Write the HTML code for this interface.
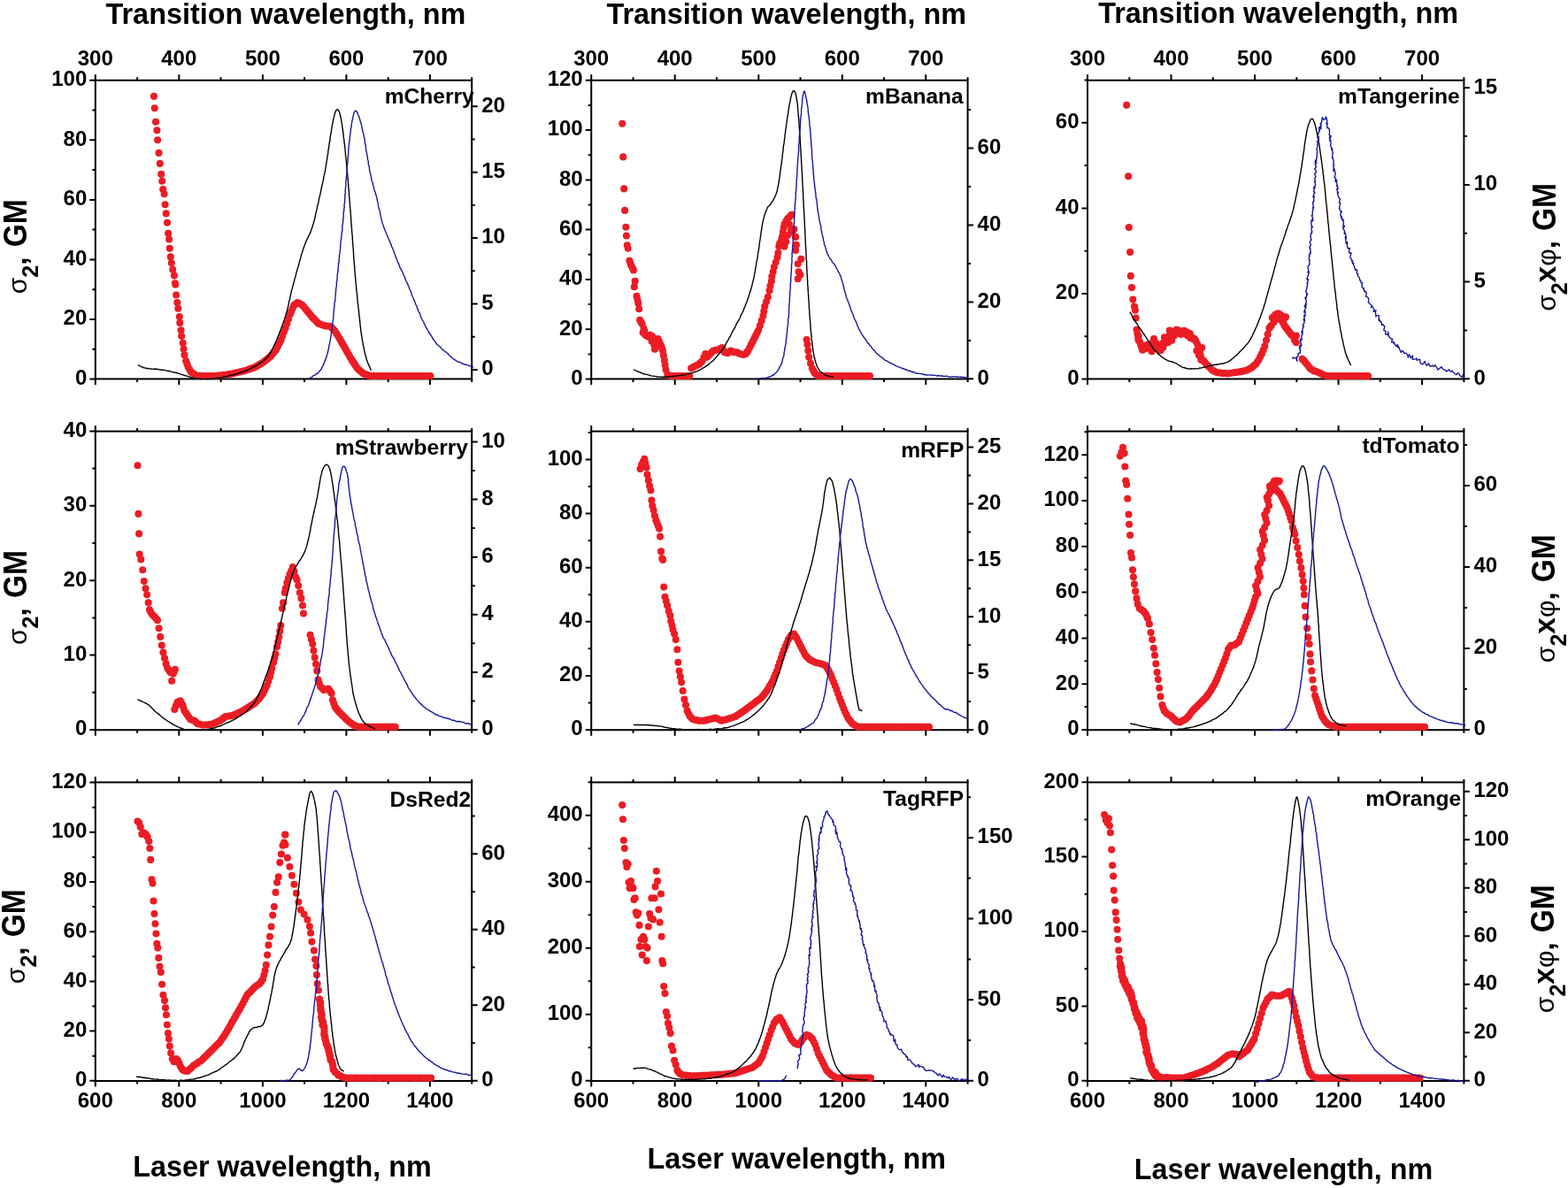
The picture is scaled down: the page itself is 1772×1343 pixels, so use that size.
<!DOCTYPE html><html><head><meta charset="utf-8"><style>html,body{margin:0;padding:0;background:#fff}svg{display:block}</style></head><body>
<svg width="1772" height="1343" viewBox="0 0 1772 1343">
<rect width="1772" height="1343" fill="#fff"/>
<g><rect x="107.8" y="90.8" width="425.4" height="337.6" fill="none" stroke="#000" stroke-width="2"/><path d="M107.8 428.4v6.5M107.8 90.8v-6.5M155.1 428.4v3.5M155.1 90.8v-3.5M202.3 428.4v6.5M202.3 90.8v-6.5M249.6 428.4v3.5M249.6 90.8v-3.5M296.9 428.4v6.5M296.9 90.8v-6.5M344.1 428.4v3.5M344.1 90.8v-3.5M391.4 428.4v6.5M391.4 90.8v-6.5M438.7 428.4v3.5M438.7 90.8v-3.5M485.9 428.4v6.5M485.9 90.8v-6.5M533.2 428.4v3.5M533.2 90.8v-3.5M107.8 428.5h-6.5M107.8 361h-6.5M107.8 293.4h-6.5M107.8 225.9h-6.5M107.8 158.3h-6.5M107.8 90.8h-6.5M107.8 394.7h-3.5M107.8 327.2h-3.5M107.8 259.6h-3.5M107.8 192.1h-3.5M107.8 124.6h-3.5M533.2 418h6.5M533.2 343.6h6.5M533.2 269.1h6.5M533.2 194.7h6.5M533.2 120.2h6.5M533.2 380.8h3.5M533.2 306.3h3.5M533.2 231.9h3.5M533.2 157.4h3.5" stroke="#000" stroke-width="2" fill="none"/><g font-family="'Liberation Sans', Arial, sans-serif" font-weight="bold" font-size="24" fill="#000"><text x="98.3" y="434.8" text-anchor="end">0</text><text x="98.3" y="367.3" text-anchor="end">20</text><text x="98.3" y="299.7" text-anchor="end">40</text><text x="98.3" y="232.2" text-anchor="end">60</text><text x="98.3" y="164.6" text-anchor="end">80</text><text x="98.3" y="97.1" text-anchor="end">100</text><text x="544.2" y="424.3">0</text><text x="544.2" y="349.9">5</text><text x="544.2" y="275.4">10</text><text x="544.2" y="201">15</text><text x="544.2" y="126.5">20</text><text x="107.8" y="74" text-anchor="middle">300</text><text x="202.3" y="74" text-anchor="middle">400</text><text x="296.9" y="74" text-anchor="middle">500</text><text x="391.4" y="74" text-anchor="middle">600</text><text x="485.9" y="74" text-anchor="middle">700</text></g><path d="M174 108.9h0M174.7 122.3h0M176 137.7h0M177.4 147.3h0M178.1 158.2h0M179.5 172.9h0M180.8 184.9h0M182.2 196.9h0M183.2 204.8h0M184.2 214h0M185.6 219.2h0M186.6 231.2h0M187.7 241.4h0M189 251.7h0M190.1 263.7h0M191.1 270.5h0M191.8 280.8h0M192.8 290.4h0M193.8 297.3h0M195.2 304.8h0M196.9 311.6h0M197.9 320.2h0M198.3 321.7h0M199.1 333.5h0M200.3 342h0M201.3 348.8h0M202.8 358.1h0M203.3 364.9h0M204.5 373.3h0M205.2 380.1h0M206.7 387.7h0M207.6 394.5h0M208.4 401.3h0M210.1 408h0M211.4 411.4h0M212.6 414.8h0M214.3 417.8h0M216 420.7h0M217.7 421.9h0M219.4 423h0M221.1 424.1h0M222.5 424.3h0M223.9 424.5h0M225.3 424.7h0M226.7 424.9h0M228.2 425h0M229.6 425h0M231.1 425h0M232.6 425h0M234.1 425h0M235.6 425h0M237.1 425h0M238.6 425h0M240.1 425h0M241.6 425h0M243.1 425h0M244.7 424.8h0M246.2 424.6h0M247.7 424.4h0M249.3 424.2h0M250.8 424h0M252.3 423.9h0M253.9 423.7h0M255.4 423.5h0M257 423.3h0M258.5 423.1h0M260 422.9h0M261.6 422.6h0M263.1 422.2h0M264.7 421.9h0M266.2 421.5h0M267.7 421.2h0M269.3 420.8h0M270.8 420.5h0M272.4 420.1h0M273.9 419.7h0M275.4 419.4h0M277 419h0M278.5 418.5h0M279.9 418h0M281.4 417.5h0M282.9 416.9h0M284.4 416.4h0M285.9 415.9h0M287.3 415.3h0M288.8 414.8h0M290.2 414h0M291.6 413.1h0M293.1 412.3h0M294.5 411.4h0M295.9 410.6h0M297.3 409.7h0M298.7 408.6h0M300.1 407.5h0M301.5 406.3h0M302.9 405.2h0M304.3 404.1h0M305.8 403h0M307.1 401.3h0M308.5 399.6h0M309.8 397.9h0M311.2 396.2h0M312.5 394.5h0M314.2 391.1h0M315.9 387.7h0M317.6 384.3h0M319.3 379.8h0M321 375.3h0M322.7 370.8h0M324.4 365.7h0M326.1 360.6h0M327.8 355.6h0M329.2 352.2h0M330.6 348.8h0M332 345.4h0M333.4 344.3h0M334.8 343.1h0M336.2 342h0M337.9 342.9h0M339.6 343.7h0M341.3 344.5h0M343 346.5h0M344.7 348.5h0M346.4 350.5h0M347.7 352.2h0M349.1 353.9h0M350.5 355.6h0M351.8 357.2h0M353.2 358.9h0M354.5 360.3h0M355.9 361.6h0M357.2 363h0M358.6 364.4h0M359.9 365.7h0M361.3 366.2h0M362.6 366.7h0M364 367.2h0M365.3 367.7h0M366.7 368.3h0M368.1 368.4h0M369.4 368.6h0M370.8 368.8h0M372.1 368.9h0M373.5 369.1h0M375.2 370.8h0M376.9 372.5h0M378.6 374.2h0M380.2 377h0M381.9 379.8h0M383.6 382.6h0M385 385h0M386.3 387.4h0M387.7 389.8h0M389.1 392.1h0M390.4 394.5h0M391.8 396.9h0M393.1 399.2h0M394.5 401.6h0M395.8 404h0M397.2 406.3h0M398.5 408.4h0M399.9 410.4h0M401.2 412.4h0M402.6 414.5h0M404 416.5h0M405.3 417.7h0M406.7 418.9h0M408 420.1h0M409.4 421.2h0M410.7 422.4h0M412.2 422.9h0M413.6 423.4h0M415.1 423.9h0M416.5 424.4h0M418 424.8h0M419.4 425h0M420.9 425h0M422.4 425h0M424 425h0M425.5 425h0M427 425h0M428.6 425h0M430.1 425h0M431.7 425h0M433.2 425h0M434.7 425h0M436.3 425h0M437.8 425h0M439.3 425h0M440.9 425h0M442.4 425h0M443.9 425h0M445.4 425h0M447 425h0M448.5 425h0M450 425h0M451.4 425h0M452.7 425h0M454.1 425h0M455.5 425h0M456.9 425h0M458.4 425h0M459.9 425h0M461.4 425h0M462.8 425h0M464.3 425h0M465.8 425h0M467.2 425h0M468.7 425h0M470.2 425h0M471.6 425h0M473.1 425h0M474.6 425h0M476 425h0M477.5 425h0M479 425h0M480.4 425h0M481.9 425h0M483.4 425h0M484.8 425h0M486.3 425h0" stroke="#eb1c24" stroke-width="8.1" stroke-linecap="round" fill="none"/><path d="M155.9 412.8L156.8 413 158.2 413.8 160 414.6 162 415.5 164.5 416.1 165.7 416.5 167.3 416.4 169 416.9 170.7 417 172.4 417.1 174.3 417.2 176.1 417 177.9 417.4 179.8 417.8 181.5 418 183.1 418.2 184.9 418.1 186.6 418.6 188.3 419 189.7 419.2 191.6 419.5 193.2 420.1 194.9 420.4 196.7 421 198.7 421.2 200 421.5 201.6 422.3 203.1 422.6 204.7 423.1 206.4 423.7 208 424.3 209.5 424.7 211.1 425.2 212.8 425.7 214.3 426.1 216 426.8 217.6 426.9 219.2 427.6 221 427.8 222.7 428.1 224.3 428 226.1 428.1 227.8 428.5 229.5 428.4 231.3 428.4 232.9 428.4 234.7 428.5 236.4 428.1 238 428.2 239.8 428.3 241.2 428.1 242.8 427.7 244.5 427.6 246.1 427.2 247.5 427.3 249.1 427 250.9 426.7 252.4 426.2 254 426.2 255.5 425.7 257.1 425.7 258.6 424.8 260.4 424.5 261.8 424.1 263.5 424 265 423.3 266.6 422.8 268.3 422.5 269.9 421.8 271.6 421.2 273.1 421.1 274.7 420.2 276.4 419.9 277.9 418.9 279.4 418.7 280.7 417.9 282.5 417 283.9 416.4 285.5 415.4 287 414.7 288.6 413.9 290 413 291.5 412.1 292.9 411.1 294.3 410.3 295.4 409.4 296.7 408.7 297.9 407.4 299.2 406.6 300.4 405.4 301.5 404.3 302.4 403.4 303.2 402 304.2 400.8 305.1 399.5 306.1 398 307.1 396 308.3 393.8 308.8 392.5 309.3 391.5 309.8 390.4 310.5 389.1 311.1 387.9 311.7 386.2 312.3 385 313 383.5 313.5 382.1 314.3 380.1 314.9 378.9 315.5 377.2 316.1 375.3 316.9 373.6 317.5 372.2 318 370.4 318.7 369.1 319.2 367.5 319.7 365.9 320.4 363.9 320.9 362.6 321.5 361.2 321.8 359.6 322.5 357.9 323 356.3 323.3 354.6 323.9 353.2 324.4 351.8 324.8 349.7 325.1 348.4 325.5 346.8 325.9 345.2 326.2 343.6 326.5 342 326.8 340.2 327.2 339 327.6 337.2 327.9 335.5 328.2 334.5 328.6 332.7 329 331.1 329.3 329.6 329.5 328.2 330 326.7 330.5 325 330.9 323.1 331.5 321.5 331.9 320.1 332.3 318.2 332.8 316.5 333.1 315 333.7 313.5 334.1 311.6 334.6 310.1 334.8 308.3 335.4 306.7 335.7 305.3 336.3 303.8 336.7 302.3 337.2 300.7 337.6 299.3 338 297.5 338.5 295.6 338.9 294.2 339.5 292.6 339.9 290.8 340.3 289.1 340.8 287.3 341.5 285.8 341.8 284.2 342.3 282.8 342.7 281.5 343.4 279.6 343.8 278.4 344.4 276.9 345 275.2 345.5 273.7 346.2 272.1 346.9 270.7 347.5 269.6 348.3 268.2 348.8 266.5 349.5 265.4 350.3 263.9 350.9 262.6 351.4 260.7 352.2 259.2 352.6 257.6 353 256.5 353.5 254.7 353.9 253.4 354.5 251.7 354.9 250.1 355.3 248.6 355.7 247 356.2 245.3 356.5 243.4 356.8 241.9 357.2 240.3 357.6 238.6 357.9 237.2 358.3 235.6 358.5 233.8 359 232.1 359.3 230.7 359.9 228.8 360.1 227.4 360.4 225.7 360.8 223.9 361.3 222.2 361.5 220.8 361.9 219.4 362.3 217.6 362.6 216.1 363 214.3 363.3 212.3 363.7 210.8 363.9 209.6 364.4 207.8 364.7 206.4 364.9 205.1 365.3 203.7 365.6 201.9 365.9 200.3 366.1 198.9 366.6 197.4 366.8 195.8 367.3 194.1 367.6 192.3 367.9 190.5 368.2 188.5 368.5 187.2 368.7 185.6 369 183.9 369.1 182.7 369.4 181 369.8 179.2 370 177.2 370.1 175.8 370.6 174 370.8 172.1 370.9 170.2 371.2 168.7 371.6 167.2 371.7 165.1 372 163.8 372.1 162.1 372.5 160.3 372.8 159.3 373 157.5 373.1 155.6 373.4 153.7 373.7 152.1 374.2 149.8 374.5 148.1 374.6 146.7 375 144.7 375 143.3 375.3 141.9 375.8 140.2 375.9 138.8 376.3 137.3 376.6 136.2 377 133.8 377.6 131.9 378 129.5 378.6 127.7 379.1 126.2 379.6 125.4 380.1 124.2 381.8 123.7 383.6 126.6 383.8 127.5 384.1 128.5 384.4 130 384.8 131.5 385 132.8 385.5 134.2 385.7 136.1 386.1 137.7 386.3 139.7 386.7 141.6 386.8 143.6 387.2 146 387.5 147 387.6 148.6 387.8 149.9 387.9 151.5 388.1 152.7 388.3 154.6 388.4 155.9 388.7 157.5 388.8 158.8 389.1 160.8 389.2 162.3 389.5 164.2 389.7 165.7 389.9 167.6 390.1 169.5 390.2 171.3 390.4 173.3 390.5 175.1 390.7 176.6 390.9 178.2 391 179.4 391.2 181 391.4 182.8 391.5 183.9 391.7 185.6 391.7 187.2 391.9 189 392 190.3 392.2 191.9 392.4 193.6 392.5 195.1 392.7 196.7 392.8 198.6 392.9 200 393.1 201.6 393.3 203.4 393.4 204.9 393.5 206.8 393.6 208.5 393.8 210.4 393.9 212.1 394 213.7 394.3 215.3 394.4 217 394.5 219 394.5 220.4 394.6 222.1 394.9 223.6 395 224.8 395 226.7 395.3 228.5 395.4 230 395.4 231.7 395.5 233 395.7 234.7 395.8 236.4 396.1 238.1 396.1 239.9 396.2 241.3 396.4 243.1 396.5 244.8 396.6 246.5 396.6 248.1 396.9 249.9 396.8 251.5 397 253.1 397.1 254.7 397.3 256.5 397.5 258.4 397.6 260 397.6 261.8 397.8 263.3 398 264.9 398.2 266.8 398.3 268.5 398.3 269.9 398.5 271.5 398.5 273.1 398.6 274.8 398.8 276.5 399 278.5 399.1 280.1 399.3 281.8 399.3 283.4 399.5 285.4 399.5 286.9 399.6 288.4 399.7 290.3 399.8 292.1 400 293.6 400.2 295.5 400.2 297.2 400.3 298.6 400.6 300.1 400.7 301.7 400.8 303.6 400.8 305.2 401.1 306.6 401.1 308 401.2 309.8 401.4 311.4 401.5 312.4 401.7 314.6 401.9 316.1 401.9 318.1 402.1 320.1 402.4 321.6 402.5 323.4 402.6 325.1 402.7 326.6 403 328.4 403.1 329.8 403.2 331.3 403.5 332.9 403.7 334.5 403.7 336.3 404 337.9 404.1 339.5 404.2 340.9 404.3 342.4 404.6 343.9 404.8 345.4 404.9 347 405 348.4 405.3 350 405.5 351.8 405.6 353.8 405.8 355.2 406 356.8 406.1 358.7 406.5 360.4 406.4 362.2 406.8 363.9 406.9 365.5 407 367.2 407.3 368.8 407.4 370.3 407.7 372 407.7 373.5 408 374.8 408.2 376.2 408.4 378 408.7 379.4 409 381.2 409.2 383.1 409.5 384.8 409.9 386.6 410.2 388.1 410.3 389.6 410.8 391.7 411 393 411.4 394.7 411.7 396.2 412 397.5 412.4 399.2 412.6 400.2 413.1 401.6 413.3 403.1 414 404.9 414.5 407.3 415.3 409.1 415.9 410.7 416.7 412.3 417.3 414.2 418.1 415.4 418.5 416.6 419 417.9 419.4 418.7" stroke="#000" stroke-width="1.4" fill="none" stroke-linejoin="round"/><path d="M348.9 428.6L350 427.4 351 427 352.4 426.6 353.6 424.9 355.5 424.4 357 422.9 358.4 422.5 359.7 421.6 361.2 419.4 361.8 418.7 363.1 417.2 363.6 415.9 364.3 414.3 365.3 413.1 365.9 411.2 366.6 409.6 367.3 407.2 368.3 405.6 368.6 404 369.2 403.3 369.2 401.5 369.8 400.5 370.3 398.7 370.7 397.5 370.8 395.9 371.4 394.6 371.6 392.7 371.8 390.7 372.5 389.1 372.6 387.4 373.2 385.6 373.4 383.4 373.8 381.8 374.1 379.2 374.3 377.5 374.3 376.8 374.9 375.3 374.8 373.4 375.1 372.7 375.4 370.7 375.6 368.9 375.7 368 375.9 365.9 375.9 364.3 376.4 362.1 376.5 361.3 376.7 359.5 376.9 357.5 376.9 355.7 376.9 354.4 377.3 352 377.4 350.5 377.5 348.6 377.8 347.1 378 345.2 377.9 343.2 378.2 341.8 378.7 340.2 378.8 338.5 378.8 336.8 379.1 334.5 379 332.8 379.5 331.5 379.3 330.2 379.6 328.1 379.7 326.9 379.9 325 380.3 323.6 380.3 322 380.3 320.2 380.6 318.4 380.7 317.5 381 315.1 381.2 314.1 381.1 311.6 381.3 310.6 381.5 308.9 381.9 307.1 381.9 305.9 382.3 303.7 382.2 302.2 382.4 300.5 382.6 298.8 382.6 296.9 383.2 295.8 383.1 294.1 383.2 292.5 383.6 290.3 383.5 288.3 384 286.7 384.1 285.9 384.2 283.5 384.5 282.7 384.6 280.6 384.6 278.8 384.7 277.4 385 275.3 385 274.1 385.2 272.3 385.4 271.1 385.8 268.6 385.7 267.2 386.2 266 386.1 263.8 386.4 262.8 386.7 260.7 386.9 259.4 386.8 258 386.9 256.1 387 253.9 387.5 252.3 387.6 251.1 387.8 249.2 387.7 247.5 388.1 246.1 388.3 244.8 388.1 242.8 388.2 240.6 388.3 239.8 388.8 238.1 388.7 236.3 389.1 234.3 389.1 232.5 389 230.9 389.5 229.5 389.7 227.7 389.5 226.4 389.9 223.9 389.9 222.3 389.8 221.4 389.9 219.1 390.4 217.6 390.1 215.6 390.3 214.6 390.4 213.1 390.6 211.5 391 209.1 390.8 207.7 390.8 206.2 390.9 203.9 391.5 202.6 391.4 201.2 391.4 199.2 391.8 198.5 391.9 196.1 391.7 195.1 392.2 193.5 392.2 191.8 392.2 189.9 392.3 187.9 392.4 186.1 392.9 184.5 392.9 182.9 393.2 180.9 393 179.1 393.2 177.9 393.6 175.6 393.5 174.1 393.7 172.5 393.7 170.2 393.9 168.6 394.1 167 394.1 165.9 394.3 164.5 394.5 163 394.5 161.2 395 159.3 395.2 157.9 395.2 157.3 395.4 155.3 395.2 154.2 395.7 152.7 396 150.2 396.3 147.9 396.3 146.7 396.8 144.8 397.1 142.8 397.3 140.5 397.5 138.9 397.9 137.9 397.9 135.9 398.5 135.3 398.6 133.8 399 132.5 399.1 131.3 399.8 128.1 400.7 126.5 401.4 125.2 402.2 125.1 402.8 125.8 403.9 127.2 404.5 129.2 405.3 130.8 406.3 133.8 406.7 135 407.1 136.5 407.3 137.6 407.8 138.8 408.2 140.6 408.8 142.5 408.9 143.9 409.2 145 409.8 147.6 410.1 149.3 410.8 150.8 411.1 153.3 411.3 154.5 411.7 155.8 412 157.6 412.3 158.8 412.2 160 412.5 162 413 163.1 413.2 165.4 413.4 166.9 413.5 168.8 413.8 170.8 414.4 172.1 414.4 174.1 415 174.9 415.1 177.2 415.4 178.7 415.5 180.4 416 181.4 416.3 183.2 416.3 184.8 416.6 187.1 417.3 188 417.4 190 417.5 191.5 417.9 193.6 418.1 194.7 418.6 196.1 419 198.2 419.5 199.3 419.5 201.2 419.8 202.6 420.1 204.2 420.7 205.7 421.3 207.3 421.5 209.3 422.1 210.5 422.3 211.6 422.6 213.5 423.1 214.9 423.8 216.7 424.4 218.4 424.6 219.8 425.4 221.8 425.7 223.2 426 224.2 426.3 226.1 426.6 227.6 427.1 229.5 427.3 231.2 427.6 232.4 427.8 234.2 428.5 236.6 429 238 429.4 239.7 429.7 241.4 430.1 243.8 430.3 244.7 430.8 246.7 431.1 247.9 431.6 249.9 432 251.9 432.5 253.3 433.2 255 433.6 256.6 434.2 258.1 434.8 259.4 435.4 261.1 436.1 262.8 436.7 264.2 437.3 265.5 437.7 266.6 438.4 268.6 439 269.3 439.7 271 440.2 272 440.8 274.2 441.4 275.2 442.1 276.4 442.6 278.8 443.3 279.8 443.9 281.5 444.3 282.6 445.2 284.2 445.4 286.2 446.2 287.3 446.8 289.2 447.2 290.6 448.1 292.2 448.5 293.5 449.1 295 449.6 296.7 450.5 297.7 450.8 299.7 451.7 301 452 302.7 453 303.7 453.6 305.7 454.4 306.6 455 308.1 455.9 309.9 456.5 311.6 457.1 312.7 457.7 314 458.2 316.1 459 317.7 459.6 319.2 460.5 320.4 460.9 322 461.7 323.2 462.2 324.6 462.9 326.9 463.4 327.5 464.2 329.8 464.9 331.1 465.2 332.9 465.7 334.3 466.3 335.5 467.1 337 467.5 338.4 468.4 340.1 468.9 341.3 469.5 342.9 470.1 345 470.9 345.5 471.4 348 471.9 349.1 472.7 351.2 473.2 352.7 474.1 353.6 474.8 355 475.1 357.2 475.7 358.4 476.4 360 477.4 362 477.8 362.6 478.8 364.1 479.3 365.6 480 367 481 369.1 481.8 370.7 482.6 371.7 483.5 373.7 484.3 374.5 484.9 376.6 486 377.4 486.9 379 487.7 379.9 488.5 381.6 489.4 383.3 490.3 384.3 491.3 385.6 492.2 386.8 493.2 388.5 494.3 389.8 495.8 391 496.7 391.5 498.2 393 499.2 394.7 500.2 395.3 501.6 395.9 502.8 397.6 504.2 397.9 505.3 399.2 506.8 400.4 507.8 401.8 509.4 402.9 510.5 404.5 512.1 405.6 513.2 406.1 514.5 407.2 515.8 407.8 517.6 409.3 519.1 409.1 520.7 410.1 522.4 411 523.9 411.5 525.2 412.2 526.7 412.1 527.7 412.6 530.1 413.1 532.1 414.3 533.6 415.1 535.1 414.9" stroke="#16189c" stroke-width="1.4" fill="none" stroke-linejoin="round"/><text x="535.8" y="116.6" text-anchor="end" font-family="'Liberation Sans', Arial, sans-serif" font-weight="bold" font-size="24.6">mCherry</text></g>
<g><rect x="668.2" y="90.8" width="425.4" height="337.6" fill="none" stroke="#000" stroke-width="2"/><path d="M668.2 428.4v6.5M668.2 90.8v-6.5M715.5 428.4v3.5M715.5 90.8v-3.5M762.7 428.4v6.5M762.7 90.8v-6.5M810 428.4v3.5M810 90.8v-3.5M857.3 428.4v6.5M857.3 90.8v-6.5M904.5 428.4v3.5M904.5 90.8v-3.5M951.8 428.4v6.5M951.8 90.8v-6.5M999.1 428.4v3.5M999.1 90.8v-3.5M1046.3 428.4v6.5M1046.3 90.8v-6.5M1093.6 428.4v3.5M1093.6 90.8v-3.5M668.2 428.5h-6.5M668.2 372.2h-6.5M668.2 315.9h-6.5M668.2 259.6h-6.5M668.2 203.4h-6.5M668.2 147.1h-6.5M668.2 90.8h-6.5M668.2 400.4h-3.5M668.2 344.1h-3.5M668.2 287.8h-3.5M668.2 231.5h-3.5M668.2 175.2h-3.5M668.2 118.9h-3.5M1093.6 428.3h6.5M1093.6 341.4h6.5M1093.6 254.5h6.5M1093.6 167.6h6.5M1093.6 384.9h3.5M1093.6 297.9h3.5M1093.6 211h3.5M1093.6 124.1h3.5" stroke="#000" stroke-width="2" fill="none"/><g font-family="'Liberation Sans', Arial, sans-serif" font-weight="bold" font-size="24" fill="#000"><text x="658.7" y="434.8" text-anchor="end">0</text><text x="658.7" y="378.5" text-anchor="end">20</text><text x="658.7" y="322.2" text-anchor="end">40</text><text x="658.7" y="265.9" text-anchor="end">60</text><text x="658.7" y="209.7" text-anchor="end">80</text><text x="658.7" y="153.4" text-anchor="end">100</text><text x="658.7" y="97.1" text-anchor="end">120</text><text x="1104.6" y="434.6">0</text><text x="1104.6" y="347.7">20</text><text x="1104.6" y="260.8">40</text><text x="1104.6" y="173.9">60</text><text x="668.2" y="74" text-anchor="middle">300</text><text x="762.7" y="74" text-anchor="middle">400</text><text x="857.3" y="74" text-anchor="middle">500</text><text x="951.8" y="74" text-anchor="middle">600</text><text x="1046.3" y="74" text-anchor="middle">700</text></g><path d="M749 396.5h0M749.9 401.9h0M750.8 407.3h0M751.6 412.6h0M752.5 418h0M754.3 423.3h0M756.1 424.4h0M757.9 425h0M759.3 425h0M760.8 425h0M762.2 425h0M763.6 425h0M765 425h0M766.5 425h0M768 425h0M769.5 425h0M771 425h0M772.5 425h0M774 425h0M775.3 425h0M776.7 425h0M778 425h0M779.3 425h0M781.1 416.2h0M782.9 415.3h0M784.7 414.4h0M786 413.7h0M787.4 413.1h0M788.7 412.4h0M790.1 411.7h0M791.8 409.9h0M793.6 408.2h0M795.4 404.1h0M797.2 400.1h0M799 403.7h0M800.8 401.9h0M802.6 400.1h0M804.4 398.3h0M806.1 396.5h0M807.9 396.1h0M809.7 395.7h0M811.5 395.2h0M813.3 394.8h0M814.6 393.9h0M816 393h0M817.3 395.7h0M818.6 398.3h0M820.4 398.8h0M822.2 399.2h0M824 397.9h0M825.8 396.5h0M827.6 397.4h0M829.4 398.3h0M831.2 398.3h0M832.9 398.3h0M834.7 399.2h0M836.5 400.1h0M838.3 400.6h0M840.1 401h0M841.4 400.6h0M842.8 400.1h0M844.1 398.3h0M845.4 396.5h0M847.2 393h0M849 389.4h0M850.4 386.7h0M851.7 384h0M853 381.4h0M854.4 378.7h0M855.7 376h0M857.1 373.3h0M858.9 368h0M860.6 362.6h0M862.4 357.2h0M863.3 351.9h0M864.2 346.5h0M866 341.2h0M867.8 335.8h0M869.6 328.6h0M870.5 323.3h0M871.9 317.9h0M872.3 312.6h0M873.7 307.2h0M874.9 301.8h0M876.7 296.5h0M878.5 291.1h0M879.4 285.8h0M880.3 278.6h0M881.2 275h0M883 271.5h0M883.9 267.9h0M884.8 262.5h0M885.7 257.2h0M886.5 253.6h0M888.3 250h0M890.1 247.3h0M891.9 245.6h0M893.2 244.2h0M894.6 242.9h0M911.6 384h0M912.5 389.4h0M913.3 396.5h0M914.2 403.7h0M916 410.8h0M917.8 416.2h0M919.2 418.9h0M920.5 421.6h0M922.3 423.3h0M924.1 425h0M925.5 425h0M926.9 425h0M928.4 425h0M929.8 425h0M931.2 425h0M932.7 425h0M934.2 425h0M935.7 425h0M937.2 425h0M938.7 425h0M940.1 425h0M941.6 425h0M943.1 425h0M944.6 425h0M946.1 425h0M947.5 425h0M949 425h0M950.5 425h0M952 425h0M953.5 425h0M954.9 425h0M956.4 425h0M957.9 425h0M959.4 425h0M960.9 425h0M962.3 425h0M963.8 425h0M965.3 425h0M966.8 425h0M968.2 425h0M969.7 425h0M971.2 425h0M972.7 425h0M974.2 425h0M975.6 425h0M977.1 425h0M978.6 425h0M980.1 425h0M981.6 425h0M983 425h0M886.5 278.6h0M888.3 273.3h0M890.1 266.1h0M893.7 260.8h0M897.3 259h0M899.1 267.9h0M899.9 276.8h0M899.1 283.1h0M901.7 298.3h0M905.3 292.9h0M902.6 307.2h0M904.4 310.8h0M901.7 315.2h0M884.8 275h0M891.9 253.6h0M895.5 262.5h0M703.2 139.7h0M704.2 177.4h0M705.2 213.4h0M706.1 237.9h0M707.3 256.8h0M707.9 266.5h0M708.8 277.2h0M709.7 280.8h0M711.4 294.7h0M712.3 297.4h0M713.2 300.1h0M714.7 302.7h0M715.9 305.4h0M717.7 317.9h0M716.8 324.2h0M719.5 334.9h0M720.4 339h0M721.3 342.9h0M722.2 349.2h0M723.1 361.7h0M724.3 364h0M725.7 366.2h0M727.5 371.5h0M726.6 376h0M729.3 378.7h0M732 380.5h0M734.7 378.7h0M737.3 380.5h0M736.5 385.8h0M739.1 389.4h0M740 394.8h0M741.8 384h0M743.6 383.1h0M745.4 387.6h0M747.2 391.2h0M728.4 374.2h0M730.7 379.6h0M733.4 379.6h0M736.1 379.6h0M738.2 384.9h0M740.4 386.7h0M742.7 383.7h0M744.5 385.5h0M746.3 389.4h0M748.1 393.9h0" stroke="#eb1c24" stroke-width="8.1" stroke-linecap="round" fill="none"/><path d="M716.1 417.8L717 418.1 718.2 418.8 719.5 419.5 721.1 420.1 722.8 420.7 724.7 421.7 726.4 422.1 728.3 423 729.8 423.1 731.3 423.4 732.8 423.9 734.2 424.2 735.9 424.9 737.5 425.1 739.2 425.3 740.9 425.4 742.5 425.7 744.4 426 745.9 426.1 747.4 426 749.1 426.2 750.5 426.1 752.2 426.2 753.9 425.9 755.6 425.7 757.1 425.9 758.7 425.6 760.3 425.5 762.1 425.3 763.8 424.9 765.4 424.9 767 424.6 768.7 424.6 770.2 424.2 771.8 423.9 773.6 423.8 775.3 423.1 776.8 423 778.3 422.5 779.9 421.9 781.4 421.8 782.9 421.1 784.6 420.8 786 420.1 787.6 419.7 789.2 419.1 790.5 418.2 791.9 417.8 793.5 416.7 794.7 415.9 796.1 415.1 797.7 414.1 799 413.1 800.2 412.3 801.5 411.4 802.6 410.4 803.8 409.1 805.1 408.4 806.2 407.3 807.3 406 808.4 404.9 809.6 403.4 810.7 402.2 811.9 400.8 812.9 399.6 814 398.4 815.1 397.2 816.1 395.7 816.9 394.5 817.8 393.1 818.7 392.2 819.4 390.6 820.1 389 821 387.7 821.9 386.2 822.5 385.2 823.4 383.3 824.1 381.8 824.9 380.8 825.8 379.1 826.4 377.5 827.2 376.2 828 374.7 828.8 373 829.6 371.9 830.4 370.4 831.2 368.9 831.9 367.3 832.7 365.6 833.4 364.2 834.2 362.9 835.2 361.3 835.9 360 836.7 358.2 837.3 356.6 838 355 838.9 353.8 839.6 352 840.3 350.6 840.8 348.9 841.6 347.5 842.1 345.9 842.6 344.6 843.2 343.2 843.9 341.5 844.3 340.3 844.9 338.5 845.3 337 846 335.8 846.3 334.3 847 332.7 847.3 331.2 847.8 329.3 848.4 328.1 848.8 326.6 849.2 325 849.8 323 850.1 321.4 850.5 319.9 850.9 318.3 851.2 317.1 851.6 315.3 852 314 852.2 312.4 852.6 310.6 852.9 308.7 853.2 307.2 853.4 305.8 853.7 304 854.1 302.4 854.3 300.7 854.6 299.2 854.8 297.4 855.1 295.6 855.5 294.1 855.7 292.6 856.1 290.8 856.2 289.2 856.5 287.7 856.7 286 857 284.7 857.3 283 857.6 280.9 857.8 279.5 858.1 277.4 858.2 275.8 858.5 273.9 858.7 272.4 859.1 270.8 859.2 269 859.5 267 859.8 265.7 859.9 264.1 860.2 262.2 860.5 260.8 860.6 259.1 860.9 257.6 861 256.1 861.4 254.6 861.6 253.5 861.7 252.2 862.3 250 862.7 248.1 863.3 246.2 863.7 244.1 864.1 242.8 864.7 241 865.2 240 865.7 238.4 866.1 237.6 866.7 236.3 867.5 234.2 868.5 233.2 869.3 232.6 870.4 231.5 871.4 230 872.1 228.8 873 227.3 873.8 226.4 874.6 224.6 875.5 223.1 876.3 221.2 877.1 219.2 877.9 216.8 878.3 215.6 878.5 214.3 878.8 212.9 879 211.5 879.4 210.3 879.6 208.8 880 207.1 880.2 205.7 880.4 204.2 880.6 202.4 881 200.9 881.1 199.1 881.5 197.2 881.7 195.3 881.8 193.4 882.1 191.8 882.4 189.7 882.6 188.1 883 186.6 883.1 184.9 883.3 183.5 883.4 182 883.7 180.7 884 178.9 884.1 177.5 884.3 175.5 884.4 173.9 884.7 172.2 884.9 170.6 885 168.8 885.2 167.1 885.4 165.2 885.7 163.7 886 162.1 886.2 160.5 886.4 159 886.5 157.1 886.9 155.4 887 154 887 152.6 887.4 150.9 887.6 149.5 887.7 147.6 888 146 888.3 144.2 888.5 142.4 888.8 140.5 889 138.4 889.2 136.8 889.4 135.3 889.8 133.5 890 131.8 890.3 129.8 890.6 128.6 890.8 126.9 891 125.1 891.3 123.7 891.4 122.3 891.8 120.8 892 119.9 892.1 118.3 892.4 117.3 892.9 114.8 893.3 112.3 893.7 110.3 894.2 108.6 894.6 106.8 894.9 105.6 895.5 104.7 895.9 103.6 896.2 103 897.4 102.4 898.5 104.1 899.6 107.8 899.6 108.5 900 109.8 900.1 110.5 900.3 112 900.5 113.1 900.7 114.5 901 115.8 901.2 117.7 901.4 119.7 901.5 122 901.8 123.9 901.9 126.8 902.1 127.9 902.1 129.1 902.3 130.6 902.3 131.8 902.6 132.7 902.7 134.3 902.8 135.5 902.8 136.9 903 138.4 903 139.8 903.1 141.1 903.1 143 903.3 144.6 903.4 145.8 903.6 147.4 903.6 149.4 903.9 151 903.9 152.8 904.1 154.3 904.1 155.8 904.3 157.8 904.4 159.7 904.4 161.2 904.6 163.2 904.6 165.2 904.7 167.3 905 169 905 171 905.1 173 905.2 174.9 905.2 176.6 905.4 177.7 905.6 179.4 905.5 180.4 905.6 181.8 905.7 183.2 905.7 184.8 905.9 186.6 906 187.8 906 189.4 906.1 190.8 906.1 192.3 906.4 193.8 906.4 195.6 906.5 196.9 906.5 198.6 906.6 200.2 906.8 202.1 906.9 203.3 906.7 205.2 907 206.8 907 208.2 907.1 210.3 907.3 211.9 907.4 213.3 907.3 214.9 907.5 216.9 907.6 218.6 907.7 220.3 907.7 221.9 907.7 223.7 907.8 225.5 908 226.9 908 228.6 908.2 230.5 908.1 231.9 908.3 233.8 908.4 235.4 908.5 237 908.5 238.9 908.8 240.7 908.8 242.3 908.8 243.9 909 245.8 909 247.2 909.1 249.2 909.2 250.5 909.3 252.4 909.3 253.5 909.4 255.3 909.5 256.8 909.6 258.7 909.7 260 909.8 261.7 909.9 263.3 909.8 265.2 909.9 266.9 910.1 268.2 910.1 270 910.3 271.9 910.2 273.3 910.3 275.3 910.4 276.5 910.5 278.3 910.7 280.2 910.8 282 910.9 283.3 910.8 285.3 911 286.5 911.1 288.4 911.1 290 911.1 291.5 911.2 293.4 911.5 294.9 911.6 296.6 911.5 298.6 911.7 300 911.6 301.7 911.8 303.6 911.8 304.9 912.1 306.4 912 308.4 912.2 309.6 912.1 311.2 912.4 312.9 912.5 314.8 912.4 316 912.7 317.7 912.6 319.3 912.7 320.6 912.7 322.3 913 323.8 913.1 324.9 913 326.6 913.3 328.3 913.3 329.4 913.4 331.4 913.6 333.1 913.7 335.2 913.8 337.1 913.9 338.7 913.9 340.5 914.2 342.2 914.2 344.4 914.3 345.8 914.4 347.9 914.5 349.9 914.8 351.7 914.8 353 914.8 355 915.1 356.7 915.1 358.4 915.3 360.2 915.5 362 915.6 363.3 915.8 365 915.8 366.7 916 368.2 916 369.8 916.1 371.7 916.3 373 916.4 374.8 916.6 376 916.8 377.6 916.9 378.8 917 380.6 917.2 382 917.1 383.1 917.3 384.3 917.6 385.8 917.8 387 917.9 388.2 917.9 389.6 918.2 390.4 918.5 393.3 918.7 395.6 919.1 397.7 919.5 400 919.9 401.7 920.1 403.6 920.7 405.1 921 406.7 921.5 408.2 921.7 409.4 922.2 410.8 922.7 411.8 923 413.2 923.5 414.1 924 415.5 924.5 416.4 925.7 418.4 927.2 420.4 928.5 421.2 930 422.2 931.3 423.3 932.8 423.9 934.2 424.6 936 425 937.8 425.6 939.7 426 941.1 425.9 942.2 426" stroke="#000" stroke-width="1.4" fill="none" stroke-linejoin="round"/><path d="M856.9 428.7L857.8 428.3 859.2 427.7 861.2 427.5 862.9 427.6 864.7 427.4 866.4 427.4 868.1 426.3 869.6 425.8 871.4 425.6 872.9 424 874.3 424 875.6 422.5 877 421.3 878.2 419.9 879.5 418.1 880.4 416.9 880.7 415.2 881.7 414.4 882 413.6 882.8 412 883.5 410.1 883.8 409 884.2 407.1 884.7 405.1 885.5 403.2 886.1 400.3 886 398.7 886.4 397.9 886.4 397.1 886.8 395.7 886.9 394.1 887 392.9 887.4 391.7 887.6 390.8 888 388.8 888 387.5 888.3 386.8 888.3 385.2 888.6 382.9 889 381.6 888.9 380.1 889.1 378.3 889.4 376.5 889.6 374.5 889.6 372.4 889.8 370.8 890.1 368.9 890.4 366.6 890.8 363.7 890.5 361.3 890.8 360.5 891.1 359.1 891.3 357.5 891.3 356.4 891.4 354.9 891.6 354.2 891.7 352.7 891.4 351.6 891.6 349.3 891.8 348.3 891.8 346.4 891.7 345.3 892 343.4 892.1 342.4 892.3 340.6 892.3 338.9 892.3 337.1 892.5 335.4 892.7 334.4 892.7 332 892.7 330.8 892.7 329.6 893.1 327.5 893.2 325.5 893.1 324.1 893.4 322.5 893.1 320.7 893.6 319.1 893.8 317.6 893.5 315.2 893.8 314.2 893.8 312.4 894.1 310.2 894.1 308.9 894.3 306.5 894.4 304.6 894.3 303.7 894.6 301.3 894.4 299.8 894.8 298.2 894.9 296.5 895 294.7 894.8 292.8 895 291.2 895.3 289.3 895 288 895.2 286.1 895.2 284.8 895.4 282.7 895.7 281.3 895.6 280 895.7 277.9 896.1 276.7 896.1 274.5 896.2 273.3 896.3 271.4 896.4 270.2 896.3 268.4 896.6 267.1 896.7 265.3 896.5 263.5 896.8 261.3 896.8 260.5 897.1 258.9 896.9 256.9 897.3 255.3 897.1 253.1 897.5 252.3 897.5 250.1 897.7 248.9 897.7 247.1 897.6 245.1 897.7 243.5 897.9 241.7 898.1 240.3 897.9 238.6 898.1 237.1 898.4 235.2 898.3 233.7 898.3 232.6 898.4 230.2 898.7 229.3 898.9 227.5 898.8 226.2 899.1 224.2 899.1 223.1 899.4 221.5 899.1 219.3 899.3 217.6 899.6 215.9 899.7 214.8 899.7 213.1 899.9 211.7 900 210.5 900 209 900 206.8 900.3 205.4 900.1 204.1 900.3 202 900.6 200.8 900.7 199.1 900.8 197.2 900.6 195.7 901 194.2 901 191.7 901 189.9 901.1 189 901.2 187 901.5 184.6 901.6 182.8 901.5 181.5 901.6 180.1 901.9 178 902.2 175.7 902.3 173.8 902.3 172.7 902.6 170.6 902.7 169.2 902.6 166.9 902.6 165.4 902.7 163.7 903.1 161.9 903.1 159.9 903 158.9 903.4 156.8 903.2 155.1 903.4 153.6 903.6 151.9 903.8 150.8 903.9 149.2 904 147.2 904.2 145.7 904.3 144.4 904.3 142.9 904.4 141.4 904.5 140.3 904.5 138.8 904.6 137.4 904.7 136.1 905 134.5 904.8 133.9 904.9 132.6 905.3 130.9 905.3 129.8 905.7 126.8 905.5 123.9 906 121.6 906.1 120 906.5 117.6 906.6 115.5 906.5 113.8 906.9 112.2 907.1 110.7 907.1 109.4 907.3 107.7 907.7 107.2 908 106.2 908.2 104.9 908.1 103.9 908.5 104.1 909.1 102.9 909.5 103.8 909.9 105.4 910.4 107.1 910.9 110.6 911.8 113.7 911.8 115.3 911.9 116.2 912.3 117.3 912.3 118.9 912.7 119.6 912.9 121.5 913.1 123 913.2 124.4 913.3 125.9 913.4 127.1 913.7 129.3 914 131 914.3 132.8 914.4 134.3 914.5 135.7 914.9 138 914.8 139.6 915 142.1 915.4 143.7 915.6 146.2 915.5 147.4 916 148.4 915.8 150.3 916.1 152 916.1 153.3 916 154.4 916.5 156.2 916.4 157.7 916.6 159.2 916.8 161.3 916.6 162.7 917.1 164.2 917 165.6 917.1 167.5 917.3 168.7 917.6 170.6 917.5 172.2 917.6 173.8 917.6 175.8 917.7 177.6 917.8 179.4 918.2 181.2 918.4 183.3 918.3 184.5 918.6 186.6 918.6 188.1 918.8 189.6 918.8 191.2 919 192.9 919.3 194.2 919.1 196.6 919.4 197.9 919.7 199.5 919.7 201.3 919.9 202.5 919.9 203.9 920.4 206.4 920.4 207.7 920.7 209.5 920.7 211.5 921 213 921.3 214.4 921.5 215.9 921.7 218 921.9 219.3 921.9 220.8 922.1 222.6 922.5 224.6 922.8 226.1 923 227.3 923.1 229 923.4 231.1 923.6 232.6 923.7 234 923.8 235.5 924.2 237.4 924.3 239.2 924.5 240 924.9 241.7 925.2 243.5 925.5 245.1 925.7 246.4 925.9 247.3 926 248.8 926.5 250.8 926.8 253 927.3 254.4 927.7 256.1 928 258.9 928.1 260.5 928.5 262 929 264.2 929.2 265.2 929.8 267.2 930.1 268.5 930.5 270.1 930.5 271.8 931.3 273.5 931.4 274.9 931.6 276.5 932.2 277.8 932.7 279.2 933.2 281.1 933.4 281.6 933.8 283.4 934.3 284.4 935.1 287.2 936 288.2 936.8 290.5 937.7 292.3 938.4 292.8 939.7 294.1 940.3 296.1 941.3 297.3 942.4 298.2 943 298.9 944.1 300.9 945 302.3 945.6 303.9 946.4 304.9 947.1 306.5 947.8 307.8 949 310 949.7 311.4 950.4 313.1 950.8 315.2 951.3 316.6 951.6 317.4 951.8 318.8 952.6 320.6 952.9 322.5 953.2 323.5 953.9 325.7 954 327.5 954.7 329.2 954.9 330.5 955.7 332.6 956.1 334.7 956.6 336.3 957 337.3 957.9 339.1 958.3 340.8 958.8 342 959.5 343.5 960.1 345.3 960.2 346.4 961.2 347.8 961.4 349.9 962.3 351.9 963 353.1 963.5 354.5 964.2 356.2 964.4 357.6 965 358.8 965.7 360.7 966.2 361.5 967.1 363.1 967.8 364.8 968.5 366.9 969.1 368.5 969.8 369.8 970.3 370.9 971 372.8 971.8 373.7 972.6 375.7 973.5 377 974.2 378.4 975.1 379.4 975.9 380.7 976.8 382.3 978 383.3 978.8 384.7 979.8 385.9 980.9 388.1 982.2 388.9 982.9 390.7 984.3 391.5 985.1 393.3 986.4 394.5 987.7 396.1 988.6 396.7 989.7 398.3 990.8 399.6 992.1 400.3 993.3 401.9 994.6 402.7 996.3 403.9 997.2 404.4 998.7 406 1000 407.2 1001.6 407.7 1003 408.6 1004 409.1 1005.3 410 1007.1 410.7 1008.2 411.4 1009.9 412.2 1011.6 413.1 1012.9 413.8 1014.4 414.4 1016.3 415.1 1017.8 415.5 1019.6 416.7 1021 416.4 1022.6 417.8 1024.3 417.7 1025.7 418.9 1027.2 419.2 1028.9 419.3 1030.4 420.5 1032.1 420.2 1033.2 420.9 1034.8 422 1036.5 421.9 1038.6 422.4 1040.2 422.4 1041.6 422.8 1043.3 423.2 1044.6 423.2 1046 424.1 1047.4 424 1049 423.9 1050.8 423.9 1052.3 424.2 1053.9 423.9 1055.6 424.4 1057.3 424.4 1059.1 425 1060.8 424.5 1062.9 425.1 1064.4 424.7 1065.7 425.4 1067.4 425.4 1069.2 425.1 1071.1 425.4 1072.9 426.1 1074.8 426.2 1076.6 425.7 1078.6 425.9 1080.6 425.8 1082.4 426 1084 426.1 1085.6 426.2 1087.6 426.2 1089 426.7 1090.4 426.5 1091.5 427 1092.4 427 1093.6 426.9" stroke="#16189c" stroke-width="1.4" fill="none" stroke-linejoin="round"/><text x="1088.8" y="116.8" text-anchor="end" font-family="'Liberation Sans', Arial, sans-serif" font-weight="bold" font-size="24.6">mBanana</text></g>
<g><rect x="1229" y="90.8" width="425.4" height="337.6" fill="none" stroke="#000" stroke-width="2"/><path d="M1229 428.4v6.5M1229 90.8v-6.5M1276.3 428.4v3.5M1276.3 90.8v-3.5M1323.5 428.4v6.5M1323.5 90.8v-6.5M1370.8 428.4v3.5M1370.8 90.8v-3.5M1418.1 428.4v6.5M1418.1 90.8v-6.5M1465.3 428.4v3.5M1465.3 90.8v-3.5M1512.6 428.4v6.5M1512.6 90.8v-6.5M1559.9 428.4v3.5M1559.9 90.8v-3.5M1607.1 428.4v6.5M1607.1 90.8v-6.5M1654.4 428.4v3.5M1654.4 90.8v-3.5M1229 428.6h-6.5M1229 332h-6.5M1229 235.4h-6.5M1229 138.8h-6.5M1229 380.3h-3.5M1229 283.7h-3.5M1229 187.1h-3.5M1229 90.5h-3.5M1654.4 428.3h6.5M1654.4 318.6h6.5M1654.4 208.9h6.5M1654.4 99.2h6.5M1654.4 373.4h3.5M1654.4 263.8h3.5M1654.4 154.1h3.5" stroke="#000" stroke-width="2" fill="none"/><g font-family="'Liberation Sans', Arial, sans-serif" font-weight="bold" font-size="24" fill="#000"><text x="1219.5" y="434.9" text-anchor="end">0</text><text x="1219.5" y="338.3" text-anchor="end">20</text><text x="1219.5" y="241.7" text-anchor="end">40</text><text x="1219.5" y="145.1" text-anchor="end">60</text><text x="1665.4" y="434.6">0</text><text x="1665.4" y="324.9">5</text><text x="1665.4" y="215.2">10</text><text x="1665.4" y="105.5">15</text><text x="1229" y="74" text-anchor="middle">300</text><text x="1323.5" y="74" text-anchor="middle">400</text><text x="1418.1" y="74" text-anchor="middle">500</text><text x="1512.6" y="74" text-anchor="middle">600</text><text x="1607.1" y="74" text-anchor="middle">700</text></g><path d="M1357.3 406.7h0M1359 407.5h0M1360.7 408.4h0M1362 410h0M1363.3 411.7h0M1365 413.4h0M1366.7 415.1h0M1368.4 416.8h0M1370 418.5h0M1371.7 419.4h0M1373.4 420.2h0M1375.1 421h0M1376.5 421.2h0M1377.8 421.4h0M1379.2 421.6h0M1380.5 421.7h0M1381.9 421.9h0M1383.3 422h0M1384.6 422h0M1386 422.1h0M1387.3 422.2h0M1388.7 422.2h0M1390 422h0M1391.4 421.8h0M1392.7 421.5h0M1394.1 421.3h0M1395.4 421h0M1396.8 420.9h0M1398.1 420.7h0M1399.5 420.5h0M1400.9 420.4h0M1402.2 420.2h0M1403.6 419.9h0M1404.9 419.5h0M1406.3 419.2h0M1407.6 418.8h0M1409 418.5h0M1410.7 417.7h0M1412.4 416.8h0M1414.1 416h0M1415.8 414.6h0M1417.4 413.1h0M1419.1 411.7h0M1420.8 409.2h0M1422.5 406.7h0M1424.2 403.3h0M1425.9 399.9h0M1427.6 395.7h0M1429.3 391.4h0M1431 384.7h0M1432.7 377.9h0M1434.4 371.1h0M1435.6 369.4h0M1436.9 367.7h0M1438.6 359.3h0M1439.9 357.6h0M1441.2 355.9h0M1442.8 355h0M1444.5 354.2h0M1445.8 355h0M1447.1 355.9h0M1448.3 357.1h0M1449.6 358.4h0M1451.3 358.4h0M1453 358.4h0M1471.6 405.8h0M1472.9 407.1h0M1474.2 408.4h0M1475.9 410.5h0M1477.6 412.6h0M1479.2 414.7h0M1480.9 416.8h0M1482.3 417.7h0M1483.8 418.5h0M1485.2 419.4h0M1486.9 419.9h0M1488.6 420.5h0M1490.2 421h0M1491.9 421.9h0M1493.6 422.7h0M1495.3 423.6h0M1497 424.2h0M1498.7 424.7h0M1500.4 425h0M1501.8 425h0M1503.1 425h0M1504.5 425h0M1505.8 425h0M1507.2 425h0M1508.5 425h0M1509.9 425h0M1511.2 425h0M1512.6 425h0M1514 425h0M1515.4 425h0M1516.8 425h0M1518.2 425h0M1519.6 425h0M1521 425h0M1522.4 425h0M1523.8 425h0M1525.2 425h0M1526.6 425h0M1528.1 425h0M1529.5 425h0M1530.9 425h0M1532.4 425h0M1533.9 425h0M1535.5 425h0M1537 425h0M1538.5 425h0M1540 425h0M1541.5 425h0M1543.1 425h0M1544.6 425h0M1546.1 425h0M1449.6 364.3h0M1451.3 367.7h0M1452.6 369.4h0M1453.8 371.1h0M1455.1 372.8h0M1456.4 374.5h0M1457.7 376.2h0M1458.9 377.9h0M1460.2 379.1h0M1461.5 380.4h0M1463.2 380h0M1464.9 379.6h0M1463.2 384.7h0M1464.9 387.2h0M1273.2 118.8h0M1275.1 199.2h0M1275.8 257.1h0M1277.1 285.1h0M1277.8 311.9h0M1279 325.1h0M1280.3 338.6h0M1282 346.6h0M1282.9 350.8h0M1283.7 359.6h0M1284.5 372.8h0M1285.4 377h0M1286.2 383h0M1287.9 386.3h0M1289.6 391.4h0M1291.3 395.7h0M1293.9 392.3h0M1296.4 389.7h0M1298.9 394h0M1301.5 397.3h0M1304 383h0M1306.6 388h0M1309.1 392.3h0M1311.6 395.7h0M1314.2 393.1h0M1315.9 381.3h0M1318.4 383h0M1320.1 387.2h0M1321.8 373.6h0M1324.3 384.7h0M1326.9 379.6h0M1329.4 372.8h0M1332 375.3h0M1334.5 377.9h0M1337 374.5h0M1339.6 376.2h0M1342.1 379.6h0M1344.7 377h0M1346.3 382.1h0M1348.9 383h0M1351.4 385.5h0M1352.3 396.5h0M1354.8 401.6h0M1358.2 393.1h0M1437.8 359.3h0M1439.5 364.3h0M1446.2 360.9h0M1450.5 362.6h0M1286 379.5h0M1286.6 379.9h0M1286.8 385.1h0M1288.9 388.8h0M1289.9 392.1h0M1290.9 395.5h0M1293 393.2h0M1293.9 394.3h0M1294.5 393.4h0M1297 391.7h0M1298.3 393.5h0M1299.6 391.4h0M1299.2 392.9h0M1301.7 390.3h0M1301.4 388.2h0M1303.5 387.8h0M1305.3 388.5h0M1305 390h0M1306.7 392.6h0M1309 391.7h0M1309.8 393.8h0M1311.4 396.3h0M1311 391.9h0M1313.3 390.2h0M1314.4 387.7h0M1316.1 388.4h0M1315.7 387.7h0M1317.2 384h0M1318.7 382.6h0M1319.2 385.1h0M1321.3 379.7h0M1322.6 378.6h0M1322.9 381.9h0M1324.6 377.8h0M1325.4 377.1h0M1326.1 379.1h0M1327.3 375.2h0M1329.9 374h0M1331.6 373.4h0M1332.9 376.9h0M1333.6 377.1h0M1334.4 377h0M1336.4 375.6h0M1337 376.8h0M1338.1 373.9h0M1340.1 375h0M1340.7 378.3h0M1341.2 375.2h0M1342.2 378.7h0M1343.8 377.8h0M1345.1 381.9h0M1345.9 380h0M1348.4 382.5h0M1348.4 383.3h0M1350.1 383.1h0M1351.2 385.4h0M1353.2 389.1h0M1354 396h0M1355.7 396.7h0M1356.1 398.8h0M1356.7 401.9h0M1358.6 406.5h0M1359 406.7h0" stroke="#eb1c24" stroke-width="8.1" stroke-linecap="round" fill="none"/><path d="M1276.8 352.6L1277.5 353.6 1278.1 354.5 1279 356.2 1279.8 357.9 1280.8 359.6 1281.8 361.1 1282.9 362.8 1283.6 364.5 1284.7 365.7 1285.6 367.4 1286.5 368.9 1287.5 370.1 1288.4 371.5 1289.6 373 1290.6 374.5 1291.5 376.1 1292.5 377.2 1293.4 378.9 1294.3 380.1 1295.4 381.8 1296.2 383.2 1297.2 384.8 1298.2 385.9 1299.3 387.4 1300.1 388.9 1301.2 390.5 1302.1 391.9 1303 393.6 1304 394.8 1305.3 396.4 1306.7 397.6 1308 399 1309.4 400.6 1310.7 401.4 1312.1 402.7 1313.4 403.8 1315 404.8 1316.3 405.8 1317.9 406.6 1319.2 407.3 1321 408.2 1322.7 408.6 1324.4 409 1326.2 409.5 1327.7 410.3 1329.5 410.9 1331.1 412 1332.8 413.2 1334.6 414.2 1336 415.1 1337.8 415.5 1339.4 416 1341.3 416.5 1342.9 416.8 1344.4 417 1346.1 416.8 1348 416.9 1349.8 416.8 1351.5 416.9 1353.1 416.9 1354.8 416.4 1356.4 416 1358.1 415.9 1359.8 415.4 1361.6 415.1 1363.2 414.9 1364.9 414.2 1366.6 413.7 1368.3 413.2 1370.1 412.8 1371.8 412.4 1373.5 412.3 1375.2 412.2 1377.1 411.8 1378.7 411.4 1380.3 411.2 1382 411.1 1383.7 410.5 1385.6 409.9 1387 409.4 1388.7 408.6 1390.1 407.7 1391.4 406.4 1392.7 405.6 1393.9 404.5 1395.5 403 1396.5 402.4 1397.7 401.2 1398.9 400.2 1400.1 398.8 1401.5 397.2 1402.8 396 1404 395 1405.1 393.8 1406 392.5 1407.1 391.6 1408.1 390 1409.3 389.1 1410.3 387.9 1411.3 386.4 1412.4 384.9 1413 383.4 1413.9 382.3 1414.6 380.9 1415.4 379.3 1415.9 377.7 1416.8 376.4 1417.4 374.9 1418.1 373.2 1418.8 371.6 1419.6 370 1420.2 368.7 1420.9 366.8 1421.5 365.7 1422.1 364.2 1422.7 362.3 1423.4 360.9 1424 359.1 1424.5 357.7 1425.1 356.1 1425.7 354.5 1426.2 352.8 1426.9 351.2 1427.3 349.8 1427.8 348.4 1428.3 346.7 1428.9 344.7 1429.4 343.4 1429.8 341.9 1430.2 340.5 1430.6 338.9 1431 337.2 1431.4 335.5 1432 334.2 1432.4 332.2 1432.9 330.6 1433.3 329 1433.8 327.5 1434.2 326.1 1434.7 324.3 1435 322.6 1435.6 320.9 1435.9 319.6 1436.4 317.9 1436.9 316 1437.4 314.2 1437.9 312.7 1438.4 311.2 1438.7 309.5 1439.3 307.6 1439.7 305.9 1440.1 304.6 1440.5 302.9 1440.9 301.4 1441.5 299.7 1441.8 298.1 1442.2 296.4 1442.7 294.9 1443.1 293.1 1443.7 291.4 1444 289.9 1444.7 288.1 1445.2 286.5 1445.5 284.9 1446.1 283.6 1446.5 281.7 1447 280.1 1447.4 278.8 1447.9 277.1 1448.5 276 1449.1 274.5 1449.5 272.6 1450.2 271.2 1450.6 269.9 1451.1 268.5 1451.7 266.9 1452.1 265.4 1452.7 263.8 1453.1 262 1453.6 260.5 1454.3 258.9 1454.7 257.7 1455.2 255.9 1455.7 254.4 1456.2 253.2 1456.9 251.4 1457.5 250 1457.8 248.7 1458.4 247.1 1459 245.2 1459.5 243.9 1459.9 242.6 1460.3 240.8 1460.7 239.6 1461.2 237.9 1461.6 236.4 1462.1 234.8 1462.4 233.2 1462.7 231.2 1463.1 229.6 1463.6 228.2 1463.8 226.6 1464.1 225.1 1464.5 223.2 1464.7 221.7 1465.2 220.1 1465.5 218.6 1465.8 216.5 1466.1 215 1466.5 213.5 1466.7 212.1 1467.1 210.7 1467.3 209.2 1467.7 207.7 1468 205.8 1468.2 204.4 1468.5 202.8 1468.8 200.9 1469 199.4 1469.3 197.6 1469.7 196.1 1470.1 194.2 1470.2 192.6 1470.5 190.5 1471 188.9 1471.1 187.4 1471.3 185.5 1471.5 184.3 1471.7 182.4 1472.1 180.6 1472.4 178.8 1472.5 177.5 1472.7 175.3 1473 173.8 1473.3 171.9 1473.6 170.1 1473.9 168 1474 166.3 1474.3 164.6 1474.4 163.1 1474.7 161.3 1475 159.8 1475.1 158.2 1475.4 157.2 1475.6 155.6 1475.7 154.7 1476 153.5 1476.4 150.8 1476.9 148.5 1477.2 146.7 1477.6 145 1477.9 143.7 1478.3 142.7 1478.5 141.9 1479 140.5 1479.9 138.5 1480.6 136.3 1481.3 134.8 1482.4 134.3 1483.3 134.3 1484 135.3 1484.9 137.5 1486.2 140.8 1486.4 141.6 1486.6 142.6 1486.9 143.8 1487.3 145.3 1487.5 146.9 1487.8 148.4 1488.3 149.8 1488.5 151.4 1488.9 153.2 1489.2 154.9 1489.5 156.7 1489.9 158.4 1490.1 160.3 1490.5 162 1490.9 163.8 1491.2 165.8 1491.4 167.2 1491.5 168.7 1491.8 170.3 1492 171.5 1492.2 173.2 1492.4 174.7 1492.8 176.3 1492.8 177.7 1493 179.3 1493.4 180.7 1493.6 182.7 1493.7 184.1 1494 185.7 1494.2 187.6 1494.4 189.1 1494.6 191 1495 192.6 1495.1 194.6 1495.3 196.4 1495.6 198.1 1495.8 200.1 1495.9 202 1496.1 203.9 1496.3 205.4 1496.6 207 1496.8 208.2 1496.9 209.8 1497.1 211.4 1497.2 212.9 1497.4 214.5 1497.6 215.9 1497.7 217.6 1497.8 219.3 1498 221 1498.1 222.8 1498.2 224.3 1498.4 225.7 1498.6 227.8 1498.7 229.4 1499 231.2 1499.2 232.5 1499.4 234.2 1499.4 235.9 1499.7 237.8 1499.8 239.3 1500 241.1 1500.2 242.9 1500.3 244.5 1500.4 246.1 1500.6 248.1 1500.7 249.6 1500.9 251.1 1501.1 252.9 1501.4 254.7 1501.4 256.1 1501.5 257.8 1501.8 259.7 1501.8 261 1502.1 262.8 1502.1 264.2 1502.4 265.8 1502.6 267.8 1502.7 269.7 1502.9 271.3 1503 272.5 1503.2 274.4 1503.4 275.9 1503.6 277.6 1503.8 279.5 1503.9 280.8 1503.9 282.4 1504.2 284.1 1504.3 285.7 1504.6 287.6 1504.6 289.1 1504.8 290.7 1505.1 292.7 1505.3 293.9 1505.4 295.9 1505.5 297.5 1505.6 298.9 1505.9 300.5 1505.9 302.3 1506.2 303.5 1506.4 305 1506.5 307 1506.7 308.6 1506.9 310.3 1507 311.9 1507.2 314 1507.3 315.8 1507.6 317.1 1507.9 319.3 1507.9 320.8 1508.1 322.3 1508.2 324.4 1508.4 325.7 1508.6 327.5 1509 329.1 1509 330.7 1509.3 332.4 1509.5 334.4 1509.5 335.8 1509.8 337.4 1509.9 339.2 1510.2 340.4 1510.4 341.9 1510.6 343.5 1510.8 344.9 1510.8 346.5 1511 348.1 1511.1 349.2 1511.3 350.6 1511.8 352.7 1511.9 354.6 1512.1 356.5 1512.4 358.4 1512.7 360.2 1513.1 361.9 1513.2 363.5 1513.6 364.9 1513.9 366.5 1514 368.1 1514.4 369.6 1514.6 371.4 1514.9 373.1 1515.1 374 1515.4 375.5 1515.7 376.9 1516 378.4 1516.2 379.8 1516.4 381.2 1516.9 383.2 1517.3 384.7 1517.7 386.6 1518.1 388.4 1518.3 390.1 1518.8 391.7 1519.2 393.3 1519.6 394.9 1519.9 396.1 1520.2 397.7 1520.6 399.1 1521.1 400.2 1521.5 401.4 1522.2 403.4 1523.1 405.5 1524 407.5 1524.9 409.2 1525.4 410.7 1526.1 411.7 1526.6 413" stroke="#000" stroke-width="1.4" fill="none" stroke-linejoin="round"/><path d="M1460.5 403.5L1461.8 405.2 1464.8 404.2 1465.3 407.1 1466 408.3 1465.3 404.1 1467.2 402.4 1467 399.6 1469.3 399 1469.3 394.6 1469.8 395.1 1468.4 393.7 1469 390.6 1469.6 390.9 1469.8 392.6 1470.2 388.6 1470.9 390.3 1470.2 388.6 1469.4 383 1469.9 385.7 1471.4 383.1 1470.6 380.3 1472.3 376.7 1470.7 374.8 1471.7 377.3 1472.1 373.3 1472.2 370.4 1473.5 369.5 1472.1 367.5 1473.7 365.7 1474.1 363.9 1473.2 360.6 1474.5 362.5 1473.7 357 1474 356.3 1475 357.2 1475 351.8 1473.6 352.9 1475.9 347 1475 347.4 1476.3 343.8 1474.3 346.6 1475.6 343.2 1476.2 342.6 1476.1 339.4 1474.9 336.7 1475.6 338.6 1475.8 335.6 1476.5 336 1476.6 332.5 1477.2 333.6 1477.6 332.5 1475.6 329.9 1476.5 326.9 1477.1 324.1 1476.6 326.9 1476.9 325 1477.9 320.3 1477.1 320.2 1478.2 317.2 1476.8 314.8 1478.8 316 1477.2 315 1478.4 310.7 1479.3 308 1477.6 307.5 1479.2 306.9 1478.7 307 1478.7 304.7 1477.9 303 1478.4 300.6 1480.1 298.9 1479.6 296.7 1480.2 294 1479.1 293.2 1479.9 289.2 1480.1 289.3 1479.3 288.8 1480.9 285.1 1481.2 286.7 1480.9 281.9 1480.1 278.7 1480.3 281.4 1479.9 279.2 1481.5 276.7 1480.2 274.2 1480.6 272.5 1482.1 271.3 1481.6 270.7 1481 265.4 1482.6 263.3 1481.7 263.6 1482.9 261.8 1482.2 260.9 1482.1 259.1 1482.2 258.1 1482.3 255.5 1483.5 256.7 1482 254.9 1481.6 250 1483.8 247.4 1483.4 250 1483.3 245.4 1482.1 243.7 1483.2 243.6 1483.2 242 1483.3 239.3 1484.2 235.1 1484.8 234.8 1483.8 235.7 1484.1 231.6 1483.4 228.2 1484.8 227.9 1484.7 227.1 1484.8 223.4 1485.4 222.3 1483.9 222.6 1485.7 217 1485.8 218.2 1484.4 215.8 1486.1 211.9 1485.6 210.6 1484.5 212.6 1486.6 209.3 1486.2 206.3 1485.5 205.7 1486.5 204.5 1485.8 202.5 1485.7 201.8 1486.9 200 1485.7 196.3 1487.4 194.7 1486.7 191.7 1485.6 190.9 1487 189.4 1487 187.1 1487.2 188.9 1486.3 185.1 1486.4 185 1486.3 182.3 1487.9 184.6 1486.5 181.2 1487.7 182.1 1487.6 178.7 1488.2 178.9 1488.2 176.9 1488.5 172.7 1488.6 170.8 1487.9 168.9 1488.5 167.4 1488.9 163.6 1488.6 163.1 1490.2 159.6 1488.3 160.2 1490.5 158.3 1490.2 154.4 1489 155.4 1490.1 149.8 1490.8 148 1490.4 149.6 1491.6 147.1 1490.4 145.9 1492.1 143.5 1490.7 143.8 1492.8 145.6 1493 140.2 1492.1 139.8 1492.6 142.2 1492.5 140.7 1494 136.3 1494.3 132.6 1496 135.4 1497.5 134.9 1498.2 134.1 1497.9 131.9 1499.1 133.1 1499.9 137.7 1498.8 139.3 1500.4 140.3 1499.4 139.3 1500 144.7 1500.7 144.3 1502.3 146.3 1502.5 150 1502.2 152.8 1503.1 153.1 1503.4 153.8 1502.3 156.7 1504.3 153.9 1503.2 155.8 1502.8 159.4 1503.8 158.6 1504.1 163.2 1503.5 164.5 1504.9 167.2 1505.9 169.1 1504.7 166.7 1504.8 168.9 1506.2 171.7 1505.8 175.3 1505.8 178.5 1506.5 178.2 1505.5 178.1 1507 180.9 1507 185 1507.5 186.5 1507 184 1507 189.9 1507.1 187.3 1506.9 193.5 1507.5 190.2 1508.1 191.7 1509.2 196.6 1508.7 198.4 1508 200.4 1509.7 201.8 1508.8 204.5 1511.1 203.7 1509.7 205.5 1510.9 206.9 1510.8 211.1 1511.4 209.8 1512.2 213.6 1510.3 213.7 1511.2 214.4 1511.7 218.8 1512.5 217.3 1511.5 218.4 1512.4 222.1 1513 223.1 1513.3 224 1514.5 225.1 1513.4 229.1 1514.8 229.4 1514.6 230.3 1513.4 235.7 1513.8 236.3 1513.9 235.6 1515.3 240.3 1516.2 238.9 1514.6 242.9 1516.6 245.5 1515.4 245.7 1516.8 248.4 1517.6 249.5 1517.8 247.5 1518.4 251.8 1518.5 251.1 1517.8 256.5 1519.2 256.6 1519.3 255.1 1517.7 257.9 1519.8 261.8 1519.1 264.3 1519.6 261.8 1521 266.4 1521.5 268.4 1520.8 270.7 1520.3 267.8 1521.1 274.5 1521.1 275.2 1522.7 273.6 1522.4 278.3 1523.3 280.8 1523 280.8 1525.4 280.7 1524.5 284.1 1524.8 286 1527.1 285.9 1525.8 290.3 1526 291.7 1527.4 293 1527.8 295.3 1529 294.9 1528.1 296.3 1529 298.4 1529.7 297.6 1529.8 299.4 1530.4 301.1 1531.9 305.7 1533 304.7 1533.8 306.1 1533.2 308.6 1534.2 309.8 1534.8 309.8 1534.3 311.9 1535.4 313 1536.3 313.5 1536.6 316.9 1537.6 316.8 1538.3 319.9 1539.6 319.7 1539 324.5 1540.9 326.2 1541.5 325.8 1540.6 326.3 1542.3 329.9 1542.5 328.9 1544.3 331.1 1543.5 335.2 1545.5 335.9 1546.3 337.1 1546.7 337.4 1546.4 341.7 1547.1 342.4 1548.3 343.8 1550.5 345.5 1549.3 347.6 1550.6 346 1553.2 350.6 1552 352 1553 352.3 1555.1 350.8 1554.4 352.6 1555 358.1 1555.6 356.6 1558.3 356.6 1558.2 362.3 1560.1 363.8 1558.9 361.3 1561.3 365 1561.6 367.6 1563.1 367 1564.3 368.6 1564.9 368.9 1563.8 373.1 1566.3 374.6 1565.5 377.5 1568.4 378.6 1568.7 375.2 1569.1 377.7 1569.7 380.8 1572.2 383.1 1573.6 383.1 1572.6 386.8 1575.5 386.7 1575.1 388.7 1576.2 388.7 1578 391.7 1579.5 389.6 1579.7 392.9 1580.6 391.7 1581.6 394.7 1583.5 398.6 1583.6 397.4 1585 396.4 1586.7 399 1589.5 399.5 1591.2 402.9 1591.3 404.2 1592.5 400.6 1594.4 404.5 1596.4 402 1596.3 406.2 1599.9 405.9 1601 405 1601.1 407.3 1604.6 406.2 1605.2 409.9 1605.7 411.2 1607.7 411.9 1610.2 408.5 1610.9 411 1612.2 413.2 1614.6 410.7 1615.8 414.1 1617.8 413.8 1618.9 413 1620.5 414.4 1621.8 412.6 1625.2 418 1624.6 418 1626.8 416.6 1629 414.7 1630.3 417 1632.6 418.2 1633.7 418.5 1634.8 420 1637.6 417.8 1639.2 420.1 1641.1 419.2 1643 421.5 1646 423.7 1647.3 421.6 1648.4 421.9 1650.1 424.8 1652 426.1 1653.1 425.6 1653.3 423" stroke="#16189c" stroke-width="1.4" fill="none" stroke-linejoin="round"/><text x="1649.7" y="117.3" text-anchor="end" font-family="'Liberation Sans', Arial, sans-serif" font-weight="bold" font-size="24.6">mTangerine</text></g>
<g><rect x="107.8" y="487.6" width="425.4" height="337.6" fill="none" stroke="#000" stroke-width="2"/><path d="M107.8 825.2v6.5M107.8 487.6v-6.5M155.1 825.2v3.5M155.1 487.6v-3.5M202.3 825.2v6.5M202.3 487.6v-6.5M249.6 825.2v3.5M249.6 487.6v-3.5M296.9 825.2v6.5M296.9 487.6v-6.5M344.1 825.2v3.5M344.1 487.6v-3.5M391.4 825.2v6.5M391.4 487.6v-6.5M438.7 825.2v3.5M438.7 487.6v-3.5M485.9 825.2v6.5M485.9 487.6v-6.5M533.2 825.2v3.5M533.2 487.6v-3.5M107.8 825h-6.5M107.8 740.6h-6.5M107.8 656.2h-6.5M107.8 571.8h-6.5M107.8 487.4h-6.5M107.8 782.8h-3.5M107.8 698.4h-3.5M107.8 614h-3.5M107.8 529.6h-3.5M533.2 825h6.5M533.2 759.9h6.5M533.2 694.8h6.5M533.2 629.7h6.5M533.2 564.6h6.5M533.2 499.5h6.5M533.2 792.5h3.5M533.2 727.3h3.5M533.2 662.2h3.5M533.2 597.1h3.5M533.2 532h3.5" stroke="#000" stroke-width="2" fill="none"/><g font-family="'Liberation Sans', Arial, sans-serif" font-weight="bold" font-size="24" fill="#000"><text x="98.3" y="831.3" text-anchor="end">0</text><text x="98.3" y="746.9" text-anchor="end">10</text><text x="98.3" y="662.5" text-anchor="end">20</text><text x="98.3" y="578.1" text-anchor="end">30</text><text x="98.3" y="493.7" text-anchor="end">40</text><text x="544.2" y="831.3">0</text><text x="544.2" y="766.2">2</text><text x="544.2" y="701.1">4</text><text x="544.2" y="636">6</text><text x="544.2" y="570.9">8</text><text x="544.2" y="505.8">10</text></g><path d="M155.5 526.2h0M156.4 580.9h0M157.1 603.4h0M157.7 626.6h0M159.3 632.4h0M161.2 644.3h0M162.8 657.1h0M164.5 665.2h0M166.1 672.2h0M167.7 681.3h0M169 689.3h0M170.2 691.7h0M171.5 694.1h0M173.1 695.7h0M174.8 697.3h0M176.4 699.3h0M178 701.2h0M179.6 710.2h0M181.2 719.9h0M182.8 729.5h0M184.4 737.5h0M186 744h0M187.6 750.4h0M189.2 755.2h0M190.8 757.6h0M192.4 760.1h0M194.1 769.7h0M195.7 761.7h0M196.8 759.3h0M197.9 756.8h0M197.3 801.9h0M198.9 797.9h0M200.5 793.8h0M202.1 793h0M203.7 792.2h0M205 794.6h0M206.3 797.1h0M207.4 800.3h0M208.5 803.5h0M210.1 805.9h0M211.7 808.3h0M213.4 810.7h0M215 813.1h0M216.6 813.7h0M218.2 814.2h0M219.8 814.7h0M221.4 816.4h0M223 818h0M224.6 818.4h0M226.2 818.8h0M227.8 819.2h0M229.4 819.6h0M231 819.5h0M232.7 819.4h0M234.3 819.2h0M235.9 819.1h0M237.5 819h0M239.1 818.9h0M240.7 818.2h0M242.3 817.5h0M243.9 816.8h0M245.5 816.1h0M247.1 815.4h0M248.7 814.7h0M250.3 813.5h0M252 812.3h0M253.6 811.1h0M255.2 809.9h0M256.8 809.8h0M258.4 809.6h0M260 809.4h0M261.6 809.3h0M263.2 808.6h0M264.8 808h0M266.4 807.3h0M268 806.7h0M269.6 805.9h0M271.3 805.1h0M272.9 804.3h0M274.5 803.5h0M276.1 802.5h0M277.7 801.6h0M279.3 800.6h0M280.9 799.6h0M282.5 798.6h0M284.1 797.5h0M285.7 796.5h0M287.3 795.4h0M288.9 793.8h0M290.6 792.2h0M292.2 790.6h0M293.8 788.5h0M295.4 786.3h0M297 784.2h0M298.6 781h0M300.2 777.8h0M301.8 774.5h0M303.4 769.7h0M305 764.9h0M306.2 760.1h0M307.3 755.2h0M309.2 748.8h0M310.3 744h0M311.5 739.2h0M313.1 731.1h0M314.2 725.5h0M315.3 719.9h0M316.3 713.4h0M317.3 707h0M318.9 687.7h0M320.1 681.3h0M321.8 670h0M322.7 665.2h0M324.3 658.7h0M325.9 653.9h0M327.5 649.1h0M329.2 645.2h0M330.8 641h0M332.4 645.9h0M334 652.3h0M335.6 655.5h0M337.2 662h0M338.8 670h0M340.4 676.4h0M342 684.5h0M343 693.5h0M350.6 717.8h0M351.9 722.9h0M353.2 728h0M354.4 735.6h0M355.7 743.2h0M357 750.8h0M358.2 758.4h0M359.5 768.5h0M360.8 772.3h0M362 776.1h0M363.3 777.3h0M364.6 778.6h0M365.8 779.9h0M367.5 779.5h0M369.2 779h0M370.9 778.6h0M372.2 780.3h0M373.4 782h0M374.7 783.7h0M375.9 791.3h0M377.2 795.1h0M378.5 798.9h0M379.7 800.5h0M381 802.2h0M382.3 803.9h0M383.5 805.2h0M384.8 806.5h0M386.1 807.7h0M387.3 809h0M388.6 810.3h0M389.9 811.5h0M391.1 812.8h0M392.4 814.1h0M393.7 815.3h0M395.4 816.6h0M397 817.8h0M398.7 819.1h0M400.3 819.9h0M401.8 820.6h0M403.3 821.4h0M404.8 821.8h0M406.3 821.8h0M407.8 821.8h0M409.4 821.8h0M410.9 821.8h0M412.4 821.8h0M413.9 821.8h0M415.4 821.8h0M417 821.8h0M418.5 821.8h0M420 821.8h0M421.5 821.8h0M423 821.8h0M424.5 821.8h0M426 821.8h0M427.5 821.8h0M429 821.8h0M430.5 821.8h0M431.9 821.8h0M433.4 821.8h0M434.9 821.8h0M436.4 821.8h0M437.9 821.8h0M439.4 821.8h0M440.9 821.8h0M442.4 821.8h0M443.9 821.8h0M445.3 821.8h0M446.8 821.8h0" stroke="#eb1c24" stroke-width="8.1" stroke-linecap="round" fill="none"/><path d="M155.4 790.7L156.6 791.4 158.2 791.9 160 792.8 161.9 793.7 163.5 794.4 165.1 795.2 166.8 796.1 168.2 796.9 169.5 798.3 170.8 799.5 172 800.8 173.4 802.2 174.7 803.7 176 804.7 177.3 805.7 178.6 806.9 180.1 807.9 181.6 809.5 183.1 810.5 184.4 811.7 185.7 812.6 187.1 813.4 188.5 814.5 189.9 815.4 191.3 816.2 192.6 817.1 194 817.8 195.6 818.8 197.2 819.9 199 820.6 200.5 821.6 202 822 203.8 823 205.3 823.2 206.7 824 208.2 824.4 209.6 824.7 211.3 824.9 213.3 825.3 214.7 825.3 216.1 825.3 217.8 825.3 219.4 825.4 221.2 825.2 222.8 825.4 224.6 825.1 226.2 825.3 227.9 825.2 229.3 825 231.2 824.7 232.8 824.9 234.4 824.4 236 824.3 237.5 823.9 239.1 823.8 240.6 823.1 242.3 823 243.9 822.3 245.6 821.7 247 821.2 248.8 820.8 250.3 820.1 252 819.2 253.6 818.6 255.1 817.9 256.7 817.2 258.3 816.5 259.9 815.9 261.6 814.8 263.3 814.1 264.8 813.4 266.4 812.4 268 811.3 269.4 810.5 270.7 809.7 272 808.9 273.2 807.9 274.6 807.1 276.1 806.4 277.2 805.1 278.5 804.2 279.7 803.2 280.9 801.7 281.9 800.6 283.1 799.5 284 798.5 285 797.6 285.9 796.4 286.9 795.3 287.8 793.9 288.7 792.3 289.6 790.9 290.6 788.8 291.1 787.8 291.9 786.5 292.4 785.3 293.1 783.4 293.7 781.8 294.5 780.3 295.1 779.1 295.8 777.4 296.3 775.7 297.1 774.1 297.6 772.5 298.1 770.6 298.9 769.1 299.4 767.6 300 765.7 300.5 764.3 301.1 763.2 301.6 761.7 302.2 760 302.8 758.7 303.2 757.1 303.7 755.9 304.2 754.1 304.6 752.8 305.1 751.3 305.5 749.9 306 748 306.6 746.5 307.2 744.9 307.6 743.3 307.9 741.9 308.4 740.3 308.9 738.6 309.3 737.1 309.7 735.6 309.9 734.2 310.5 732.5 310.8 731.1 311.1 729.4 311.5 727.8 312.1 726.1 312.3 724.3 312.8 722.8 313.3 721.3 313.5 719.7 314.1 718 314.5 716.2 314.8 714.5 315.2 712.7 315.5 711.4 315.9 709.5 316.3 708.2 316.6 706.8 317.1 705 317.4 703.5 317.7 701.9 318.2 700.3 318.5 698.6 318.8 697.3 319.2 695.5 319.4 693.9 319.9 692.5 320.3 691 320.6 689.1 321 687.7 321.2 685.9 321.6 684.4 322 683.2 322.4 681.6 322.7 679.7 323.3 678 323.5 676.3 323.9 674.7 324.3 672.8 324.7 671.3 325.1 669.4 325.7 667.9 326.1 666.1 326.5 664.4 326.9 662.4 327.2 661 327.7 659.3 328.1 657.5 328.5 656.1 328.8 654.6 329.2 653.3 329.6 652.1 330 650.8 330.3 649.6 331.2 647.2 332.2 644.9 332.9 643.2 333.6 641.7 334.4 640.4 335.2 639.4 335.9 638.3 336.6 636.8 337.6 635.1 338.6 633.7 339.4 632.7 340.5 631.2 341.3 629.7 342.1 628.4 343 626.5 343.7 625.2 344.1 624.3 344.7 622.6 345.2 621.5 345.7 620.3 346.2 618.6 346.7 617 347.1 615.4 347.6 613.4 348 611.7 348.4 610.2 348.7 608.8 349 607.5 349.4 605.9 349.7 604.2 350 602.8 350.4 601.1 350.7 599.4 351 597.5 351.2 595.9 351.6 594.5 351.8 592.5 352.3 590.9 352.6 589.1 352.9 587.7 353.2 586 353.5 584.7 353.9 582.9 354.2 581 354.7 579.6 355 578.1 355.3 576.7 355.6 575.2 356 573.6 356.4 571.8 356.9 570.2 357.1 568.4 357.6 567 357.8 565 358.2 563.6 358.6 561.9 358.7 560.4 359.1 558.7 359.4 557.1 359.6 555.2 360.1 553 360.3 551.3 360.7 549.8 360.9 547.8 361.2 545.9 361.5 544.1 361.9 542.4 362.1 540.8 362.4 539.3 362.6 538.1 363 536.9 363.3 535.8 363.9 533.1 364.8 530.7 365.4 528.9 366.2 527.8 367 526.6 367.5 525.9 368.4 525.3 369.4 525.3 370.3 526 371.4 527.1 372.4 529.5 373.5 533.2 373.6 534.2 373.9 535.2 374.1 536.6 374.5 538.1 374.6 539.6 375 541 375.2 542.7 375.5 544.3 375.7 546.3 376 547.7 376.4 549.5 376.5 551.6 376.8 553.6 377 555.3 377.4 557.1 377.6 558.9 377.8 561 378 562.7 378.2 564.5 378.5 566.1 378.8 567.6 379 569 379.1 570.6 379.3 572.5 379.5 574.1 379.7 575.4 379.8 577.1 380.1 578.4 380.2 580.4 380.5 581.9 380.6 583.1 380.8 584.8 380.9 586.7 381.2 588 381.5 589.7 381.5 591.5 381.8 593.5 382 595.1 382.2 596.8 382.4 598.6 382.3 600.4 382.6 601.8 382.6 603.3 382.8 604.5 382.9 606.3 383 607.5 383.2 609.3 383.5 610.8 383.6 611.9 383.7 613.6 383.9 615.5 383.9 617 384 618.3 384.3 620 384.3 621.7 384.4 623.3 384.7 625.1 384.7 626.8 384.9 628.1 385.1 629.8 385.1 631.7 385.3 633.2 385.5 634.8 385.7 637 385.8 638.4 385.9 640.1 386.1 641.7 386.2 643.5 386.3 644.7 386.4 646.7 386.5 648.2 386.7 649.7 386.8 651.3 386.9 652.8 387.2 654.2 387.1 656.2 387.4 657.8 387.5 659.1 387.6 660.8 387.7 662.5 387.8 664.3 387.8 665.9 388.1 667.5 388.1 669.2 388.2 670.8 388.5 672.8 388.5 674.2 388.6 676.1 388.7 677.4 388.9 679.1 388.9 680.8 389.2 682.8 389.2 684.2 389.4 685.7 389.4 687.6 389.6 689.2 389.7 690.7 389.8 692.4 389.9 694 390.2 695.6 390.2 697.3 390.3 699.3 390.6 701.1 390.6 702.5 390.7 704 390.8 706 390.9 707.8 391 709.2 391.3 711 391.2 712.9 391.4 714.5 391.5 716.3 391.7 717.8 391.7 719.6 391.9 721.2 392.1 722.8 392.1 724.4 392.2 726 392.4 727.8 392.4 729.2 392.6 731.2 392.8 732.7 392.8 734.1 393.1 735.7 393.2 737 393.2 738.8 393.5 740.5 393.6 741.6 393.8 743.4 393.8 745 394.1 746.9 394.2 749 394.4 750.8 394.6 752.6 395 754.2 395 756.4 395.4 758 395.5 759.7 395.8 761.5 396 763.3 396.1 764.8 396.6 766.7 396.7 768.3 397 769.8 397.1 771.1 397.4 772.7 397.6 774.1 397.9 775.6 398.1 777.2 398.3 778.4 398.5 779.8 398.6 781 399 783.5 399.4 785.5 399.9 787.4 400.2 788.7 400.5 790.5 401 792.1 401.4 793.2 401.7 794.9 402.2 796 402.6 797.2 402.9 798.6 403.3 799.9 403.8 801.3 404.4 803.1 405 804.7 405.7 806.8 406.5 808 407.2 809.6 407.8 811.5 408.6 812.5 409.5 814.2 410.4 815.6 411.4 816.5 412.6 817.8 414.2 818.9 415.7 819.8 417.4 821.1 419 821.8 420.5 822.3 421.9 823.2 423.3 823.8 424.1 824.4" stroke="#000" stroke-width="1.4" fill="none" stroke-linejoin="round"/><path d="M336.5 819.3L337.3 818.7 337.8 817 338.8 816.2 339.5 814.9 340.5 813.5 341.3 811.4 342.7 809.7 343.5 808.3 344.7 805.7 345.6 804.1 346 802.8 346.5 801.3 347 799.8 348 798.6 348.6 797.2 349 796.1 349.6 793.9 350.2 792.8 350.6 790.7 351.5 789.5 351.7 787.8 352.3 786.5 353 784.1 353.7 782.4 354 780.7 354.8 779.1 355.2 777.4 355.7 776.3 356.1 774.6 356.5 773.1 357 771.4 357.3 770.1 357.9 769.4 357.9 767.2 358.6 766.2 358.6 764.9 359.4 763.2 359.5 761.9 360.1 760.1 360.2 758.5 360.7 757.2 360.8 755.5 361.1 753.8 361.8 752.4 361.9 751 362.2 748.6 362.4 746.7 362.8 744.8 363.5 742.9 363.4 741.9 363.9 740.2 364.1 738.8 364.2 737.6 364.6 736.3 364.6 734.8 364.8 732.8 365.3 731.4 365.4 729.6 365.7 728.3 365.6 726.9 365.9 724.7 366 722.8 366.2 721.7 366.3 719.6 366.7 718.1 366.9 716.7 367 714.5 367.3 712.6 367.4 710.9 367.8 709.1 368 707.5 368.2 706.2 368.2 704.7 368.6 702.7 368.5 700.8 368.8 699.2 369.3 697.9 369.1 696 369.6 694.2 369.4 692.9 369.8 691.4 370.2 689.6 370.4 687.2 370.5 685.8 370.4 684.2 370.7 682.2 370.9 681.4 371 679.5 371.1 678.3 371.3 676.4 371.6 674.1 372 672.7 372.1 671.7 372.2 670 372.2 668 372.3 666.8 372.3 664.4 372.9 663.4 373 662 373 660.2 373.2 658.6 373.2 656.5 373.5 655.3 373.6 653.5 374 651.6 373.8 649.6 374.3 648.4 374.2 646.8 374.2 644.9 374.4 643.3 374.8 641.6 374.6 640.6 375 638.1 375.2 637.1 375.3 635.5 375.3 633.3 375.6 632 375.7 629.9 375.7 628.7 375.8 626.9 376 625.4 376.1 623.4 376.4 621.5 376.2 620.2 376.3 618.7 376.5 617 376.7 614.6 376.8 613.5 376.9 611.7 377 610.4 377 608.6 377.1 606.7 377.2 604.7 377.6 603.8 377.6 601.7 377.8 600.4 377.8 598.6 378.2 597.2 378.1 596 378.5 594.1 378.1 592.5 378.7 590.9 378.5 589.6 378.6 587.8 378.8 585.5 379.2 583.4 379.4 581.9 379.6 580.4 379.4 578.7 379.9 576.4 379.9 574.6 380.1 573.5 380.2 571.6 380.2 570.2 380.6 568.6 380.5 566.9 380.7 565.1 380.9 563.9 381 562 381.4 560.4 381.3 559.2 381.9 557.4 382.1 555.9 382 554.6 382.5 553.6 382.6 550.8 382.8 548.8 383 547.2 383.3 544.9 383.8 543.6 384.3 541.8 384.4 539.2 384.9 537.7 385 536.4 385.4 535 385.8 533.5 385.9 532.1 386.4 530.7 386.6 529.2 386.9 528.3 387.5 527.6 388.3 527.2 389.3 527.3 390.4 529 391.3 532.3 392.5 535.4 392.8 536.7 392.7 538.2 392.9 539.2 393.3 539.6 393.5 541.3 393.5 543.2 393.6 544 393.6 546.1 393.9 547.5 394.1 549.4 394.4 551 394.4 552.7 394.5 553.7 394.8 555.5 395.2 557.7 395.2 559.6 395.5 561.8 396 563.4 396.1 565.7 396.6 567.2 396.6 569 396.9 569.8 397.1 571 397.5 572.5 397.7 574.3 398.1 575.9 398.3 577.6 398.8 579.2 399 580.2 399.2 582.2 399.5 583.7 399.8 584.9 400 586.9 400.4 588.3 401 590.3 401.4 591.8 401.4 593.8 401.7 594.9 402.4 597.1 402.6 598.8 402.8 599.6 403.2 602.2 403.4 603.3 404 604.8 404.5 606.4 404.5 609 404.8 609.8 405.3 612.1 405.6 613.5 406.1 615.1 406.5 616.1 406.7 617.7 407.1 619.3 407.1 621.3 407.6 622.5 407.9 624.2 408.1 625.7 408.6 628.1 408.9 629.2 409 631.5 409.6 633.1 409.7 634.7 410.1 636.2 410.3 637.8 410.6 638.9 410.9 640.3 411.3 642.2 411.4 644.3 411.9 645.4 412.4 647.6 412.4 648.8 412.6 650.2 413.3 652 413.6 653.1 413.5 654.7 413.9 656.9 414.6 658.5 414.8 659.6 415 660.9 415.4 662.4 415.9 664.3 416 666.1 416.4 667.6 417 669 417.3 670.7 417.9 672.7 418.2 674.4 418.4 676 419.2 677.4 419.3 679.3 419.8 680.3 420.5 681.7 420.9 683.5 421.4 685.1 421.5 687 422.1 688.8 422.5 690 423 691.8 423.4 693.3 424.2 695 424.4 696.3 424.8 697.8 425.5 698.8 426 701.2 426.3 702 426.9 703.2 427.2 705.1 427.8 706 428.1 707.7 428.8 708.7 429.2 710.3 429.7 712 430.6 713.4 431.1 715.5 431.6 717.1 432.3 718.6 432.9 720.3 433.9 722.1 434.6 722.9 435.2 724.4 435.9 725.9 436.6 727.2 437.3 728.6 437.9 729.7 438.5 731.1 439.1 732.5 439.8 734.1 440.3 735.8 440.9 736.7 441.6 737.7 442.4 740.1 443 741.4 444 743.1 444.9 743.9 445.7 745.5 446.1 747.1 447.1 748.9 447.8 750 448.5 751.6 449.4 753.4 450.1 754.7 450.5 755.8 451.3 757.9 452.1 759.1 452.9 760.2 453.6 762 454.6 763.7 455.2 764.7 455.9 766.3 456.8 768.4 457.3 769.2 458.3 771 458.9 772 459.9 773.5 460.7 775.6 461.4 777.4 462.1 778.8 462.8 779.3 463.7 781.1 464.6 782.1 465.5 783.5 466.4 785.3 467.2 785.7 468 787.2 469.2 788.5 470.2 789.9 471.6 791.6 472.4 792.5 473.5 793.6 474.9 795.6 476.1 795.8 477.2 797.7 478.3 798.7 479.4 799.4 481 800.3 482.1 801.9 483.7 802.1 484.9 802.8 486.2 804.2 487.4 804.7 488.9 805.4 489.9 805.9 491.3 807.2 492.7 808.1 494.4 807.9 496.1 809.4 497.3 809.7 498.9 809.9 500.6 811.3 502.4 811.2 503.8 811.8 505.7 812.2 506.9 812.5 508.9 813 510.7 814.3 512.3 814.3 514.4 814.8 516.1 815.7 518.3 815.5 520.1 815.7 521.9 816.4 523.7 816.5 525.1 817.3 526.8 818 528.2 817.6 529.6 818 531.1 818.7 531.9 818.7 532.8 819.1" stroke="#16189c" stroke-width="1.4" fill="none" stroke-linejoin="round"/><text x="529" y="514.3" text-anchor="end" font-family="'Liberation Sans', Arial, sans-serif" font-weight="bold" font-size="24.6">mStrawberry</text></g>
<g><rect x="668.2" y="487.6" width="425.4" height="337.6" fill="none" stroke="#000" stroke-width="2"/><path d="M668.2 825.2v6.5M668.2 487.6v-6.5M715.5 825.2v3.5M715.5 487.6v-3.5M762.7 825.2v6.5M762.7 487.6v-6.5M810 825.2v3.5M810 487.6v-3.5M857.3 825.2v6.5M857.3 487.6v-6.5M904.5 825.2v3.5M904.5 487.6v-3.5M951.8 825.2v6.5M951.8 487.6v-6.5M999.1 825.2v3.5M999.1 487.6v-3.5M1046.3 825.2v6.5M1046.3 487.6v-6.5M1093.6 825.2v3.5M1093.6 487.6v-3.5M668.2 825h-6.5M668.2 763.9h-6.5M668.2 702.8h-6.5M668.2 641.7h-6.5M668.2 580.6h-6.5M668.2 519.5h-6.5M668.2 794.5h-3.5M668.2 733.3h-3.5M668.2 672.2h-3.5M668.2 611.1h-3.5M668.2 550h-3.5M668.2 488.9h-3.5M1093.6 825h6.5M1093.6 761.1h6.5M1093.6 697.2h6.5M1093.6 633.3h6.5M1093.6 569.4h6.5M1093.6 505.5h6.5M1093.6 793h3.5M1093.6 729.2h3.5M1093.6 665.2h3.5M1093.6 601.4h3.5M1093.6 537.5h3.5" stroke="#000" stroke-width="2" fill="none"/><g font-family="'Liberation Sans', Arial, sans-serif" font-weight="bold" font-size="24" fill="#000"><text x="658.7" y="831.3" text-anchor="end">0</text><text x="658.7" y="770.2" text-anchor="end">20</text><text x="658.7" y="709.1" text-anchor="end">40</text><text x="658.7" y="648" text-anchor="end">60</text><text x="658.7" y="586.9" text-anchor="end">80</text><text x="658.7" y="525.8" text-anchor="end">100</text><text x="1104.6" y="831.3">0</text><text x="1104.6" y="767.4">5</text><text x="1104.6" y="703.5">10</text><text x="1104.6" y="639.6">15</text><text x="1104.6" y="575.7">20</text><text x="1104.6" y="511.8">25</text></g><path d="M723.5 530.1h0M725.1 525.2h0M726.7 522h0M728.3 518.8h0M729.3 523.6h0M730.6 528.5h0M731.5 536.5h0M732.8 542.9h0M734.1 549.4h0M735.4 554.2h0M736.4 565.5h0M737.3 571.9h0M738.6 576.7h0M739.9 583.1h0M741.2 588h0M742.5 591.2h0M743.8 594.4h0M745 597.6h0M746 606.6h0M747 623.4h0M748.3 631.4h0M749.2 633h0M750.2 663.6h0M751.5 674.8h0M752.8 679.6h0M754.1 684.5h0M755.7 690.9h0M757.3 695.7h0M758.2 702.2h0M759.5 707h0M760.5 711.8h0M762.1 716.6h0M763.7 723.1h0M765.3 734.3h0M766.3 748.8h0M767.6 758.5h0M768.8 764.9h0M770.1 771.3h0M771.7 781h0M773.4 790.6h0M775 797.1h0M776.6 803.5h0M778.2 806.7h0M779.8 809.9h0M781.4 811.5h0M783 813.1h0M784.6 813.5h0M786.2 813.9h0M787.8 814.3h0M789.4 814.7h0M791 814.7h0M792.7 814.7h0M794.3 814.7h0M795.9 814.7h0M797.5 814.3h0M799.1 813.9h0M800.7 813.5h0M802.3 813.1h0M803.9 812.7h0M805.5 812.3h0M807.1 811.9h0M808.7 811.5h0M810.3 812.3h0M812 813.1h0M813.6 813.9h0M815.2 814.7h0M816.8 814.3h0M818.4 813.9h0M820 813.5h0M821.6 813.1h0M823.2 812.6h0M824.8 812.1h0M826.4 811.5h0M828 811h0M829.6 810.5h0M831.3 809.9h0M832.9 808.8h0M834.5 807.8h0M836.1 806.7h0M837.7 805.6h0M839.3 804.6h0M840.9 803.5h0M842.5 802.3h0M844.1 801.1h0M845.7 799.9h0M847.3 798.7h0M848.9 797.5h0M850.6 796.2h0M852.2 795h0M853.8 793.8h0M855.4 792.6h0M857 791.4h0M858.6 790.2h0M860.2 789h0M861.8 787h0M863.4 785h0M865 783h0M866.6 781h0M868.2 778.2h0M869.9 775.3h0M871.5 772.5h0M873.1 769.7h0M874.7 766h0M876.3 762.2h0M877.9 758.5h0M879.5 753.6h0M881.1 748.8h0M882.7 744h0M884.3 739.2h0M885.9 735.1h0M887.5 731.1h0M889.2 727.1h0M890.8 723.1h0M892.4 720.7h0M894 718.2h0M895.6 717.4h0M897.2 716.6h0M898.8 719h0M900.4 721.5h0M902 724.7h0M903.6 727.9h0M905.2 731.1h0M906.8 734.3h0M908.5 737.5h0M910.1 740.8h0M911.7 742.4h0M913.3 744h0M914.9 745.6h0M916.5 746.4h0M918.1 747.2h0M919.7 748h0M921.3 748.8h0M922.9 749.2h0M924.5 749.6h0M926.1 750h0M927.8 750.4h0M929.4 750.9h0M931 751.5h0M932.6 752h0M934.2 754.4h0M935.8 756.8h0M937.4 760.1h0M939 763.3h0M940.6 767.3h0M942.2 771.3h0M943.8 775.3h0M945.4 779.4h0M947.1 784.2h0M948.7 789h0M950.3 793h0M951.9 797.1h0M953.5 801.1h0M955.1 805.1h0M956.7 808.3h0M958.3 811.5h0M959.9 813.7h0M961.5 815.8h0M963.1 818h0M964.7 819h0M966.4 820.1h0M968 821.1h0M969.6 821.8h0M971 821.8h0M972.4 821.8h0M973.9 821.8h0M975.3 821.8h0M976.7 821.8h0M978.1 821.8h0M979.6 821.8h0M981 821.8h0M982.4 821.8h0M983.9 821.8h0M985.4 821.8h0M986.9 821.8h0M988.4 821.8h0M989.9 821.8h0M991.4 821.8h0M992.9 821.8h0M994.4 821.8h0M995.9 821.8h0M997.4 821.8h0M999 821.8h0M1000.5 821.8h0M1002 821.8h0M1003.5 821.8h0M1005 821.8h0M1006.5 821.8h0M1008 821.8h0M1009.5 821.8h0M1011 821.8h0M1012.5 821.8h0M1014 821.8h0M1015.5 821.8h0M1017 821.8h0M1018.5 821.8h0M1020 821.8h0M1021.5 821.8h0M1023 821.8h0M1024.5 821.8h0M1026 821.8h0M1027.5 821.8h0M1029 821.8h0M1030.5 821.8h0M1032 821.8h0M1033.5 821.8h0M1035 821.8h0M1036.5 821.8h0M1038 821.8h0M1039.5 821.8h0M1041 821.8h0M1042.5 821.8h0M1044 821.8h0M1045.5 821.8h0M1047 821.8h0M1048.5 821.8h0M1050 821.8h0" stroke="#eb1c24" stroke-width="8.1" stroke-linecap="round" fill="none"/><path d="M715.9 819.3L716.8 819.5 717.9 819.4 719.4 819.5 720.8 819.2 722.4 819.7 724.1 819.4 726.1 819.5 727.9 819.5 730 819.5 731.9 819.8 733.9 819.8 735.7 820 737.6 819.9 739.4 820.3 741 820.5 742.6 820.4 744.1 820.9 745.9 821 747.4 821.1 749.1 821.5 750.6 822 752.4 822.2 753.9 822.6 755.6 822.8 757.2 823.3 758.9 823.5 760.6 823.7 762 823.6 763.7 824 765.2 824.4 767 824.1 768.8 824.2 770.5 824.5 772.3 824.9 774 824.8 775.6 824.8 777.3 824.7 779.1 824.6 780.8 824.6 782.4 824.6 784.1 824.7 785.6 824.6 787.3 824.8 788.8 824.5 790.7 824.8 792.4 824.7 794.2 824.6 796 824.6 797.6 824.6 799.3 824.7 801.1 824.7 802.6 824.3 804.1 824.5 805.7 824.6 807.3 824.2 808.6 824.1 810.7 823.8 812.5 824 814.3 823.9 816 823.6 817.7 823 819.3 822.7 821 822.7 822.5 822.4 824.3 822 826 821.1 827.6 820.9 829.2 820.4 830.9 819.7 832.7 818.9 834.3 818.3 835.8 817.5 837.2 817.1 838.8 816.3 840.3 815.6 841.7 815.1 843.3 813.9 844.8 813.2 846.2 812.2 847.6 811.3 848.8 810.2 850.1 809.2 851.6 808.1 852.8 807.1 854.1 806.2 855.4 805 856.7 803.5 858 802.5 859.2 801.2 860.4 800 861.6 798.6 862.8 797.4 863.8 796.1 864.9 794.6 866 793.1 867 792.1 867.9 790.5 868.9 789.4 869.7 787.8 870.4 786.4 871.1 785 871.8 783.6 872.5 782 873.1 780.3 873.8 778.7 874.4 777.2 875.1 775.7 875.7 774.5 876.3 773.1 876.7 771.2 877.5 769.8 877.9 768 878.5 766.3 879.1 764.5 879.6 762.9 880.3 761.5 880.8 760 881.1 758.4 881.7 756.7 882.3 755.1 882.7 753.6 883.2 751.6 883.6 750 884.1 748.3 884.6 746.8 885.2 745 885.6 743.1 886.2 741.9 886.6 740.4 886.9 738.5 887.3 737.1 887.8 735.4 888.3 733.8 888.6 732.5 889 730.7 889.4 729.1 890 727.8 890.2 725.8 890.8 724.5 891.1 723.2 891.7 721.5 892 719.6 892.7 718.1 893.1 716.6 893.5 714.8 894.1 713.2 894.5 711.5 895.1 709.8 895.5 708.3 896.1 706.3 896.5 704.9 897 703.2 897.5 701.8 898.1 700 898.6 698.3 899.2 697 899.6 695.2 900.2 693.8 900.8 692.4 901.1 690.8 901.7 689.1 902.4 687.2 902.8 685.5 903.4 684.1 903.8 682.6 904.3 681.2 904.8 679.4 905.3 678 905.8 676.3 906.3 674.7 906.7 672.7 907.2 671.3 907.7 669.3 908.2 668 908.6 666.3 909.1 665.1 909.7 663.6 910 661.9 910.5 660.1 911.2 658.5 911.5 657 912.2 655 912.5 653.8 913 652.5 913.4 651 913.9 649.1 914.5 647.7 915 645.7 915.4 644.3 915.7 643.1 916 641.2 916.5 639.9 917 638.7 917.3 637 917.6 635.4 918.1 633.5 918.5 631.9 918.9 630.1 919.2 628.2 919.6 626.8 920 625.1 920.4 623.5 920.7 622.4 920.9 620.7 921.1 619 921.4 617.5 921.9 616 922.1 614.3 922.4 612.2 922.7 610.6 923 609 923.2 607.2 923.5 605.8 924 604.1 924.3 602.3 924.4 600.7 924.7 599.2 925 597.3 925.5 595.8 925.7 594.3 926 592.4 926.5 591.2 926.8 589.4 927 587.6 927.4 586 927.7 584.7 928.1 582.8 928.2 581.1 928.7 580 928.9 578.3 929.2 576.8 929.4 575.1 929.8 573.4 929.9 571.5 930.1 570 930.5 568.2 930.7 566.5 930.9 564.4 931.2 562.8 931.2 561.1 931.5 559.7 931.6 557.9 931.9 556.6 932.1 555.4 932.4 553.7 932.7 552.7 933 550.2 933.5 548 934 546.1 934.3 544.8 934.8 543.3 935.2 542.2 935.9 541.5 937.7 540.1 939.9 543 940.4 544 940.7 545 941.1 546.3 941.6 548.2 941.8 549.7 942.4 551.2 942.6 553 943 555.2 943.5 557.4 943.8 559.2 944.2 561.6 944.4 563 944.5 564.1 944.8 565.5 945 566.7 945.1 568.2 945.3 569.5 945.7 571.2 945.7 572.7 945.9 574.3 946.1 575.6 946.2 577.1 946.5 579 946.8 580.3 946.9 582.4 947.1 584.1 947.3 585.5 947.5 587.4 947.6 589.4 948 591.2 948.1 593.3 948.4 595.2 948.4 596.7 948.7 598 948.8 599 948.9 600.9 948.9 602 949.2 603.9 949.2 605 949.3 606.7 949.5 608.5 949.6 609.7 949.8 611.5 949.9 613.4 949.9 614.9 950.2 616.5 950.3 618.3 950.4 619.8 950.6 621.5 950.7 623.2 950.8 624.9 951 626.8 951.1 628.3 951.3 630 951.4 631.7 951.5 633.2 951.7 634.9 951.7 637.1 951.9 638.3 952 640.2 952.2 641.8 952.4 643.7 952.5 645 952.5 647 952.7 648.6 952.9 650.3 953 651.8 953.1 653.3 953.3 655.2 953.5 656.9 953.7 658.4 953.7 659.8 953.8 661.8 954 663.2 954.1 665.1 954.2 666.6 954.4 668.2 954.4 670.2 954.6 672 954.7 673.4 954.9 675.2 955.1 676.9 955.2 678.3 955.3 680.3 955.3 681.8 955.6 683.5 955.6 685 955.8 686.5 956 688.4 956 689.5 956.2 691.3 956.3 692.7 956.5 694.5 956.6 696.1 956.6 697.4 956.8 699.3 957 701 957.2 702.5 957.3 704.4 957.6 706.3 957.7 708 957.9 709.5 958 711.1 958.1 713.1 958.3 714.4 958.4 716 958.6 717.7 958.8 719.3 959 721.1 959.2 722.5 959.3 724.4 959.5 725.7 959.6 727.3 959.7 729 959.9 730.3 960 731.9 960.3 733.5 960.4 734.5 960.5 735.9 960.8 737.5 960.8 739 961.1 741.1 961.2 742.9 961.6 744.8 961.7 746.4 961.9 748.1 962.1 749.5 962.4 751.6 962.6 753.2 962.8 754.7 963.1 756 963.2 757.6 963.3 759.6 963.5 761.2 963.8 762.5 964 764.1 964.3 765.4 964.4 767.3 964.7 768.8 965.1 770.1 965.2 771.9 965.6 773.6 965.8 775.7 966.2 777.3 966.6 779 966.8 781.1 967.2 783.3 967.5 785 967.8 786.5 968.2 788.2 968.4 790.4 968.8 791.9 969 793.2 969.2 794.6 969.4 796 969.8 797.5 970.1 798.7 970.2 799.3 971.1 802.9 971.5 802.3 973.2 803.2 974.5 803.5" stroke="#000" stroke-width="1.4" fill="none" stroke-linejoin="round"/><path d="M905.3 824.4L906.6 823.8 907.9 823.7 909.9 822.8 911.6 821.9 913.1 821.1 914.7 819.9 916.2 819.1 917.3 817.9 919 817.4 920.2 815.9 921 814.1 922.1 812.7 923.1 811.7 923.5 810.8 924.2 809.5 925.1 807.6 925.7 805.9 926.3 803.8 927.3 802.2 927.8 800.8 928.3 800.1 928.7 798.5 929.1 797 929.3 795.2 930.1 793.3 930.6 792.4 930.8 790.1 931.2 788.4 931.9 786.5 931.9 784.3 932.5 783.8 932.6 781.9 932.9 780.7 933 779 933.4 777.5 933.5 775.5 933.9 774.6 934.1 772.7 934.3 770.5 934.5 769.6 935 767.5 935.2 766.1 935.5 764.6 935.6 762.9 936 760.8 936.2 759 936.2 757.3 936.6 755.7 936.4 755 936.8 753.3 937 751.6 936.9 750.5 937.1 749 937.1 747.8 937.6 747 937.7 745.1 937.6 744 937.9 742.1 937.8 739.9 938.4 738.6 938.6 736.4 938.5 734.3 938.9 731.7 939 729.2 939.2 727.7 939.3 727.3 939.1 725.7 939.5 724.5 939.6 722.5 939.6 721.8 940 719.4 939.8 717.9 939.9 716.6 940 715.5 940.4 713.1 940.5 711.6 940.6 709.8 940.6 708.1 940.8 706.9 941 704.5 941.3 703.5 941.4 701.7 941.2 699.6 941.4 698.1 941.6 696.2 941.8 694.4 941.9 692 942.1 690.4 942.5 688.7 942.5 687.1 942.8 684.9 942.8 683.6 943 682.3 942.9 680.3 943.2 678.5 943.1 677.1 943.7 675 943.5 674 943.5 671.5 943.6 670.7 944.1 668.8 944.1 666.9 944.3 665.9 944.4 664 944.5 661.9 944.5 660.2 944.7 658.7 945.1 656.9 945.1 654.6 945.2 653.1 945.5 651.8 945.4 649.6 945.7 648.2 946.1 646.6 946.1 644.9 946.2 643.4 946.4 641.6 946.3 640.3 946.5 638.4 946.9 637.2 947.1 634.7 946.9 633.4 947.1 631.7 947.3 630.2 947.3 629.5 947.7 627.5 947.5 626.5 948 624.3 947.9 623.2 948.2 621.3 948.5 619.9 948.4 618.6 948.5 616.7 948.7 614.8 948.9 612.9 949.4 611.2 949.4 609.6 949.5 607.5 949.7 605.9 949.8 604.9 949.9 603.1 950.5 601.3 950.3 599.5 950.5 598 950.9 596 950.8 594.7 951 592.9 951.4 592 951.5 589.7 951.9 588.8 952 586.6 952 585.4 952.3 583.8 952.6 582.9 952.9 581.1 952.7 579 953 577.4 953.5 575.5 953.5 573 954 571.7 954.1 569.8 954.4 567.9 954.4 566.2 954.7 564.8 955.2 562.7 955 561.5 955.5 559.7 955.6 558.1 955.7 557.1 956.3 556 956.3 554.2 956.9 553.4 957.3 550.7 958.2 547.9 958.6 545.9 959.3 543.3 960.2 542.4 961.1 541.4 962 541.9 962.2 542.7 963.1 543.6 963.6 544 964.2 546.1 964.7 547.6 965.5 548.8 966.1 551.1 966.7 552.1 967 554.6 967.7 556.7 968.3 557.9 968.9 560.1 969.4 561.4 969.8 563.3 970.1 565 970.5 566.1 970.5 567.6 970.9 569.2 971.4 570.5 971.4 571.7 971.8 573.8 971.9 575.5 972.3 576.7 972.9 578.8 973.2 580.7 973.2 582.3 973.6 584.2 974 585.7 974.2 586.8 974.4 588.5 974.7 590.1 975 592 975 594.1 975.5 595.8 975.8 597.5 976.2 598.9 976.2 600.3 976.6 602.6 976.9 604.8 977 605.7 977.5 608 977.7 608.9 977.9 611.2 978.3 612.4 978.6 614 979.1 616 979.6 617.9 979.8 619.2 980.5 621.5 981 622.6 981.4 624.9 981.5 625.9 982.2 627.4 982.8 629 983.1 630.6 983.4 632 984 634 984.3 635.5 984.7 636.9 985.2 638.2 985.6 639.7 986.3 641.7 986.4 643.8 987.1 644.4 987.6 646.6 987.8 648 988.5 649.4 988.8 651.1 989.1 652.4 989.7 654.2 990.1 655.6 990.5 657.5 990.9 658.9 991.6 660.1 992.1 662 992.4 663.5 993 665.4 993.6 666.6 994.1 667.8 994.6 669.5 995.3 671.7 995.7 672.5 996.3 674 996.8 676.3 997.3 677.8 998 678.8 998.5 680.9 999 682 999.8 684.2 1000.3 685.5 1000.7 686.6 1001.4 688.7 1002 689.9 1002.4 691 1003.6 693 1004.2 694.1 1005.1 695.5 1005.9 697.7 1006.6 698.9 1007.1 700.2 1008.1 702.1 1008.8 703.9 1009.3 704.9 1010 706.5 1011 708.4 1011.4 709.5 1012.1 711.5 1012.9 712.7 1013.6 715 1014.3 716.6 1015.2 718.2 1015.7 719.5 1016.1 721.1 1016.8 722.5 1017.3 724.6 1018 725.5 1018.5 727.1 1019.5 728.9 1020 730.4 1020.6 732.2 1021.3 733.9 1021.7 735.2 1022.4 737.2 1023.1 738.5 1023.6 740.5 1024.5 741.3 1025.1 743.5 1025.7 745.2 1026.5 746 1027.2 747.6 1027.6 749.7 1028.2 750.6 1029.1 751.9 1029.6 753.9 1030.5 755.4 1031.4 757 1032.2 758.5 1033.1 759.6 1033.7 761 1034.7 762.6 1035.3 764.1 1036.1 764.9 1037 766.4 1037.8 767.8 1038.8 769.8 1039.5 771 1040.4 772.1 1041.3 773.4 1042.4 774.6 1043.1 776.3 1044 777.2 1045.2 779 1046.4 779.8 1047.4 781.2 1048.6 783.1 1049.4 783.8 1050.8 785 1051.9 786.8 1053 788.1 1054.2 789 1055.6 790.4 1056.9 791.4 1058.5 792.9 1059.7 794.5 1061.1 796 1062.2 796.5 1063.4 797.4 1064.5 798.5 1065.1 799.2 1067.6 801.5 1069.4 802 1070.8 801.7 1072.4 802.3 1073.9 803.5 1075.7 803.3 1077.3 804.8 1078.7 805.3 1080.6 805.5 1082.3 807.2 1083.8 807.9 1085 808.5 1086.8 809.6 1088.3 810.2 1089.8 811.4 1091.5 811.4 1092.4 812.2 1093.5 813.2" stroke="#16189c" stroke-width="1.4" fill="none" stroke-linejoin="round"/><text x="1089.3" y="517" text-anchor="end" font-family="'Liberation Sans', Arial, sans-serif" font-weight="bold" font-size="24.6">mRFP</text></g>
<g><rect x="1229" y="487.6" width="425.4" height="337.6" fill="none" stroke="#000" stroke-width="2"/><path d="M1229 825.2v6.5M1229 487.6v-6.5M1276.3 825.2v3.5M1276.3 487.6v-3.5M1323.5 825.2v6.5M1323.5 487.6v-6.5M1370.8 825.2v3.5M1370.8 487.6v-3.5M1418.1 825.2v6.5M1418.1 487.6v-6.5M1465.3 825.2v3.5M1465.3 487.6v-3.5M1512.6 825.2v6.5M1512.6 487.6v-6.5M1559.9 825.2v3.5M1559.9 487.6v-3.5M1607.1 825.2v6.5M1607.1 487.6v-6.5M1654.4 825.2v3.5M1654.4 487.6v-3.5M1229 825h-6.5M1229 773.2h-6.5M1229 721.4h-6.5M1229 669.6h-6.5M1229 617.8h-6.5M1229 566h-6.5M1229 514.2h-6.5M1229 799.1h-3.5M1229 747.3h-3.5M1229 695.5h-3.5M1229 643.7h-3.5M1229 591.9h-3.5M1229 540.1h-3.5M1229 488.3h-3.5M1654.4 825h6.5M1654.4 733h6.5M1654.4 641h6.5M1654.4 549h6.5M1654.4 779h3.5M1654.4 687h3.5M1654.4 595h3.5M1654.4 503h3.5" stroke="#000" stroke-width="2" fill="none"/><g font-family="'Liberation Sans', Arial, sans-serif" font-weight="bold" font-size="24" fill="#000"><text x="1219.5" y="831.3" text-anchor="end">0</text><text x="1219.5" y="779.5" text-anchor="end">20</text><text x="1219.5" y="727.7" text-anchor="end">40</text><text x="1219.5" y="675.9" text-anchor="end">60</text><text x="1219.5" y="624.1" text-anchor="end">80</text><text x="1219.5" y="572.3" text-anchor="end">100</text><text x="1219.5" y="520.5" text-anchor="end">120</text><text x="1665.4" y="831.3">0</text><text x="1665.4" y="739.3">20</text><text x="1665.4" y="647.3">40</text><text x="1665.4" y="555.3">60</text></g><path d="M1265.8 515.6h0M1267.4 511.4h0M1269 505.9h0M1270.6 512.4h0M1271.3 527.5h0M1272.2 543.6h0M1273.2 547.8h0M1274.2 563.8h0M1275.5 581.5h0M1276.1 592.8h0M1277.1 605h0M1278 625h0M1279 630.4h0M1280 644.3h0M1280.9 652.3h0M1281.9 660.3h0M1283.2 668.4h0M1284.5 676.4h0M1285.7 682.9h0M1287.7 687.7h0M1288.8 688.5h0M1289.9 689.3h0M1291.1 690.1h0M1292.2 690.9h0M1293.5 692.5h0M1294.8 694.1h0M1295.9 696.5h0M1297 698.9h0M1298.9 705.4h0M1300.5 715h0M1302.2 723.1h0M1303.8 732.7h0M1305 740.8h0M1306.3 750.4h0M1307.6 760.1h0M1308.9 768.1h0M1310.2 777.8h0M1311.5 787.4h0M1313.4 797.1h0M1314.5 800.3h0M1315.7 803.5h0M1317.3 805.1h0M1318.9 806.7h0M1320.5 807.8h0M1322.1 808.8h0M1323.7 809.9h0M1325.3 811.5h0M1326.9 813.1h0M1328.5 814.4h0M1330.1 815.7h0M1331.7 816h0M1333.4 816.4h0M1335 815.6h0M1336.6 814.7h0M1338.2 813.9h0M1339.8 813.1h0M1341.4 811.5h0M1343 809.9h0M1344.6 807.8h0M1346.2 805.6h0M1347.8 803.5h0M1349.4 801.9h0M1351 800.3h0M1352.7 798.7h0M1354.3 797.1h0M1355.9 795.4h0M1357.5 793.8h0M1359.1 792.2h0M1360.7 790.6h0M1362.3 789h0M1363.9 786.9h0M1365.5 784.7h0M1367.1 782.6h0M1368.7 779.9h0M1370.3 777.2h0M1372 774.5h0M1373.6 771.3h0M1375.2 768.1h0M1376.8 764.1h0M1378.4 760.1h0M1380 756h0M1381.6 752h0M1383.2 748h0M1384.8 744h0M1386.4 739.2h0M1388 734.3h0M1389.6 731.9h0M1391.3 729.5h0M1392.9 729.5h0M1394.5 729.5h0M1395.9 728.5h0M1397.2 727.5h0M1398.6 726.5h0M1400 725.4h0M1401.7 721.2h0M1403.4 717h0M1405.1 712.8h0M1406.8 708.6h0M1408.4 704.3h0M1410.1 700.1h0M1411.8 695.9h0M1413.5 691.7h0M1415.2 687.5h0M1416.5 683.2h0M1417.7 679h0M1419 674.8h0M1440.5 549.5h0M1441.8 553.3h0M1443 554.6h0M1444.3 555.8h0M1445.6 557.1h0M1446.8 558.4h0M1448.1 560.9h0M1449.4 563.4h0M1450.6 565.9h0M1451.9 568.5h0M1453.2 571h0M1454.4 573.5h0M1455.7 577.3h0M1457 581.1h0M1458.2 584.9h0M1459.5 588.7h0M1460.8 596.3h0M1462 600.1h0M1463.3 603.9h0M1464.6 611.5h0M1466.3 619.1h0M1467.8 626.7h0M1486.1 786.2h0M1487.3 790h0M1488.6 793.8h0M1489.9 797.6h0M1491.1 801.4h0M1492.4 805.2h0M1493.7 809h0M1494.9 811.1h0M1496.2 813.2h0M1497.5 815.3h0M1498.7 816.6h0M1500 817.8h0M1501.3 819.1h0M1502.8 819.6h0M1504.3 820.1h0M1505.8 820.6h0M1507.3 821.1h0M1508.9 821.6h0M1510.3 821.8h0M1511.8 821.8h0M1513.3 821.8h0M1514.8 821.8h0M1516.2 821.8h0M1517.7 821.8h0M1519.2 821.8h0M1520.7 821.8h0M1522.2 821.8h0M1523.6 821.8h0M1525.1 821.8h0M1526.6 821.8h0M1528.1 821.8h0M1529.6 821.8h0M1531.1 821.8h0M1532.5 821.8h0M1534 821.8h0M1535.5 821.8h0M1537 821.8h0M1538.5 821.8h0M1540 821.8h0M1541.5 821.8h0M1543 821.8h0M1544.5 821.8h0M1546 821.8h0M1547.5 821.8h0M1549 821.8h0M1550.5 821.8h0M1551.9 821.8h0M1553.4 821.8h0M1554.9 821.8h0M1556.4 821.8h0M1557.9 821.8h0M1559.4 821.8h0M1560.9 821.8h0M1562.4 821.8h0M1563.9 821.8h0M1565.4 821.8h0M1566.9 821.8h0M1568.4 821.8h0M1569.8 821.8h0M1571.3 821.8h0M1572.8 821.8h0M1574.3 821.8h0M1575.8 821.8h0M1577.3 821.8h0M1578.8 821.8h0M1580.3 821.8h0M1581.8 821.8h0M1583.3 821.8h0M1584.8 821.8h0M1586.3 821.8h0M1587.7 821.8h0M1589.2 821.8h0M1590.7 821.8h0M1592.2 821.8h0M1593.7 821.8h0M1595.2 821.8h0M1596.7 821.8h0M1598.2 821.8h0M1599.7 821.8h0M1601.2 821.8h0M1602.7 821.8h0M1604.2 821.8h0M1605.7 821.8h0M1607.1 821.8h0M1608.6 821.8h0M1610.1 821.8h0M1468.9 634.3h0M1470.4 641.9h0M1471.6 649.5h0M1472.7 657.1h0M1473.4 664.7h0M1473.9 672.3h0M1474.7 684.9h0M1475.4 697.6h0M1477.2 710.3h0M1478.5 720.4h0M1479.7 728h0M1480.5 739.4h0M1481 748.2h0M1482.3 758.4h0M1483.5 768.5h0M1484.8 778.6h0M1486.1 786.2h0M1419 674.8h0M1420.3 667.2h0M1421.5 657.1h0M1422.8 647h0M1424.1 636.8h0M1425.3 626.7h0M1426.6 616.6h0M1427.8 605.2h0M1429.1 596.3h0M1430.4 586.2h0M1431.6 577.3h0M1432.9 565.9h0M1434.2 558.4h0M1435.4 552h0M1438 547h0M1440.5 544.4h0M1443 543.2h0M1445.1 544.4h0M1421.4 671h0M1419.1 662.2h0M1424 652h0M1421.6 641.9h0M1426.5 631.8h0M1424.1 621.6h0M1429 610.9h0M1426.7 600.8h0M1431.5 591.3h0M1429.2 581.8h0M1434.1 571.6h0M1431.7 562.2h0M1436.6 555.2h0M1434.9 549.5h0M1441 545.7h0M1440 543.8h0M1445.9 543.8h0" stroke="#eb1c24" stroke-width="8.1" stroke-linecap="round" fill="none"/><path d="M1277.1 818.1L1278.2 818 1279.5 818.6 1281.3 818.7 1283.3 819 1285.2 819.6 1286.5 820.1 1288.1 820.1 1289.7 820.8 1291.3 821.2 1293 821.2 1294.9 821.9 1296.1 822.1 1297.6 822.4 1299.2 822.6 1300.7 822.8 1302.4 823.2 1304.2 823.5 1305.8 823.4 1307.7 823.6 1309.2 823.8 1310.7 823.9 1312.2 824.2 1313.7 824.4 1315.2 824.6 1317 824.7 1318.5 825.1 1320.2 824.9 1322 825.1 1323.6 825.2 1325.2 824.8 1326.8 824.7 1328.4 824.6 1330.1 824.6 1331.9 824.3 1333.5 824.2 1335.3 824.2 1336.9 823.9 1338.6 823.7 1340.2 823 1341.5 823.2 1343 822.8 1344.8 822.5 1346.7 822.1 1348.2 821.9 1349.9 821.5 1351.4 820.8 1352.7 820.7 1354.3 820 1356 819.5 1357.6 818.9 1359.2 818.5 1360.6 818 1362.4 817.3 1363.9 817 1365.4 816.2 1367.1 815.5 1368.8 814.7 1370.1 813.9 1371.7 813 1373.2 812.6 1374.7 811.7 1376 810.6 1377.6 809.4 1378.9 808.6 1380.2 807.6 1381.5 806.9 1382.9 805.6 1384.3 804.3 1385.6 803.6 1386.7 802.2 1387.9 801.1 1388.9 800 1390 798.5 1391.3 797.2 1392.2 795.8 1393.2 794.5 1394.1 792.9 1395.1 791.6 1396.2 790.2 1397 788.2 1398 786.9 1399 785 1400.1 783.5 1401 782.6 1401.8 781 1402.8 779.5 1403.7 778.6 1404.8 777.1 1405.7 775.9 1406.5 774.2 1407.6 772.6 1408.4 771.5 1409.4 770.1 1410.1 768.6 1410.8 767.1 1411.6 765.9 1412.2 764.2 1412.9 762.8 1413.5 761.4 1414.2 759.8 1414.9 758.3 1415.5 756.7 1416 755.6 1416.7 754.1 1417.1 752.5 1417.7 750.9 1418.2 749.3 1418.7 747.7 1419.1 746.4 1419.5 744.8 1420 743 1420.3 741.8 1420.6 739.9 1421 738.2 1421.4 736.9 1421.6 735.2 1422 733.8 1422.4 731.9 1422.7 730.4 1423.1 728.8 1423.6 727.6 1423.9 725.9 1424.4 724.3 1424.9 722.7 1425.2 721.2 1425.5 719.6 1426.1 718.2 1426.3 716.4 1426.7 714.9 1427.1 713.2 1427.5 712.1 1427.8 710.3 1428.3 708.5 1428.5 706.8 1428.8 704.8 1429.1 703.3 1429.6 701.6 1429.7 699.5 1430.2 698 1430.4 696.3 1430.7 694.3 1431.1 693.1 1431.3 691.4 1431.7 690 1432.2 687.8 1432.6 686.1 1433.1 684.8 1433.4 683.1 1434 681.6 1434.3 680.1 1435 678.8 1435.5 677.3 1436.1 675.6 1436.8 673.8 1437.5 672.5 1438.3 670.9 1439.1 669.5 1439.7 668.4 1440.6 667.5 1442.3 666 1443.9 665.8 1445.6 664.5 1446.2 663.8 1446.8 662.4 1447.6 660.8 1448.2 658.9 1448.9 657.2 1449.5 655.7 1450 654 1450.7 652.1 1451.1 650.5 1451.5 649.1 1452.1 647.3 1452.4 646 1452.8 644.5 1453.3 642.9 1453.6 640.9 1454 639.2 1454.4 636.7 1454.6 635.5 1455 633.9 1455.2 632.5 1455.5 630.6 1455.7 628.9 1456 627.4 1456.3 625.8 1456.5 623.9 1456.8 622 1456.9 620.4 1457.2 618.6 1457.5 616.8 1457.8 615.1 1458 613.4 1458.3 611.6 1458.6 609.9 1458.7 608 1459.1 606.7 1459.3 604.8 1459.6 603.2 1459.8 601.5 1460.1 599.6 1460.4 598.2 1460.6 596.5 1460.9 594.5 1461.1 593.1 1461.4 591.1 1461.5 589.4 1461.9 587.7 1462.1 586.3 1462.2 584.3 1462.4 583 1462.5 581 1462.9 579.1 1462.9 577.5 1463.1 575.8 1463.4 573.7 1463.5 572.1 1463.5 570.6 1463.8 568.9 1463.9 566.9 1464 565.6 1464.2 564 1464.4 562.4 1464.6 560.8 1464.7 559.2 1465 557.3 1465.2 555.5 1465.5 553.7 1465.8 552.3 1465.8 550.5 1466.2 549.1 1466.4 547.5 1466.7 545.8 1466.8 544.4 1467 543 1467.3 541.4 1467.6 539.3 1468 537.6 1468.2 535.8 1468.7 534.4 1468.9 532.8 1469.2 531.9 1469.7 530.4 1470.5 528.3 1471.6 526.7 1472.6 526.7 1473.4 527.6 1474.1 528.9 1474.8 530.9 1475.4 533 1475.9 535.7 1476.1 536.9 1476.5 538.4 1476.8 539.8 1476.8 541.1 1477.2 542.9 1477.5 544.6 1477.7 546.1 1478 547.7 1478.1 549.5 1478.4 551.5 1478.4 553.5 1478.6 554.9 1478.8 556.3 1479 557.6 1479 559.1 1479.3 560.4 1479.3 561.8 1479.5 563.7 1479.7 565 1479.8 566.8 1480 568.3 1479.9 570.2 1480.1 572.1 1480.3 574.3 1480.4 576.3 1480.6 577.2 1480.7 579 1480.9 580.2 1481 581.7 1481.1 583.3 1481.2 584.8 1481.2 586.2 1481.4 587.7 1481.4 589.4 1481.6 591 1481.8 592.5 1481.7 594.4 1482 595.7 1482.1 597.4 1482.1 599.1 1482.3 600.8 1482.5 602.6 1482.4 604.6 1482.6 606.2 1482.7 607.9 1483 609.8 1483.1 611.6 1483.1 612.9 1483.3 614.7 1483.3 616.4 1483.5 618 1483.6 619.5 1483.7 621.1 1483.8 622.7 1483.9 624.2 1484.1 625.9 1484.1 627.7 1484.2 629.4 1484.5 631 1484.5 633.1 1484.7 634.8 1484.8 636.3 1484.9 637.8 1485.1 639.8 1485.1 641.4 1485.3 643.3 1485.4 644.8 1485.5 646.6 1485.7 648 1485.7 649.9 1485.8 651.4 1486.1 652.9 1486 654.7 1486.2 656.4 1486.4 658 1486.5 659.9 1486.5 661.4 1486.7 663.3 1486.9 664.6 1487 666.7 1487.1 667.9 1487.2 669.9 1487.3 671.4 1487.6 673 1487.6 674.8 1487.7 676.3 1488 678 1488.1 679.7 1488.3 681.4 1488.3 683 1488.4 684.5 1488.5 686.1 1488.8 687.8 1489 689.1 1489.1 691 1489.1 692.4 1489.3 694.2 1489.4 695.7 1489.5 697.3 1489.7 699.2 1489.7 701 1489.7 702.8 1489.8 704.1 1490.1 705.9 1490.2 707.7 1490.4 709.1 1490.3 711.2 1490.4 712.8 1490.5 714.5 1490.7 715.8 1490.7 717.5 1491 719.2 1490.9 720.8 1491.1 722.7 1491.3 724.3 1491.4 726 1491.3 727.3 1491.6 729 1491.7 730.7 1491.8 732.5 1491.8 734.2 1492 735.8 1492.1 737.6 1492.3 739.4 1492.4 740.9 1492.6 742.9 1492.5 744.5 1492.8 745.9 1492.8 747.8 1493 749.3 1493.1 751.3 1493.3 752.8 1493.3 754.4 1493.5 756 1493.7 757.6 1493.7 759.1 1493.9 760.5 1494 762 1494.1 763.2 1494.4 765.3 1494.5 767.5 1494.9 769.1 1495 771.2 1495.2 772.7 1495.5 774.5 1495.7 776.3 1495.8 778.2 1496 779.7 1496.2 781.2 1496.5 783 1496.7 784.5 1497 785.8 1497.1 787.4 1497.4 788.9 1497.9 790.7 1498.3 793 1498.6 794.6 1499.1 796.5 1499.4 798.3 1499.9 799.5 1500.2 801 1500.9 802.4 1501.4 804 1502 805.8 1502.5 807.3 1503.3 809 1504 810.3 1504.7 811.9 1505.5 812.7 1506.2 814 1507.8 815.2 1509.1 816.6 1510.7 817.7 1512.5 818.5 1513.8 819.1 1516.1 819.7 1518.1 820.2 1520.2 820.5 1521.6 820.6" stroke="#000" stroke-width="1.4" fill="none" stroke-linejoin="round"/><path d="M1437.8 825.1L1439.2 825.1 1440.7 825.3 1442.7 825.1 1444.9 825.5 1446.9 824.8 1448.8 824.5 1450.5 824.6 1452.1 823.8 1453.5 822.7 1454.8 821.4 1456 819.7 1457 818.5 1458.1 816.2 1459 815.5 1459.5 814.2 1460.4 812.7 1460.8 811.5 1461.4 810 1462 808.8 1462.9 806.8 1463.3 805 1464.1 803.7 1464.6 801.1 1464.8 800.3 1465.1 798.9 1465.6 797 1465.8 796.3 1466.2 794.6 1466.7 792.9 1466.9 791.7 1467.3 789.9 1467.6 788.2 1467.8 786.7 1468.1 785.2 1468.4 783 1468.9 781 1469 779.7 1469.3 778.1 1469.7 776.1 1469.7 775 1470 773 1470.2 771.3 1470.3 769.6 1470.8 768.2 1470.9 766.8 1470.9 765.2 1471.2 763.6 1471.6 761.6 1471.6 759.9 1472 758.6 1472.1 756.4 1472.2 755 1472.4 753.3 1472.5 751.5 1472.8 749.7 1473.1 748.3 1473.2 746.5 1473.2 744.7 1473.4 743.4 1473.7 741.2 1473.6 739.5 1473.8 738.5 1474.1 736.2 1474.3 735.1 1474.3 733 1474.3 731.4 1474.7 730.1 1474.5 728.9 1474.8 726.9 1474.9 725.2 1474.9 724.1 1475.3 722.2 1475.3 721 1475.3 719.5 1475.4 717.5 1475.5 715.7 1475.7 714.2 1475.9 712.9 1476.1 711.4 1476.4 709.4 1476.3 708.1 1476.4 706.1 1476.7 704.9 1476.7 703.4 1476.8 701.6 1476.9 700.1 1477.1 698.6 1477.4 697.2 1477.5 695.4 1477.7 693.5 1477.8 691.9 1478 690.6 1478 689.3 1477.9 687.2 1478.1 685.6 1478.3 684.2 1478.6 682.2 1478.6 680.5 1478.6 678.9 1478.7 677.9 1478.9 676.1 1479.2 674.1 1479.2 672.8 1479.4 671.2 1479.3 669.7 1479.8 668.1 1479.9 666.2 1479.8 664.1 1480 662.5 1480.2 661.5 1480.2 659.5 1480.3 658.2 1480.6 656.2 1480.6 654.2 1480.9 652.8 1481.1 651.4 1481.2 649.4 1481.2 647.9 1481.1 646.5 1481.3 644.5 1481.3 642.8 1481.5 641 1481.9 639.3 1482 637.7 1482.1 636.5 1482.1 634.3 1482.4 632.7 1482.5 631 1482.7 629.9 1482.6 628.2 1482.7 626.5 1482.7 624.5 1482.9 623.3 1483.1 621.4 1483.4 619.6 1483.5 618.3 1483.6 616.4 1483.6 615 1483.9 613 1484 611.3 1484 609.6 1484.1 608.5 1484.5 607 1484.5 605.5 1484.4 603.3 1484.6 601.9 1485 600.1 1485 598.5 1485.1 596.8 1485.3 595.7 1485.5 594.2 1485.6 592.4 1485.8 591 1485.9 589.3 1486.1 587.8 1486.2 586.3 1486.1 584.5 1486.5 582.4 1486.7 581.1 1486.6 579.2 1486.8 577.9 1487 575.6 1487 573.9 1487.3 572.8 1487.3 571.2 1487.7 569.4 1487.8 567.2 1487.7 565.6 1487.9 564.5 1488.3 563.2 1488.3 561.4 1488.4 559.7 1488.7 558.7 1488.9 556.5 1489.2 554.2 1489.2 552.3 1489.7 550.5 1489.7 548.5 1489.9 547.1 1490.2 545.4 1490.4 543.6 1490.7 542.4 1491.1 541.1 1491.4 539.1 1491.5 538.2 1492.1 536.2 1492.8 534.1 1493.2 531.4 1493.8 530.4 1494.5 528.6 1495.2 527.1 1495.7 526.8 1496.6 526.5 1497.7 527.9 1498.8 529.5 1500.1 532 1500.5 533.1 1501 533.8 1501.7 534.7 1502.2 536.2 1502.8 538.4 1503.9 540.5 1504.2 541.5 1504.7 543.3 1505 544.2 1505.4 545.8 1506.1 547.5 1506.5 548.6 1507 550.2 1507.3 551.8 1507.7 553.3 1508.5 555.7 1508.8 557.4 1509.3 559.2 1509.8 560.6 1510.3 562.8 1510.8 564.6 1511.4 565.7 1511.7 567.4 1512.3 569.3 1512.5 570.4 1513 571.6 1513.3 573.7 1513.8 574.8 1514.1 576.5 1514.4 578.7 1514.9 579.7 1515.2 581.6 1515.5 583.7 1515.8 585.3 1516.2 586.9 1516.7 588.2 1517.1 589.5 1517.6 591.7 1518.2 593.1 1518.6 594.8 1519.1 596.4 1519.3 597.8 1519.9 599.3 1520.5 600.6 1521 602.8 1521.4 604.2 1522 605.5 1522.3 606.9 1523 608.7 1523.5 610.4 1524 611.3 1524.3 612.8 1525 614.3 1525.4 615.8 1526.1 617.5 1526.4 618.9 1527.1 620.7 1527.7 621.9 1528.2 623.7 1528.5 625 1529 626.9 1529.6 628.2 1530.2 629.5 1530.7 631.4 1531.2 632.4 1531.7 634.5 1532.2 635.7 1532.6 637.5 1533.3 639.1 1533.6 640.2 1534.3 642 1534.8 643.6 1535.1 644.4 1535.7 645.9 1536.4 647.7 1536.8 649.1 1537.3 650.6 1537.8 652.3 1538.1 653.9 1538.8 655.4 1539.2 657.2 1539.9 658.6 1540.1 660.3 1540.6 661.9 1541.3 663.2 1541.6 664.6 1542.3 666.7 1542.5 668.3 1543.3 669.4 1543.6 671.3 1544.1 673 1544.5 674.9 1545 676.3 1545.6 677.7 1546.1 679 1546.3 681.1 1546.8 682.7 1547.3 684.1 1547.8 685.3 1548.5 687.4 1548.9 688.6 1549.5 690.2 1549.8 691.8 1550.4 693.3 1551.1 694.8 1551.7 696.8 1552.2 698 1552.7 699.7 1553.1 701.3 1553.8 702.6 1554.4 704.1 1555 705 1555.5 707.3 1555.9 708.2 1556.4 710.2 1556.9 711.1 1557.5 713 1558.1 714.4 1558.7 716.4 1559.5 717.6 1560 719.4 1560.4 720.4 1560.9 721.8 1561.8 723.6 1562.1 724.9 1562.9 726.2 1563.3 727.8 1564 729.5 1564.6 731.5 1565.1 732.7 1565.7 734.2 1566.4 736.2 1566.7 737.2 1567.3 738.9 1568.1 740.8 1568.5 741.8 1569.1 743.1 1569.9 745.3 1570.3 746.7 1570.9 748 1571.6 749.5 1572.3 750.9 1572.8 752.6 1573.4 753.6 1574.1 755.9 1574.8 757.4 1575.2 758.4 1576.1 760.3 1576.6 761.5 1577.1 763.2 1577.8 764.3 1578.6 766 1579 767.7 1579.9 769 1580.6 770.1 1581.2 771.9 1581.9 773.4 1582.5 774.6 1583.2 775.8 1584.1 777.4 1585 778.4 1585.6 779.8 1586.5 781.8 1587.5 782.6 1588.3 784.1 1589 785.5 1590.2 787.1 1590.9 788 1592.1 789.9 1592.9 791 1593.8 792.1 1595 793.5 1595.9 794.6 1596.8 795.9 1597.9 797.1 1599.1 798.5 1600.3 799 1601.3 800.3 1602.7 801.7 1603.8 802.2 1605.2 803.4 1606.4 804.3 1608.1 805.5 1609.5 805.8 1610.9 807.3 1612.5 807.5 1613.9 808.1 1615.5 809.6 1617.1 809.9 1618.6 810.5 1620.1 811.5 1621.7 811.5 1623.3 812.6 1624.8 813.1 1626.2 813.5 1627.8 814.4 1629.4 814.3 1631.3 815.3 1632.8 815.3 1634.6 816.3 1636.7 816.6 1638.4 817 1640 816.8 1641.8 817.2 1643.6 818 1645.3 817.6 1646.8 817.8 1648.4 818.2 1649.8 818.5 1651 818.9 1652.2 819 1653.2 819.3 1655.6 819.8 1655.1 819.7" stroke="#16189c" stroke-width="1.4" fill="none" stroke-linejoin="round"/><text x="1649.6" y="511.9" text-anchor="end" font-family="'Liberation Sans', Arial, sans-serif" font-weight="bold" font-size="24.6">tdTomato</text></g>
<g><rect x="107.8" y="884.4" width="425.4" height="337.6" fill="none" stroke="#000" stroke-width="2"/><path d="M107.8 1222v6.5M107.8 884.4v-6.5M155.1 1222v3.5M155.1 884.4v-3.5M202.3 1222v6.5M202.3 884.4v-6.5M249.6 1222v3.5M249.6 884.4v-3.5M296.9 1222v6.5M296.9 884.4v-6.5M344.1 1222v3.5M344.1 884.4v-3.5M391.4 1222v6.5M391.4 884.4v-6.5M438.7 1222v3.5M438.7 884.4v-3.5M485.9 1222v6.5M485.9 884.4v-6.5M533.2 1222v3.5M533.2 884.4v-3.5M107.8 1221.8h-6.5M107.8 1165.6h-6.5M107.8 1109.4h-6.5M107.8 1053.2h-6.5M107.8 997h-6.5M107.8 940.8h-6.5M107.8 884.6h-6.5M107.8 1193.7h-3.5M107.8 1137.5h-3.5M107.8 1081.3h-3.5M107.8 1025.1h-3.5M107.8 968.9h-3.5M107.8 912.7h-3.5M533.2 1221.8h6.5M533.2 1136.3h6.5M533.2 1050.8h6.5M533.2 965.3h6.5M533.2 1179h3.5M533.2 1093.5h3.5M533.2 1008h3.5M533.2 922.5h3.5" stroke="#000" stroke-width="2" fill="none"/><g font-family="'Liberation Sans', Arial, sans-serif" font-weight="bold" font-size="24" fill="#000"><text x="98.3" y="1228.1" text-anchor="end">0</text><text x="98.3" y="1171.9" text-anchor="end">20</text><text x="98.3" y="1115.7" text-anchor="end">40</text><text x="98.3" y="1059.5" text-anchor="end">60</text><text x="98.3" y="1003.3" text-anchor="end">80</text><text x="98.3" y="947.1" text-anchor="end">100</text><text x="98.3" y="890.9" text-anchor="end">120</text><text x="544.2" y="1228.1">0</text><text x="544.2" y="1142.6">20</text><text x="544.2" y="1057.1">40</text><text x="544.2" y="971.6">60</text><text x="107.8" y="1251.6" text-anchor="middle">600</text><text x="202.3" y="1251.6" text-anchor="middle">800</text><text x="296.9" y="1251.6" text-anchor="middle">1000</text><text x="391.4" y="1251.6" text-anchor="middle">1200</text><text x="485.9" y="1251.6" text-anchor="middle">1400</text></g><path d="M155.5 928.5h0M157.1 930.1h0M158.7 934.9h0M160.3 942.9h0M161.9 941.3h0M163.2 942.1h0M164.5 942.9h0M165.6 944.5h0M166.7 946.2h0M168.3 951h0M169.3 959h0M170.2 971.9h0M171.5 994.4h0M172.5 998.6h0M173.5 1018.5h0M174.4 1033h0M175.4 1044.3h0M176.4 1055.5h0M177.3 1066.8h0M178.3 1071.6h0M179.3 1082.9h0M180.5 1092.5h0M181.8 1098.9h0M183.1 1112.8h0M184.4 1124.7h0M186 1131.1h0M187 1139.2h0M187.9 1147.2h0M188.9 1158.5h0M189.9 1168.1h0M190.8 1174.5h0M191.8 1182.6h0M193.1 1190.6h0M194.7 1197.1h0M196.6 1200.3h0M197.9 1198.7h0M199.2 1197.1h0M201.1 1198.7h0M202.4 1201.9h0M203.7 1205.1h0M205 1207.2h0M206.3 1209.3h0M207.4 1209.9h0M208.5 1210.6h0M210.1 1210.7h0M211.7 1210.9h0M213.4 1209.6h0M215 1208.3h0M216.6 1206.7h0M218.2 1205.1h0M219.8 1204h0M221.4 1203h0M223 1201.9h0M224.6 1200.8h0M226.2 1199.7h0M227.8 1198.7h0M229.4 1197.1h0M231 1195.4h0M232.7 1193.8h0M234.3 1192.2h0M235.9 1190.6h0M237.5 1189h0M239.1 1187.4h0M240.7 1185.8h0M242.3 1184.2h0M243.9 1182.6h0M245.5 1181h0M247.1 1179.4h0M248.7 1177.8h0M250.3 1175.3h0M252 1172.9h0M253.6 1170.5h0M255.2 1168.1h0M256.8 1165.3h0M258.4 1162.5h0M260 1159.7h0M261.6 1156.8h0M263.2 1154h0M264.8 1151.2h0M266.4 1148.4h0M268 1145.6h0M269.6 1142.8h0M271.3 1140h0M272.9 1137.1h0M274.5 1134.3h0M276.1 1131.1h0M277.7 1127.9h0M279.3 1124.7h0M280.9 1123.1h0M282.5 1121.5h0M284.1 1119.9h0M285.7 1118.2h0M287.3 1116.6h0M288.9 1115h0M290.6 1114h0M292.2 1112.9h0M293.8 1111.8h0M295.4 1109.4h0M297 1107h0M298.3 1102.2h0M299.6 1097.3h0M300.8 1090.9h0M302.1 1079.6h0M303.4 1068.4h0M305 1058.7h0M306.6 1047.5h0M308.2 1034.6h0M309.9 1025h0M311.5 1008.9h0M313.1 997.6h0M314.7 991.2h0M316.3 975.1h0M317.9 965.5h0M319.5 955.8h0M321.1 952.6h0M322.1 943.6h0M322.5 943.6h0M322.5 954.9h0M324.9 969.8h0M327.4 979.8h0M329.9 989.8h0M332.4 999.8h0M334.9 1009.8h0M337.4 1019.7h0M339.9 1028.5h0M343.7 1033.5h0M347.4 1039.7h0M349.9 1047.2h0M351.1 1054.7h0M352.4 1064.6h0M354.9 1074.6h0M356.1 1084.6h0M357.4 1092.1h0M357.9 1102.1h0M358.6 1112h0M359.9 1119.5h0M361.1 1129.5h0M361 1129.5h0M361.5 1131.5h0M362.3 1133.5h0M361.8 1135.5h0M362.1 1137.5h0M362.5 1139.5h0M362.1 1141.5h0M362.9 1143.5h0M363.3 1145.5h0M363.8 1147.5h0M363 1149.5h0M363.6 1151.3h0M363.6 1153.2h0M365 1155.1h0M365.2 1156.9h0M364.4 1158.8h0M366.3 1160.7h0M366.5 1162.6h0M366.4 1164.4h0M366.6 1166.3h0M366.2 1168.2h0M366.3 1170h0M367.4 1171.9h0M367.2 1173.9h0M367.9 1175.9h0M368.4 1177.9h0M368.6 1179.9h0M369.8 1181.9h0M370.3 1183.9h0M371.4 1185.9h0M371.4 1187.9h0M372.1 1189.9h0M372.3 1191.9h0M373.1 1193.9h0M373.3 1195.9h0M373.5 1197.9h0M375.1 1199.9h0M375.6 1201.9h0M376 1203.7h0M376.4 1205.6h0M376.4 1207.5h0M376.9 1209.3h0M378.2 1210.9h0M379.1 1212.5h0M381.5 1214h0M382.2 1215.6h0M384.8 1216.4h0M385.9 1217.2h0M388.7 1218h0M390.4 1218.6h0M391.2 1218.6h0M393.6 1218.6h0M396.9 1218.6h0M398.3 1218.6h0M401.3 1218.6h0M402.5 1218.6h0M404.1 1218.6h0M407.5 1218.6h0M410.2 1218.6h0M411.9 1218.6h0M414.1 1218.6h0M417 1218.6h0M420.5 1218.6h0M422.7 1218.6h0M424.1 1218.6h0M426.8 1218.6h0M429.1 1218.6h0M431.5 1218.6h0M435.2 1218.6h0M436.7 1218.6h0M439.8 1218.6h0M442.1 1218.6h0M444.2 1218.6h0M447.6 1218.6h0M449.1 1218.6h0M452.4 1218.6h0M454.1 1218.6h0M457 1218.6h0M459.2 1218.6h0M461.8 1218.6h0M465.4 1218.6h0M467.6 1218.6h0M469.3 1218.6h0M472.8 1218.6h0M474.2 1218.6h0M477 1218.6h0M480.2 1218.6h0M482.3 1218.6h0M484 1218.6h0M487.1 1218.6h0" stroke="#eb1c24" stroke-width="8.1" stroke-linecap="round" fill="none"/><path d="M153.9 1216.8L154.8 1217.2 156.1 1217.5 157.9 1217.3 159.6 1217.8 161.5 1218.3 163.4 1218.3 165.2 1218.7 166.7 1218.6 168.3 1218.9 169.7 1219.3 171.5 1219.7 173 1219.8 174.6 1220.1 176.3 1220.1 177.9 1220 179.4 1220.4 181.1 1220.7 182.7 1220.6 184.3 1220.6 185.9 1220.8 187.5 1221 189.1 1221.1 190.7 1221 192.3 1221.3 193.7 1221.2 195.4 1221.5 197.1 1221.2 198.7 1221.2 200.4 1221.6 202 1221.4 203.5 1221.1 205.2 1221.1 206.8 1221.4 208.5 1221.3 210.2 1221 211.9 1220.8 213.5 1220.5 215.1 1220.1 216.7 1220.1 218.4 1220.1 220 1219.7 221.5 1219.3 223.1 1218.7 224.7 1218.5 226.4 1218 228 1217.4 229.5 1217.2 231.1 1216.3 232.8 1216 234.2 1215.6 235.9 1215 237.5 1214.1 239.1 1213.2 240.8 1212.6 242.3 1211.7 243.9 1211.3 245.5 1210.4 247.2 1209.3 248.8 1208.4 250.1 1207.2 251.3 1206.5 252.6 1205.5 254 1204.5 255.4 1203.4 256.8 1202.8 257.9 1201.5 259.3 1200.5 260.5 1199.4 261.6 1198.8 263 1197.6 264.4 1196.6 265.5 1195.2 266.7 1194.3 267.9 1192.8 269 1191.5 270.2 1190.3 271.3 1189.2 272.2 1187.5 272.8 1186.2 273.6 1184.5 274.4 1182.8 275 1180.8 275.6 1179.5 276.2 1177.4 277 1175.9 277.7 1174.4 278.4 1172.8 279.3 1171.4 280 1169.8 281 1168.1 281.6 1166.5 282.6 1165.2 283.2 1164 284.2 1163.5 285.8 1162.3 287.4 1161.4 288.9 1161.5 290.6 1161.2 292.2 1160.5 293.8 1160.6 295.5 1159.7 297 1158.7 297.6 1157.2 298.4 1156.3 298.9 1154.8 299.4 1153.4 300 1151.6 300.7 1149.8 301.2 1147.5 301.8 1145.4 302.2 1144.3 302.5 1142.8 302.9 1141.4 303.2 1139.8 303.4 1138.2 303.8 1136.9 304.3 1135 304.5 1133.3 305 1131.6 305.2 1129.8 305.7 1128.3 305.9 1126.8 306.3 1124.7 306.7 1123.3 307 1121.7 307.3 1119.8 307.6 1118 308 1116.5 308 1114.7 308.5 1113.2 308.8 1111.2 309.1 1109.5 309.4 1108 309.7 1106.1 309.8 1104.3 310.3 1102.8 310.5 1101.5 310.8 1100 311.1 1098.5 311.5 1097.3 312.2 1095 312.8 1093.1 313.5 1091.6 314 1090.2 314.9 1088.9 315.4 1087.4 316.3 1086.2 317.1 1084.6 317.7 1083.2 318.6 1081.9 319.4 1080.4 320.2 1079 321.1 1077.6 321.8 1076.5 322.6 1074.7 323.5 1073.2 324.3 1072.3 325.3 1070.7 326 1069.4 326.9 1067.9 327.7 1066.6 328.4 1064.4 329.2 1062 329.6 1060.7 329.8 1059.4 330 1058.4 330.2 1056.8 330.7 1055.3 330.9 1054.2 331.1 1052.3 331.4 1050.7 331.7 1049.5 332 1047.8 332.2 1046.1 332.5 1044.3 332.6 1042.6 332.9 1040.6 333.1 1038.9 333.5 1036.6 333.6 1034.7 334 1033.1 334.1 1031.5 334.3 1030.3 334.4 1028.6 334.8 1027.6 334.9 1025.7 335.1 1024.4 335.3 1022.9 335.4 1021.7 335.6 1020 335.9 1018.4 336 1016.8 336.1 1015.5 336.5 1013.7 336.6 1011.9 336.7 1010.4 336.8 1008.9 337.2 1007.3 337.3 1005.4 337.4 1003.7 337.8 1001.8 337.9 1000.2 338 998.4 338.2 996.8 338.5 995 338.7 992.8 338.7 991.1 338.9 989.8 339.1 988.2 339.3 986.5 339.3 985 339.4 983.5 339.7 982.3 339.8 980.2 339.9 978.8 340 977.1 340.3 975.4 340.3 973.7 340.6 972 340.6 970.1 340.9 968.4 341 966.9 341.1 964.8 341.2 963.3 341.2 961.3 341.5 959.8 341.6 958.2 341.8 956.2 342 954.7 342 953.1 342.1 951.1 342.4 949.7 342.5 948.1 342.7 946.3 342.8 944.8 343 943.3 343.1 942 343.1 940.4 343.4 939.4 343.6 938 343.7 936.4 343.8 934.2 344.1 932.1 344.3 930.4 344.6 928.1 345 926.2 345.2 924.3 345.3 922.6 345.7 921.1 345.9 919.4 346 917.5 346.4 915.9 346.5 914.3 346.8 912.9 347.1 911.4 347.4 910.4 347.6 908.9 347.8 907.9 348 906.6 348.2 905.3 348.4 904.5 349.1 901 349.7 898.8 350.1 896.6 350.7 895.5 351.1 894.9 351.6 894.5 352.3 895.2 352.7 896 353.4 897.5 354 899.5 354.6 901.7 355.1 903.8 355.6 905.9 355.8 907.2 356 908.3 356.4 909.7 356.5 910.8 356.8 912 357 913.5 357.2 914.7 357.5 916.5 357.5 918.9 357.9 920.9 358.1 923.6 358.3 924.8 358.4 926.2 358.4 927.4 358.5 928.6 358.6 929.7 358.7 931.3 358.9 933 359 934.2 359.1 936.1 359.1 937.3 359.3 939.2 359.4 940.9 359.6 942.1 359.6 944.2 359.8 945.6 359.9 947.5 360 949.4 360.1 950.8 360.2 952.5 360.4 954.5 360.5 956.4 360.6 957.9 360.7 960.1 360.8 961.7 361 963.7 361 965.4 361.2 966.7 361.4 968.6 361.5 970.4 361.6 971.9 361.6 973.2 361.7 975 361.7 976.3 361.9 978 362.1 979.4 362.1 981 362.3 982.6 362.3 984.4 362.4 985.8 362.6 987.6 362.7 989.3 362.7 990.8 362.8 992.3 363 994.2 363 995.7 363.1 997.2 363.1 998.7 363.4 1000.6 363.5 1002 363.6 1003.9 363.7 1005.3 363.8 1007 363.9 1008.6 364 1010.3 364 1011.8 364.2 1013.6 364.3 1015.3 364.4 1016.7 364.3 1018.5 364.6 1020.1 364.5 1021.9 364.7 1023.6 364.8 1024.8 365 1026.7 365.1 1028.3 365.1 1029.9 365.2 1031.4 365.3 1033.2 365.3 1034.5 365.7 1036.5 365.7 1037.8 365.8 1039.6 365.9 1041.1 366.1 1042.7 366.1 1044.2 366.2 1046.1 366.3 1047.5 366.4 1049.2 366.4 1050.8 366.6 1052.6 366.5 1054.3 366.8 1055.8 366.7 1057.4 367 1058.9 367.1 1060.8 367.1 1062 367.2 1063.9 367.4 1065.1 367.5 1067.1 367.6 1068.7 367.5 1069.9 367.7 1071.7 367.8 1073.2 367.9 1074.8 368.2 1076.8 368.1 1078.1 368.2 1080 368.4 1081.7 368.6 1083.2 368.7 1085.3 368.6 1086.6 368.9 1088.4 368.9 1089.9 369.1 1091.6 369.2 1093.4 369.3 1094.9 369.4 1096.6 369.6 1098.3 369.6 1100 369.6 1101.7 369.8 1103.5 369.9 1104.7 370 1106.2 370.2 1108.1 370.3 1109.3 370.3 1111 370.5 1112.4 370.6 1114 370.7 1115.5 370.9 1117.1 370.8 1118.4 371 1119.8 371.1 1121.6 371.3 1123.4 371.4 1125.2 371.5 1127 371.6 1129.2 371.9 1130.8 372.1 1132.3 372.2 1134.3 372.3 1136 372.4 1137.6 372.5 1139.1 372.7 1140.5 372.9 1142.1 373.1 1143.6 373.1 1145.3 373.4 1146.7 373.4 1148.3 373.6 1149.4 373.9 1151 373.8 1152.3 374 1154 374.2 1155.4 374.4 1157 374.7 1159.1 374.9 1160.8 374.9 1162.5 375.1 1164.3 375.3 1165.9 375.7 1167.6 375.7 1169.5 375.9 1170.7 376.2 1172.6 376.5 1174 376.6 1175.3 376.9 1176.7 377 1178.2 377.2 1179.9 377.4 1181.1 377.8 1183.1 378 1185.1 378.3 1186.7 378.8 1188.4 378.9 1189.9 379.3 1191.7 379.6 1192.8 379.9 1194.3 380.4 1196 380.7 1197 381.1 1198.9 381.7 1200.8 382.2 1202.8 382.7 1204.3 383.2 1205.3 383.8 1206.5 385 1208.6 386.5 1209.9 387.8 1210.6 388.6 1211.3" stroke="#000" stroke-width="1.4" fill="none" stroke-linejoin="round"/><path d="M316.3 1222L317.7 1221.5 319.3 1221.9 321.6 1221.4 323.8 1221.1 325.4 1221.2 325.8 1221.5 325.1 1220.9 323.1 1221.6 320.5 1221.8 318.4 1221.4 317.6 1221.9 318 1221.9 319.5 1221.8 321.7 1221.6 323.7 1221.3 325.8 1221.3 327.6 1220.8 329.1 1219.1 330.4 1217.5 331.6 1215.7 332.6 1213.9 333.9 1212.3 335.1 1210.6 336.1 1209.3 337.6 1208.1 338.6 1208.3 339.7 1209.4 341.2 1210.6 342.2 1210.3 343.6 1208.6 344.8 1206.5 345.3 1205.4 345.8 1204.5 346.4 1202.9 346.8 1201.5 347.4 1200.1 347.7 1198.3 348.3 1196.5 348.7 1194 348.8 1193.2 349.1 1191.7 349.3 1190.2 349.6 1188.7 349.7 1187.5 350.2 1185.8 350.3 1183.8 350.4 1182.6 350.6 1180.5 351.1 1178.7 351.3 1176.6 351.4 1175.3 351.3 1173.9 351.8 1172.1 351.8 1171.1 351.8 1169.1 352.1 1167.4 352.4 1165.7 352.4 1163.8 352.8 1162 352.9 1160.9 353 1159.1 353 1157.2 353.3 1155 353.4 1153.5 353.5 1151.9 353.7 1150.6 353.9 1148.7 354.2 1146.6 354.5 1145.6 354.5 1143.7 354.8 1142.1 354.7 1140.7 354.9 1138.7 355.2 1137.2 355.3 1135.4 355.4 1133.8 355.5 1131.9 355.8 1130.5 356.1 1129 356.1 1126.7 356.3 1125.4 356.5 1123.4 356.7 1121.8 356.9 1120.9 357 1118.9 357.2 1117.1 357.4 1116.1 357.6 1114.4 357.7 1112.9 357.8 1110.8 358.1 1108.9 358.1 1107.7 358.5 1106 358.3 1104.2 358.5 1102.1 358.8 1101 358.8 1099 358.9 1097.4 359 1095.9 359.2 1094.2 359.5 1092.5 359.5 1090.8 359.5 1089.8 359.9 1088.2 359.7 1086.4 359.9 1084.7 360.1 1082.7 360.3 1080.9 360.4 1079.7 360.6 1077.9 360.8 1075.8 360.8 1074.8 360.9 1072.7 361 1070.9 361.2 1069.8 361.1 1067.9 361.4 1066.4 361.5 1064.2 361.5 1062.8 361.7 1061.1 362 1060 362 1058.2 362.2 1056.7 362.5 1054.9 362.5 1053.4 362.5 1051.7 363 1050.3 362.8 1048.3 363 1046.7 363.2 1044.8 363.3 1043.7 363.4 1041.6 363.8 1039.6 363.7 1038.2 363.7 1036.3 363.8 1035.3 364.2 1033.8 364 1031.8 364.4 1030.5 364.3 1028.9 364.4 1026.7 364.7 1025.6 364.7 1023.6 365 1022 365.1 1019.9 365.1 1018.4 365.2 1017.2 365.1 1015.3 365.5 1013.5 365.3 1011.9 365.6 1010.2 365.7 1008.4 365.7 1006.8 366 1005 366 1003.9 366.1 1002.2 366.3 1000.5 366.2 999 366.6 997.6 366.7 995.3 366.7 993.8 366.9 992.2 366.9 991.3 366.9 989.6 367.3 987.8 367.3 986 367.5 984.6 367.6 983.5 367.6 982.1 367.9 980.2 367.9 978.5 368 977 368.3 974.9 368.2 973.5 368.5 971.8 368.8 970.1 368.7 968.3 368.9 967.2 368.9 965 369 963.9 369.3 962 369.4 960.6 369.7 958.4 369.7 956.7 369.9 955.3 370.1 953.7 370.2 951.8 370.3 949.9 370.3 948.4 370.5 946.6 370.8 944.9 370.9 943.2 371 941.6 371.2 939.8 371.4 938.2 371.4 936.2 371.7 935.2 371.7 933.3 371.9 931.9 372.1 930.4 372.3 928.6 372.4 927.6 372.6 925.7 372.9 923.2 373 921.7 373.4 919.3 373.4 917.3 373.9 915.4 374 914.2 374.1 911.9 374.3 911 374.4 909 374.9 907.3 375 906.1 375.2 904.8 375.6 903 375.7 902.1 375.7 901.2 376.2 900.2 376.9 896.2 377.6 895 378.4 894.1 379.3 893.8 380.4 894.1 381.3 895.9 382.5 897.8 383.4 900.1 384.1 901.2 384.4 902.7 384.5 903.6 385.2 905.1 385.5 906.4 385.9 907.7 386.2 909.6 386.7 911.9 387.2 915.1 387.5 915.9 387.9 917.3 388 918.4 388.5 920.2 388.6 921.5 388.9 923.6 389.4 924.7 389.6 926.7 389.9 928.2 390.3 929.8 390.8 931.8 391.2 933.4 391.5 935.4 391.8 937 392 939.1 392.3 940.7 392.8 942.8 393.2 944.3 393.3 945.8 393.9 947.9 394.2 949.6 394.6 950.8 395 952.1 395.2 953.9 395.7 955.8 395.9 957.9 396.2 959.6 396.7 961.2 397.2 962.5 397.3 964.3 397.9 965.6 398 967.1 398.5 969.3 399.1 970.4 399.3 972.3 399.8 973.4 399.9 975.3 400.3 976.9 400.7 978.9 401.1 980.4 401.5 981.4 401.8 983.6 402.5 984.9 402.8 986.5 403.1 988.4 403.5 990 403.8 991.4 404.2 992.9 404.4 994.7 405 996.2 405.4 997.5 405.5 999.5 406.1 1000.4 406.5 1002.1 406.7 1003.6 407.3 1005.1 407.7 1006.7 407.9 1008.7 408.3 1010 408.7 1011.6 409.5 1013.2 409.9 1014.8 410.1 1016 410.8 1018.1 411 1019.7 411.8 1021.3 412.2 1022.7 412.7 1024.1 413.3 1025.6 413.8 1026.8 414.3 1028.4 414.7 1030.1 415.3 1031.7 416.1 1032.9 416.4 1035.2 417.2 1036.8 417.7 1038.1 418.1 1039.4 418.8 1041.4 419.3 1042.9 419.8 1044.9 420.2 1046.2 420.6 1047.8 421.3 1049 421.5 1051 421.9 1052.3 422.6 1053.7 422.8 1055.6 423.4 1057.2 424 1058.5 424.3 1060.5 424.6 1061.8 425.1 1063.6 425.6 1064.7 426.1 1067.1 426.4 1068 426.9 1070.2 427.3 1071.5 428 1073.2 428.2 1075.1 428.7 1076.5 429.3 1078.1 429.7 1079.9 430.3 1081.6 430.5 1083.2 431 1084.6 431.4 1086.2 432.1 1087.9 432.6 1089 433 1091 433.4 1092.3 433.9 1094.1 434.3 1095.6 434.7 1097 435.3 1099 435.6 1100.8 435.9 1102.5 436.4 1103.6 437.1 1105.3 437.5 1107 438.1 1108.1 438.2 1110.3 438.7 1111.8 439.2 1113.4 439.8 1114.2 440.1 1115.9 440.9 1117.8 441.1 1119.3 441.7 1121.4 442.4 1122.9 442.9 1124.7 443.1 1125.9 443.9 1127.8 444.3 1129.4 444.9 1131.1 445.2 1132.6 445.8 1133.9 446.2 1135.5 447 1137.1 447.4 1138.2 448.1 1140.3 448.4 1141.7 449.2 1142.6 449.5 1144.5 450.4 1145.9 450.9 1148 451.7 1149.6 452.3 1151.2 453 1152.8 453.7 1154.5 454.3 1156 455.1 1157.4 455.7 1159 456.4 1160.2 457.2 1162 457.8 1164 458.8 1165 459.4 1166.9 460 1167.8 460.9 1169.2 461.6 1170.6 462.1 1172.1 463 1173.6 463.9 1175.1 464.9 1176.8 465.8 1178.4 466.9 1179.5 467.6 1181 468.5 1182.5 469.7 1183.1 470.6 1184.9 471.5 1185.7 472.6 1187.2 473.6 1188.5 474.6 1189.1 475.7 1190.5 477.1 1191.6 478.3 1193 479.5 1194.2 480.5 1195 482 1196.3 483.2 1197.1 484.4 1198.5 485.7 1198.8 486.8 1200 488.4 1200.6 489.5 1201.9 490.8 1202.8 492.4 1203.8 493.5 1204.4 495.1 1205.1 496.3 1206.2 497.8 1207 499.3 1207.8 500.5 1208.1 502.2 1209 503.9 1209.3 505.2 1209.7 507.1 1210.9 508.5 1210.7 510.1 1211.4 511.8 1211.9 514 1212.2 515.9 1212.8 517.6 1213.2 519.5 1213.1 521.4 1214.1 523.5 1214.1 525.4 1214.2 527.1 1214.3 528.5 1215.3 529.7 1215.1 531.1 1215.7 532.2 1215.4" stroke="#16189c" stroke-width="1.4" fill="none" stroke-linejoin="round"/><text x="532.2" y="912.4" text-anchor="end" font-family="'Liberation Sans', Arial, sans-serif" font-weight="bold" font-size="24.6">DsRed2</text></g>
<g><rect x="668.2" y="884.4" width="425.4" height="337.6" fill="none" stroke="#000" stroke-width="2"/><path d="M668.2 1222v6.5M668.2 884.4v-6.5M715.5 1222v3.5M715.5 884.4v-3.5M762.7 1222v6.5M762.7 884.4v-6.5M810 1222v3.5M810 884.4v-3.5M857.3 1222v6.5M857.3 884.4v-6.5M904.5 1222v3.5M904.5 884.4v-3.5M951.8 1222v6.5M951.8 884.4v-6.5M999.1 1222v3.5M999.1 884.4v-3.5M1046.3 1222v6.5M1046.3 884.4v-6.5M1093.6 1222v3.5M1093.6 884.4v-3.5M668.2 1221.8h-6.5M668.2 1146.8h-6.5M668.2 1071.8h-6.5M668.2 996.8h-6.5M668.2 921.8h-6.5M668.2 1184.3h-3.5M668.2 1109.3h-3.5M668.2 1034.3h-3.5M668.2 959.3h-3.5M668.2 884.3h-3.5M1093.6 1221.8h6.5M1093.6 1130.2h6.5M1093.6 1038.6h6.5M1093.6 947h6.5M1093.6 1176h3.5M1093.6 1084.4h3.5M1093.6 992.8h3.5M1093.6 901.2h3.5" stroke="#000" stroke-width="2" fill="none"/><g font-family="'Liberation Sans', Arial, sans-serif" font-weight="bold" font-size="24" fill="#000"><text x="658.7" y="1228.1" text-anchor="end">0</text><text x="658.7" y="1153.1" text-anchor="end">100</text><text x="658.7" y="1078.1" text-anchor="end">200</text><text x="658.7" y="1003.1" text-anchor="end">300</text><text x="658.7" y="928.1" text-anchor="end">400</text><text x="1104.6" y="1228.1">0</text><text x="1104.6" y="1136.5">50</text><text x="1104.6" y="1044.9">100</text><text x="1104.6" y="953.3">150</text><text x="668.2" y="1251.6" text-anchor="middle">600</text><text x="762.7" y="1251.6" text-anchor="middle">800</text><text x="857.3" y="1251.6" text-anchor="middle">1000</text><text x="951.8" y="1251.6" text-anchor="middle">1200</text><text x="1046.3" y="1251.6" text-anchor="middle">1400</text></g><path d="M749.2 1089.3h0M750.2 1115h0M751.5 1123.1h0M752.8 1144h0M754.1 1148.8h0M755 1156.8h0M756.3 1161.7h0M757.6 1168.1h0M758.9 1182.6h0M760.5 1187.4h0M762.1 1198.7h0M763.7 1203.5h0M765.3 1209.9h0M766.4 1211.5h0M767.6 1213.1h0M768.8 1213.9h0M770.1 1214.7h0M771.7 1215.1h0M773.4 1215.4h0M775 1215.7h0M776.6 1215.8h0M778.2 1216h0M779.8 1216.1h0M781.4 1216.2h0M783 1216.4h0M784.5 1216.3h0M785.9 1216.2h0M787.4 1216.2h0M788.9 1216.1h0M790.3 1216.1h0M791.8 1216h0M793.2 1215.9h0M794.7 1215.9h0M796.2 1215.8h0M797.6 1215.8h0M799.1 1215.7h0M800.5 1215.6h0M802 1215.5h0M803.5 1215.4h0M804.9 1215.4h0M806.4 1215.3h0M807.9 1215.2h0M809.3 1215.1h0M810.8 1215h0M812.2 1214.9h0M813.7 1214.8h0M815.2 1214.7h0M816.6 1214.6h0M818.1 1214.5h0M819.6 1214.3h0M821 1214.2h0M822.5 1214h0M823.9 1213.9h0M825.4 1213.7h0M826.9 1213.6h0M828.3 1213.4h0M829.8 1213.3h0M831.3 1213.1h0M832.9 1212.6h0M834.5 1212.1h0M836.1 1211.5h0M837.7 1211h0M839.3 1210.5h0M840.9 1209.9h0M842.5 1209.4h0M844.1 1208.8h0M845.7 1208.3h0M847.3 1207.8h0M848.9 1207.2h0M850.6 1206.7h0M852.2 1205.5h0M853.8 1204.3h0M855.4 1203.1h0M857 1201.9h0M858.6 1199.2h0M860.2 1196.5h0M861.8 1193.8h0M863.4 1189h0M865 1184.2h0M866.6 1179.4h0M868.2 1174.5h0M869.9 1169.7h0M871.5 1164.9h0M873.1 1160.9h0M874.7 1156.8h0M876.3 1154.4h0M877.9 1152h0M879.5 1151.2h0M881.1 1150.4h0M882.7 1152.8h0M884.3 1155.2h0M885.9 1158.5h0M887.5 1161.7h0M889.2 1164.9h0M890.8 1168.1h0M892.4 1171.3h0M894 1174.5h0M895.4 1176.1h0M896.8 1177.8h0M898.2 1179.4h0M899.4 1179.9h0M900.7 1180.4h0M902 1181h0M903.6 1179.4h0M905.2 1177.8h0M906.8 1175.3h0M908.5 1172.9h0M910.1 1171.3h0M911.7 1169.7h0M913.3 1170.5h0M914.9 1171.3h0M916.5 1172.9h0M918.1 1174.5h0M919.7 1177.8h0M921.3 1181h0M922.9 1185.8h0M924.5 1190.6h0M926.1 1193.8h0M927.8 1197.1h0M929.4 1200.3h0M931 1203.5h0M932.6 1206.7h0M934.2 1209.9h0M935.8 1211.5h0M937.4 1213.1h0M939 1214.7h0M940.6 1215.8h0M942.2 1216.9h0M943.8 1218h0M945.4 1218.4h0M947.1 1218.6h0M948.7 1218.6h0M950.3 1218.6h0M951.9 1218.6h0M953.5 1218.6h0M955.1 1218.6h0M956.7 1218.6h0M958.3 1218.6h0M959.9 1218.6h0M961.4 1218.6h0M962.9 1218.6h0M964.4 1218.6h0M966 1218.6h0M967.5 1218.6h0M969 1218.6h0M970.5 1218.6h0M972 1218.6h0M973.5 1218.6h0M975 1218.6h0M976.5 1218.6h0M978 1218.6h0M979.5 1218.6h0M981 1218.6h0M982.5 1218.6h0M984 1218.6h0M703.2 910.1h0M703.9 926.2h0M704.8 950h0M705.8 959h0M707.4 975.1h0M708.4 979.9h0M709.7 976.7h0M710.6 997.6h0M711.6 1004.1h0M712.9 996h0M714.2 1002.4h0M715.5 1004.1h0M716.4 1016.9h0M717.7 1015.3h0M718.7 1031.4h0M720 1034.6h0M721.2 1032.4h0M722.5 1045.9h0M722.8 1070h0M724.5 1062h0M725.7 1079.6h0M727 1058.7h0M728.3 1062h0M729.6 1070h0M730.9 1086.1h0M731.5 1071.6h0M732.8 1047.5h0M734.1 1033h0M735.4 1037.8h0M736.4 1015.3h0M738 1039.4h0M739.6 1015.3h0M740.5 1002.4h0M741.8 984.8h0M743.1 996h0M744.4 1028.2h0M745.7 1042.7h0M747 1010.5h0M747.6 1058.7h0M748.3 1086.1h0" stroke="#eb1c24" stroke-width="8.1" stroke-linecap="round" fill="none"/><path d="M715.5 1208.4L716.7 1208 718.3 1208 720.2 1207.4 721.9 1207.4 723.5 1207.5 725.1 1207.2 726.8 1207.3 728.3 1207.3 729.9 1207.4 731.6 1208.1 733.1 1208.6 734.8 1209 736.4 1209.3 737.9 1210.4 739.5 1210.7 741.3 1211.7 742.7 1212.2 744.3 1213 745.9 1214 747.6 1214.7 749.1 1215.2 750.5 1216.3 752.3 1216.7 754 1217.1 755.4 1217.6 756.8 1218 758.4 1218.4 760.2 1218.9 761.9 1219.2 763.7 1219.7 765.1 1219.6 766.5 1219.9 768.1 1219.9 769.6 1220 771.1 1220.3 772.8 1220.7 774.7 1220.3 776.6 1220.6 777.8 1220.3 779.4 1220.6 780.9 1220.4 782.5 1220.3 784.2 1220.6 785.8 1220.1 787.5 1220.4 789.2 1219.9 790.8 1220.1 792.6 1219.8 794.3 1219.9 796 1219.7 797.5 1219.5 799.2 1219.4 800.8 1219 802.4 1219 804.1 1218.7 805.7 1218.1 807.3 1218.1 809 1217.6 810.5 1217.7 812 1217.3 813.7 1216.8 815.3 1216.4 816.8 1216.1 818.6 1215.6 820.4 1214.6 821.9 1214 823.7 1213.8 825.1 1212.8 826.7 1212.5 828.3 1211.8 829.9 1210.9 831.3 1209.7 832.6 1209.2 834.1 1207.9 835.4 1206.9 836.7 1205.8 838.1 1204.5 839.3 1203.4 840.5 1202.1 841.8 1200.9 843 1199.9 844.1 1198.7 845.2 1197.2 846.2 1196.2 847.3 1195.1 848.2 1194.2 849.1 1192.8 850.2 1191.5 851.1 1190.2 851.9 1188.7 853 1187.3 853.7 1186 854.4 1184.8 855 1183.4 855.5 1181.8 856.3 1180.6 856.9 1179.1 857.5 1177.4 858 1176 858.5 1174.8 859.1 1173.2 859.6 1171.6 860.3 1169.9 860.7 1168.3 861.4 1166.7 861.8 1164.8 862.2 1163.5 862.6 1161.7 863 1160.1 863.5 1158.7 863.9 1157.1 864.5 1155.2 864.7 1153.8 865.3 1152.3 865.6 1150.2 866.1 1149 866.5 1147.1 866.8 1145.5 867.2 1144.1 867.5 1142.3 867.8 1140.7 868.3 1139 868.6 1137.6 869 1135.6 869.3 1134.2 869.7 1132.5 870.2 1130.8 870.5 1128.8 870.7 1127.5 871 1125.7 871.5 1124.3 871.7 1122.3 872 1120.9 872.4 1119.4 872.8 1118.1 873.1 1116.8 873.5 1114.8 874 1112.9 874.4 1111.4 875 1109.4 875.4 1107.8 875.8 1106.4 876.4 1104.9 876.8 1103.4 877.3 1101.9 877.8 1100.3 878.6 1099 879.4 1097.2 880.3 1095.7 881 1094.4 881.8 1093.3 882.7 1091.3 883.4 1089.9 884.3 1087.6 884.7 1086.3 885.3 1085 885.8 1083.5 886.2 1082.3 886.7 1080.9 887.3 1079.3 887.6 1077.5 888.1 1075.9 888.5 1074.3 889 1072.7 889.5 1070.6 890 1068.8 890.3 1067.2 890.9 1065.1 891.1 1063.7 891.4 1062.2 891.6 1060.7 891.9 1059.6 892.2 1058.1 892.4 1056.4 892.6 1055 892.9 1053.4 893.1 1051.9 893.3 1050.3 893.6 1048.4 893.8 1046.7 894.1 1045.3 894.3 1043.6 894.5 1041.7 894.6 1040.1 895 1038.2 895.1 1036.7 895.5 1034.6 895.5 1032.8 895.8 1031.7 895.9 1030.2 896 1028.3 896.3 1027.1 896.5 1025.5 896.7 1023.7 896.9 1022 897 1020.5 897.3 1018.8 897.3 1017.6 897.6 1015.7 897.8 1014.2 898 1012.5 898.1 1010.6 898.2 1009.1 898.4 1007.4 898.7 1005.7 898.7 1004.1 898.9 1002.3 899.2 1000.9 899.2 999.3 899.4 997.6 899.7 996.3 899.7 994.5 899.9 992.6 900.1 991.3 900.3 989.6 900.5 987.7 900.7 986.2 900.9 984.6 901 982.6 901.1 981 901.2 979.1 901.4 977.4 901.5 975.9 901.7 973.9 902 972.6 902 970.8 902.1 969 902.3 967.5 902.6 966 902.8 964.4 903 962.8 903 961.1 903.3 960 903.4 958.7 903.5 957.1 903.6 955.8 904 953.9 904 951.4 904.3 949.9 904.7 948 904.7 945.9 905.1 944.4 905.2 943 905.4 941.2 905.8 939.9 906 938.2 906.2 937.3 906.3 935.7 906.7 934.3 906.9 933.4 907.3 931 908 928.3 908.6 926.8 909 924.8 909.6 923.9 910.1 922.8 911.7 922.5 913.3 925.1 913.5 926.2 913.9 927.6 914.3 928.3 914.5 929.7 914.8 931.4 915.1 933.2 915.4 934.6 915.5 936.8 915.9 938.8 916.2 940.7 916.5 942.9 916.7 944.1 916.9 945.3 917 946.9 917.2 948.4 917.3 949.9 917.5 951.1 917.6 952.5 917.8 953.9 918 955.6 918 957.1 918.2 958.8 918.5 960.6 918.7 962.2 918.7 964.3 919 966 919 967.4 919.3 969.4 919.3 971.1 919.5 973.1 919.7 975.3 919.8 976.6 920 978.1 920.2 979.6 920.1 981 920.3 982.3 920.3 984 920.5 985.6 920.7 987.1 920.6 988.8 921 990.2 921 992.1 921.1 993.4 921.2 995.3 921.3 996.9 921.5 998.4 921.6 1000 921.7 1002 921.8 1003.4 921.8 1005.1 922 1006.9 922.1 1008.6 922.2 1010.1 922.3 1012.1 922.4 1013.4 922.6 1015.3 922.6 1017.1 922.7 1018.6 922.9 1020.3 923 1021.8 923.2 1023.4 923.2 1024.8 923.4 1026.6 923.6 1027.9 923.5 1029.5 923.8 1031.2 923.9 1032.9 924.1 1034.6 924.2 1035.9 924.3 1037.6 924.2 1039.4 924.4 1040.9 924.4 1042.4 924.6 1044 924.8 1045.5 925 1047.1 925.1 1048.7 925.2 1050.7 925.3 1052.2 925.2 1053.9 925.4 1055.4 925.6 1057.1 925.7 1058.6 925.9 1060.1 926 1062 926 1063.5 926.1 1065 926.3 1066.9 926.4 1068.1 926.5 1070.1 926.6 1071.8 926.8 1073.3 926.8 1074.7 927 1076.4 927 1078.1 927.1 1079.6 927.1 1081.4 927.3 1082.9 927.5 1085 927.5 1086.6 927.7 1088 927.8 1089.9 927.8 1091.8 928 1093.3 928.1 1095.1 928.1 1096.7 928.3 1098.1 928.3 1099.8 928.4 1101.6 928.6 1103.2 928.8 1104.7 928.7 1106 929 1107.8 929.1 1109 929.2 1110.6 929.3 1112 929.5 1113.5 929.4 1115.4 929.6 1117 929.8 1118.9 930 1120.6 930.1 1122.3 930.2 1124.3 930.4 1126 930.5 1127.7 930.6 1129.5 930.9 1130.7 931 1132.4 931.1 1134.2 931.4 1135.5 931.4 1137.2 931.6 1138.7 931.7 1140.4 931.8 1141.6 932.1 1143.3 932.2 1144.5 932.2 1146.1 932.5 1147.6 932.6 1148.6 932.8 1150.6 932.9 1152.3 933.1 1154.3 933.4 1156 933.5 1157.8 933.6 1159.6 933.9 1161.2 934.1 1162.7 934.4 1164.3 934.4 1166 934.6 1167.2 935 1168.8 935 1170.4 935.3 1171.5 935.5 1173 935.7 1174.6 936.1 1176.2 936.6 1178.2 936.9 1180.2 937.3 1181.9 937.7 1183.3 938.1 1185 938.5 1186.4 939 1188.3 939.4 1189.4 939.8 1191.1 940.1 1192.7 940.7 1193.9 941.2 1195.9 941.8 1197.7 942.4 1199.3 942.9 1200.8 943.5 1202.4 944.1 1203.8 944.8 1205.3 945.5 1206.7 946.4 1208.3 947.4 1210 948.5 1211.1 949.5 1212.5 950.8 1213.6 951.8 1214.7 953.4 1215.9 954.9 1216.8 956.6 1217.8 958.1 1218.3 959.8 1219.2 961.4 1219.6 962.9 1219.6 964.5 1219.9 966.1 1220.1 967.8 1220.2 969.6 1220.6 971.1 1220.5 972.9 1220.7 974.9 1221 976.8 1221.2 978.3 1220.9 979.7 1220.9 980.7 1221.2" stroke="#000" stroke-width="1.4" fill="none" stroke-linejoin="round"/><path d="M900.5 1207L901.3 1207.4 901.7 1204.1 902.2 1202.9 901.5 1200.1 902.3 1198.6 902.3 1198.5 903.7 1197 902.9 1192.1 903.4 1192.8 904.7 1192.4 905.1 1190.2 904.8 1187.7 904.4 1185.9 905.1 1186 905.4 1183.6 905.3 1181.4 906.3 1181 906.4 1180.2 905.8 1175.6 906 1176.9 907.1 1173 907.3 1170.7 907.6 1168.3 907.6 1170.5 907.1 1167 906.8 1164.8 907.1 1163.4 906.9 1161.9 907.2 1161.2 907.8 1158.4 909 1157.2 908.4 1157.9 908.9 1156.5 908.8 1154.4 908 1152.2 908.6 1148.9 909.5 1148.8 908.9 1145.6 908.9 1146.2 909.7 1141.8 909.7 1139.3 909.4 1139.3 910.8 1139.1 910.1 1137 909.7 1135.2 911.2 1131.4 911.2 1133.2 910.4 1130.9 911.6 1126.7 910.8 1126.9 911.5 1124 911.6 1124.1 911.9 1122.6 912.1 1120.5 911.6 1118.3 911.5 1116.7 911.8 1114.8 911.3 1113.2 912.9 1111.2 913.1 1111.7 912.3 1107.6 913.2 1108.9 912.3 1106.1 913.2 1104.3 912.2 1101.1 913.4 1101.1 913.5 1098.1 914 1098.4 913.4 1097.1 913.2 1094.3 913.7 1094.4 914.6 1090.3 914.5 1088.5 914.8 1089.3 914.5 1084.2 914 1083.2 914.5 1081 913.8 1079.7 915.4 1080.1 915.5 1079.8 915.1 1077.8 915 1075.3 914.7 1073 914.7 1071.5 916.4 1072 916.1 1066.6 916.7 1066.9 916.3 1064.8 916.6 1062.8 915.5 1061.8 915.8 1059.2 916 1059.5 917 1056 917.1 1053.6 917.7 1052.9 917.1 1051.8 917.8 1050.5 916.7 1050.6 917.6 1046.6 918 1047.6 918.1 1045.6 917.6 1041.8 917.2 1042.8 917.6 1039.1 918.8 1036.5 919.1 1036.7 917.9 1036.1 918.9 1031.5 918.8 1032.5 918.5 1029.4 919.7 1027 918.7 1025.2 919.3 1024.9 919 1021.8 918.9 1022.8 919.9 1021.3 919.1 1020.4 920.3 1017.3 920.7 1013.7 920.4 1013 919.5 1013.2 919.6 1011.4 920.2 1010.2 919.9 1007.1 921.7 1005.7 921.2 1003.9 921.2 1001.8 920.8 999.7 921.9 998.1 921.8 998.9 922.3 996.9 922.4 994.4 921.9 990.6 921.2 989.8 922 988.9 921.3 987.7 922 985.4 921.7 985.4 923.1 983.7 922 979.3 923.6 980.2 923.7 978 923.6 974.9 922.5 975.4 923.7 972.2 923.6 971.5 923.3 967.2 923.8 966.5 924.9 964.4 924.3 962.8 924.2 961 924 961.5 925.1 959.5 925.8 959.1 925.1 957.2 925.5 955.3 924.9 954.5 925.9 949.8 924.8 949.4 926.1 947.9 925.8 948.4 925.7 944.3 926.4 943.2 927.1 940.1 927.9 941.8 928 938.4 927.4 935.1 928.6 937.4 928.3 935.6 929.8 934.3 929.4 932.5 929.5 929.8 929.8 929.2 930.3 927.6 931.7 923.4 931 923.7 931.9 922.1 933.2 919.6 933.1 917.8 935.2 916.8 934.8 917.6 936.7 921.7 937 921.4 938.7 924.2 940.2 926.3 941.2 926.9 940.8 929.2 941.9 929 942.1 932.6 943.6 933.8 944.1 934 944.7 937.5 944.7 939.4 944.1 937.5 944.5 942.7 945.7 940.6 946.4 945.5 946.2 945.9 946.7 947.7 947.3 948.6 948.4 951.9 949.6 951.6 950 953.6 949.5 955.4 949.8 957.2 951.2 960.3 951.9 959.8 951.2 960.5 952.2 962.7 951.8 964.2 953.5 967.6 953.7 967.9 954.4 969.9 953.8 970.6 954.3 972.8 954.6 974.5 955.1 975.8 955 977.1 955.8 981.7 955.4 983.3 956.6 981.2 956.8 983.9 956.4 987.7 958 990 957.7 991.5 959.1 991.6 958.8 991.8 959.5 994.6 959.9 995 959 996.3 959.7 999.6 960.4 1001 961.8 1001.3 961.4 1004.6 961 1006.7 962.4 1006.7 963.4 1009.3 963.5 1012.1 963.4 1010.3 964.2 1014.1 963.6 1013.4 965.1 1014.5 964.4 1018.8 966.3 1020.5 966.1 1022.4 966 1021.4 967.3 1023.7 967.3 1026 967.5 1026.6 967.4 1029 969.1 1029.2 968.7 1031.6 968.7 1035.8 969.4 1035 969.8 1038.7 970.6 1039.8 970.9 1042.5 971.4 1040.8 971.6 1044.4 972.1 1045.1 971.9 1048.9 972.4 1050.4 973.3 1049.4 973.2 1051.7 974.3 1052.7 973 1056.8 974 1056.7 974.8 1059.5 974.2 1062.1 975.2 1063.3 974.9 1064.8 975.4 1066 975.5 1068.3 976.7 1067.7 976.3 1069.6 977.4 1072.1 978.6 1074.7 977.8 1076.9 978.6 1077 979.6 1079.9 979.5 1081.5 979.8 1081.3 979.5 1083.7 981 1085.4 979.8 1084.7 981.1 1089 981.8 1090.3 982.4 1090.7 981.8 1093.4 982.4 1095.8 982.9 1094.8 982.5 1096.8 983.9 1100.2 984.7 1100.2 984.6 1103.1 984.1 1102.2 984.7 1104.9 985.8 1109 986.7 1108.6 986.8 1109.9 987.7 1110.3 987.8 1115.5 988.5 1113.8 988.5 1118.1 988.6 1118.6 989.2 1121 990.1 1120 990.1 1123.1 990.8 1123.9 991.5 1126.1 990.7 1127.4 990.9 1128.2 991.7 1133.3 991.7 1133.3 993 1133.7 993.1 1135.1 994 1139.6 994.8 1138.8 994.1 1142.2 995.1 1141.1 996.2 1143.9 997 1144.2 996.9 1147.8 997.5 1148.3 999.2 1152.9 998.4 1154.1 999.9 1154.7 1001.3 1154.5 1001 1155.2 1002.1 1157.9 1002.1 1161.3 1003.7 1162.9 1004.2 1164.2 1004 1165 1005.3 1167 1006 1169.9 1006.6 1168.5 1007.5 1170.2 1009.7 1170.8 1009.8 1173.7 1010.1 1177.3 1011.7 1175.1 1012 1180.3 1013.5 1181.7 1013.8 1181 1014.3 1184.6 1016.1 1186.6 1017.4 1186.5 1018.4 1186.2 1019.5 1189 1020 1189.1 1021.2 1191.1 1022.1 1191.6 1023.7 1193 1024.1 1195.1 1025.6 1194.8 1025.7 1198.4 1027.9 1197.9 1028.9 1198.8 1030.2 1200.7 1031.2 1202.3 1033.1 1203.4 1034 1204.8 1035.1 1205.8 1038.1 1203.5 1038.7 1206.5 1039.5 1205.2 1042.2 1206.2 1043.5 1206.3 1044.2 1208.4 1046.9 1210.6 1047.7 1210.4 1049.6 1209.8 1051.1 1210 1053.1 1210.1 1054.9 1211 1056.5 1212.6 1058 1213.2 1060.1 1216 1060.5 1215.3 1062 1213.8 1064.7 1217.6 1066.1 1215.2 1066.9 1217 1069.2 1217.2 1070.9 1218.6 1072.9 1217.2 1073.2 1219.5 1074.8 1220.4 1076.5 1217.9 1078.9 1220.4 1081.6 1219.2 1082.6 1221.1 1084.8 1221.6 1086.6 1220 1087.9 1219.9 1090.7 1221.5 1091.6 1220 1091.9 1221.4 1093.7 1219.5" stroke="#16189c" stroke-width="1.4" fill="none" stroke-linejoin="round"/><path d="M857 1221.9L857.9 1221.7 859.2 1221.8 860.7 1221.7 862.2 1221.8 864.1 1221.8 865.9 1221.9 867.9 1221.6 869.9 1221.9 871.8 1221.9 873.6 1221.8 875.4 1221.7 876.9 1221.4 878.3 1221.6 879.6 1221.7 882.3 1221.5 883.9 1221.2 885 1220.6 886 1220.2 887.2 1218.9 887.9 1217 888.6 1215.6" stroke="#16189c" stroke-width="1.4" fill="none"/><text x="1089.2" y="911.2" text-anchor="end" font-family="'Liberation Sans', Arial, sans-serif" font-weight="bold" font-size="24.6">TagRFP</text></g>
<g><rect x="1229" y="884.4" width="425.4" height="337.6" fill="none" stroke="#000" stroke-width="2"/><path d="M1229 1222v6.5M1229 884.4v-6.5M1276.3 1222v3.5M1276.3 884.4v-3.5M1323.5 1222v6.5M1323.5 884.4v-6.5M1370.8 1222v3.5M1370.8 884.4v-3.5M1418.1 1222v6.5M1418.1 884.4v-6.5M1465.3 1222v3.5M1465.3 884.4v-3.5M1512.6 1222v6.5M1512.6 884.4v-6.5M1559.9 1222v3.5M1559.9 884.4v-3.5M1607.1 1222v6.5M1607.1 884.4v-6.5M1654.4 1222v3.5M1654.4 884.4v-3.5M1229 1221.8h-6.5M1229 1137.4h-6.5M1229 1053h-6.5M1229 968.6h-6.5M1229 884.2h-6.5M1229 1179.6h-3.5M1229 1095.2h-3.5M1229 1010.8h-3.5M1229 926.4h-3.5M1654.4 1221.8h6.5M1654.4 1167.3h6.5M1654.4 1112.8h6.5M1654.4 1058.3h6.5M1654.4 1003.8h6.5M1654.4 949.3h6.5M1654.4 894.8h6.5M1654.4 1194.5h3.5M1654.4 1140h3.5M1654.4 1085.5h3.5M1654.4 1031h3.5M1654.4 976.5h3.5M1654.4 922h3.5" stroke="#000" stroke-width="2" fill="none"/><g font-family="'Liberation Sans', Arial, sans-serif" font-weight="bold" font-size="24" fill="#000"><text x="1219.5" y="1228.1" text-anchor="end">0</text><text x="1219.5" y="1143.7" text-anchor="end">50</text><text x="1219.5" y="1059.3" text-anchor="end">100</text><text x="1219.5" y="974.9" text-anchor="end">150</text><text x="1219.5" y="890.5" text-anchor="end">200</text><text x="1665.4" y="1228.1">0</text><text x="1665.4" y="1173.6">20</text><text x="1665.4" y="1119.1">40</text><text x="1665.4" y="1064.6">60</text><text x="1665.4" y="1010.1">80</text><text x="1665.4" y="955.6">100</text><text x="1665.4" y="901.1">120</text><text x="1229" y="1251.6" text-anchor="middle">600</text><text x="1323.5" y="1251.6" text-anchor="middle">800</text><text x="1418.1" y="1251.6" text-anchor="middle">1000</text><text x="1512.6" y="1251.6" text-anchor="middle">1200</text><text x="1607.1" y="1251.6" text-anchor="middle">1400</text></g><path d="M1248.1 921.1h0M1249.7 926.9h0M1251.3 930.1h0M1252.9 925.2h0M1253.9 933.3h0M1254.9 941.3h0M1256.2 960.6h0M1257.1 978.3h0M1258.1 990.5h0M1258.7 1006.6h0M1259.7 1017.6h0M1260.7 1031.4h0M1261.6 1040.1h0M1262.6 1050.7h0M1263.2 1062h0M1264.2 1074.2h0M1265.2 1083.5h0M1265.8 1092.5h0M1266.8 1097.3h0M1267.7 1103.8h0M1269 1108.6h0M1270.6 1111.8h0M1272.2 1115h0M1273.8 1118.2h0M1275.5 1121.5h0M1277.1 1124.7h0M1278.7 1129.5h0M1280.3 1134.3h0M1281.9 1140.8h0M1283.5 1145.6h0M1285.1 1150.4h0M1286.7 1153.6h0M1288.3 1156.8h0M1289.9 1161.7h0M1291.5 1168.1h0M1293.1 1174.5h0M1294.8 1182.6h0M1296.4 1190.6h0M1298 1197.1h0M1299.6 1203.5h0M1301.2 1208.3h0M1302.5 1210.7h0M1303.8 1213.1h0M1304.9 1214.7h0M1306 1216.4h0M1307.6 1217.6h0M1309.2 1218.6h0M1310.8 1218.6h0M1312.4 1218.6h0M1314.1 1218.6h0M1315.7 1218.5h0M1317.3 1218h0M1318.9 1218.1h0M1320.5 1218.3h0M1322.1 1218.4h0M1323.7 1218.6h0M1325.3 1218.6h0M1326.9 1218.6h0M1328.5 1218.6h0M1330.1 1218.6h0M1331.7 1218.6h0M1333.4 1218.6h0M1335 1218.6h0M1336.6 1218.6h0M1338.2 1218.2h0M1339.8 1217.8h0M1341.4 1217.4h0M1343 1217h0M1344.6 1216.4h0M1346.2 1215.9h0M1347.8 1215.3h0M1349.4 1214.7h0M1351 1214.2h0M1352.7 1213.6h0M1354.3 1213.1h0M1355.9 1212.5h0M1357.5 1211.9h0M1359.1 1211.2h0M1360.7 1210.6h0M1362.3 1209.9h0M1363.9 1209.1h0M1365.5 1208.3h0M1367.1 1207.5h0M1368.7 1206.7h0M1370.3 1205.7h0M1372 1204.8h0M1373.6 1203.8h0M1375.2 1202.8h0M1376.8 1201.6h0M1378.4 1200.3h0M1380 1199h0M1381.6 1197.7h0M1383.2 1196.5h0M1384.8 1195.3h0M1386.4 1194.1h0M1388 1192.9h0M1389.6 1192.3h0M1391.3 1191.8h0M1392.9 1191.3h0M1394.5 1191.6h0M1396.1 1191.9h0M1397.7 1192.2h0M1399.3 1192.2h0M1400.9 1192.2h0M1402.5 1192.2h0M1400 1194.4h0M1401.4 1193.3h0M1402.9 1192.3h0M1404.3 1191.2h0M1405.7 1190.1h0M1407.1 1189.1h0M1408.6 1188h0M1410 1186.9h0M1411.5 1184.4h0M1413 1181.9h0M1414.5 1179.4h0M1416 1176.9h0M1417.5 1174.5h0M1419.1 1168.6h0M1420.8 1162.8h0M1422.5 1157h0M1424.1 1151.2h0M1425.8 1145.3h0M1427.4 1139.5h0M1429.1 1136.2h0M1430.8 1132.9h0M1432.4 1129.5h0M1434.1 1127.9h0M1435.8 1126.2h0M1437.4 1124.5h0M1439.1 1125h0M1440.8 1125.4h0M1442.4 1125.8h0M1444.1 1125.8h0M1445.7 1125.8h0M1447.4 1125.8h0M1449.1 1125h0M1450.7 1124.1h0M1452.4 1123.3h0M1453.9 1122.5h0M1455.4 1121.6h0M1456.9 1120.8h0M1458.4 1124.5h0M1459.9 1128.3h0M1461.1 1132.7h0M1462.4 1137h0M1463.6 1143.3h0M1464.9 1149.5h0M1466.1 1154.5h0M1467.4 1159.5h0M1468.6 1165.7h0M1469.9 1172h0M1471.1 1178.2h0M1472.4 1184.4h0M1473.6 1189.4h0M1474.9 1194.4h0M1476.1 1199.4h0M1477.4 1204.4h0M1478.6 1208.1h0M1479.8 1211.9h0M1481.7 1214.4h0M1483.6 1216.9h0M1485.1 1217.5h0M1486.7 1218.1h0M1488.3 1218.6h0M1489.8 1218.6h0M1491.3 1218.6h0M1492.8 1218.6h0M1494.3 1218.6h0M1495.8 1218.6h0M1497.3 1218.6h0M1498.8 1218.6h0M1500.3 1218.6h0M1501.8 1218.6h0M1503.3 1218.6h0M1504.8 1218.6h0M1506.3 1218.6h0M1507.8 1218.6h0M1509.3 1218.6h0M1510.8 1218.6h0M1512.2 1218.6h0M1513.7 1218.6h0M1515.2 1218.6h0M1516.7 1218.6h0M1518.2 1218.6h0M1519.7 1218.6h0M1521.2 1218.6h0M1522.7 1218.6h0M1524.2 1218.6h0M1525.7 1218.6h0M1527.1 1218.6h0M1528.6 1218.6h0M1530.1 1218.6h0M1531.6 1218.6h0M1533.1 1218.6h0M1534.6 1218.6h0M1536.1 1218.6h0M1537.6 1218.6h0M1539.1 1218.6h0M1540.6 1218.6h0M1542 1218.6h0M1543.5 1218.6h0M1545 1218.6h0M1546.5 1218.6h0M1548 1218.6h0M1549.5 1218.6h0M1551 1218.6h0M1552.5 1218.6h0M1554 1218.6h0M1555.4 1218.6h0M1556.9 1218.6h0M1558.4 1218.6h0M1559.9 1218.6h0M1561.4 1218.6h0M1562.9 1218.6h0M1564.4 1218.6h0M1565.9 1218.6h0M1567.4 1218.6h0M1568.9 1218.6h0M1570.3 1218.6h0M1571.8 1218.6h0M1573.3 1218.6h0M1574.8 1218.6h0M1576.3 1218.6h0M1577.8 1218.6h0M1579.3 1218.6h0M1580.8 1218.6h0M1582.3 1218.6h0M1583.8 1218.6h0M1585.2 1218.6h0M1586.7 1218.6h0M1588.2 1218.6h0M1589.7 1218.6h0M1591.2 1218.6h0M1592.7 1218.6h0M1594.2 1218.6h0M1595.7 1218.6h0M1597.2 1218.6h0M1598.6 1218.6h0M1600.1 1218.6h0M1601.6 1218.6h0M1603.1 1218.6h0M1604.6 1218.6h0M1266.1 1089.5h0M1266.6 1091.6h0M1267.5 1093.8h0M1267.2 1095.9h0M1267.6 1098.1h0M1268.1 1100.2h0M1267.8 1102.3h0M1268.7 1104.5h0M1269.8 1106.3h0M1271 1108.2h0M1270.8 1110.1h0M1272.1 1111.9h0M1272.7 1113.8h0M1274.7 1115.7h0M1275.5 1117.6h0M1275.4 1119.4h0M1277.6 1121.4h0M1278.4 1123.4h0M1278.6 1125.4h0M1279.3 1127.4h0M1279.3 1129.4h0M1279.7 1131.5h0M1281.2 1133.6h0M1281 1135.6h0M1281.9 1137.7h0M1282.6 1139.8h0M1282.9 1141.9h0M1284.2 1143.7h0M1284.8 1145.6h0M1286 1147.5h0M1286.1 1149.4h0M1287.6 1151h0M1288.6 1152.7h0M1290.1 1154.3h0M1290.2 1156.3h0M1290.3 1158.3h0M1291.8 1160.3h0M1292.2 1162.3h0M1292.4 1164.3h0M1292.5 1166.4h0M1292.1 1168.5h0M1292.3 1170.5h0M1292.7 1172.6h0M1292.6 1174.7h0M1294 1176.8h0M1293.8 1178.9h0M1295 1180.9h0M1294.6 1183h0M1296 1185.1h0M1296.2 1187.2h0M1295.3 1189.3h0M1296.1 1191.2h0M1297.7 1193.2h0M1297.5 1195.2h0M1298.8 1197.2h0M1298.4 1199.2h0M1298.6 1201.2h0M1300.3 1203.2h0M1301.3 1205.2h0M1301.2 1207.2h0M1301.6 1209.2h0M1303.3 1210.8h0M1305.5 1212.3h0M1306.5 1213.9h0M1306.7 1215.4h0M1308.6 1216.3h0M1310 1217.1h0M1312.3 1217.9h0" stroke="#eb1c24" stroke-width="8.1" stroke-linecap="round" fill="none"/><path d="M1277.1 1219.1L1278 1218.9 1279.5 1219.3 1280.9 1219.3 1282.9 1219.6 1284.6 1220 1286.4 1220.1 1288.3 1220.2 1289.9 1220.2 1291.4 1220.4 1293 1220.6 1294.5 1221.1 1296.1 1220.9 1297.8 1221.4 1299.4 1221.5 1301.1 1221.3 1302.6 1221.5 1304.2 1221.6 1305.8 1221.9 1307.2 1221.7 1308.7 1221.8 1310.5 1221.9 1312 1221.9 1313.7 1222 1315.5 1221.6 1317.4 1222 1318.7 1222 1320.3 1221.8 1321.9 1221.9 1323.4 1221.5 1325 1221.6 1326.8 1221.7 1328.3 1221.7 1329.9 1221.3 1331.7 1221.6 1333.4 1221.3 1335 1221.1 1336.5 1221.4 1338.2 1220.9 1339.7 1221.1 1341.3 1220.7 1343.1 1220.7 1344.6 1220.7 1346.2 1220.5 1347.8 1220.6 1349.5 1220.5 1350.9 1220 1352.7 1219.9 1354.3 1219.7 1355.8 1219.7 1357.5 1219.4 1359 1219.3 1360.8 1218.8 1362.4 1218.7 1364.2 1218.1 1365.8 1218.1 1367.3 1217.7 1369 1217.3 1370.6 1217.1 1372.2 1216.4 1373.6 1216.5 1375.1 1215.6 1376.8 1214.9 1378.4 1214.6 1379.9 1213.8 1381.6 1213.2 1383 1212.1 1384.5 1211.7 1386.2 1210.5 1387.5 1209.6 1388.8 1208.7 1390.1 1208 1391.3 1206.9 1392.5 1205.5 1393.4 1204.4 1394.4 1202.7 1395.2 1201.2 1396.1 1200.2 1396.7 1198.5 1397.6 1197.1 1398.3 1195.1 1399.1 1193.6 1400 1191.8 1400.7 1190.6 1401.4 1189 1402.3 1187.8 1403 1185.9 1403.8 1184.4 1404.8 1182.9 1405.4 1181.5 1406.3 1179.8 1407.1 1178.1 1407.7 1176.7 1408.5 1175.1 1409.2 1173.6 1410 1172 1410.6 1170.4 1411.3 1168.9 1412 1167.4 1412.6 1165.9 1413.1 1164.2 1413.6 1162.6 1414.2 1161.5 1414.9 1159.8 1415.5 1158.2 1415.9 1156.9 1416.4 1155.2 1416.9 1153.7 1417.4 1152 1417.9 1150.6 1418.4 1148.9 1418.7 1147.2 1419 1146 1419.5 1144.2 1419.7 1142.8 1420 1141 1420.3 1139.5 1420.8 1137.7 1421.2 1136.1 1421.4 1134.6 1421.8 1132.9 1422.1 1131.2 1422.5 1129.4 1422.8 1127.8 1423.1 1126.2 1423.5 1124.6 1423.7 1123.1 1424.1 1121.1 1424.5 1119.3 1424.8 1117.9 1425.1 1115.9 1425.4 1114.2 1425.8 1112.5 1426 1111.1 1426.5 1109.1 1426.8 1107.5 1427.1 1106.1 1427.4 1104.3 1427.9 1102.6 1428.2 1100.7 1428.8 1099.2 1429 1097.4 1429.5 1095.2 1429.9 1093.7 1430.3 1091.8 1430.7 1090.3 1431.1 1088.9 1431.7 1087.5 1431.9 1085.9 1432.5 1084.6 1433.3 1082.6 1434.2 1080.4 1434.9 1079.2 1435.7 1077.6 1436.6 1076.1 1437.4 1074.8 1438.3 1073 1439.1 1071.6 1439.9 1070.1 1440.9 1068.5 1441.7 1066.8 1442.4 1064.9 1443 1063.4 1443.2 1061.7 1443.7 1060.5 1444.2 1059 1444.6 1057.3 1444.9 1055.7 1445.4 1053.8 1445.8 1051.6 1446.1 1049.5 1446.5 1048.4 1446.6 1046.9 1446.9 1045.2 1447.3 1043.9 1447.5 1042.4 1447.6 1040.6 1447.9 1039.1 1448.2 1037.3 1448.4 1035.7 1448.7 1033.8 1448.8 1032.2 1449.1 1030.3 1449.5 1028.2 1449.6 1026.6 1450 1024.7 1450 1023.1 1450.2 1021.5 1450.5 1020.1 1450.7 1018.7 1450.9 1016.9 1451.1 1015.1 1451.3 1013.8 1451.6 1012.1 1451.8 1010.2 1452 1008.9 1452.1 1007 1452.4 1005.3 1452.7 1003.7 1452.8 1001.7 1453.1 1000 1453.3 998.3 1453.5 996.6 1453.7 994.7 1453.9 993.1 1454 991.6 1454.1 990.1 1454.3 988.6 1454.5 987 1454.7 985.4 1455 983.5 1455 981.9 1455.3 980 1455.4 978.3 1455.7 976.9 1455.8 975 1455.9 973.5 1456 971.5 1456.3 970.2 1456.4 968.5 1456.6 966.6 1456.8 965.1 1456.9 963.3 1457.1 961.7 1457.3 960 1457.6 958.4 1457.8 956.4 1458 954.5 1458.2 952.9 1458.3 951.4 1458.6 949.4 1458.6 947.4 1458.8 945.7 1459 943.8 1459.3 942.4 1459.4 940.6 1459.6 938.6 1459.7 937 1460 935.4 1460.2 933.5 1460.4 932 1460.5 930.6 1460.6 929.1 1460.7 927.3 1460.9 926.2 1461.2 925 1461.4 922.5 1461.6 920.7 1461.9 918.6 1462.1 916.7 1462.5 915.3 1462.5 913.9 1462.9 912.1 1463.1 910.8 1463.2 909.9 1463.5 908.6 1463.6 907.3 1464.3 904.7 1464.7 902.8 1465 901.6 1465.6 901 1466.2 901.8 1466.4 902.9 1466.9 904.9 1467.4 907.5 1467.8 910 1468 911.1 1468.2 912.6 1468.6 913.9 1468.7 915.3 1468.9 916.8 1469 918.2 1469.3 920.2 1469.6 921.9 1469.7 923.9 1470 925.7 1470.2 927.8 1470.4 929.7 1470.5 931.3 1470.6 932.8 1470.7 934.1 1470.8 935.8 1470.9 937.3 1471.1 938.6 1471.3 940.5 1471.4 942 1471.5 943.7 1471.6 945.1 1471.6 947.1 1471.9 948.6 1471.9 950.5 1472 952.4 1472.2 954.2 1472.2 956.1 1472.4 957.7 1472.6 959.5 1472.6 961.2 1472.7 962.8 1472.9 964.9 1472.9 966.3 1473.1 967.8 1473.2 969.6 1473.2 971.1 1473.4 972.7 1473.4 974 1473.6 975.4 1473.6 977.3 1473.7 979.1 1473.8 980.3 1474 982.3 1474 983.8 1474.1 985.1 1474.2 987 1474.3 988.8 1474.5 990.4 1474.5 991.9 1474.7 993.5 1474.9 995.2 1474.9 996.6 1475 998.2 1475 1000 1475.2 1001.6 1475.3 1003.2 1475.4 1004.8 1475.4 1006.4 1475.6 1008.1 1475.6 1009.6 1475.7 1011.3 1475.8 1012.6 1476 1014.4 1476.1 1015.8 1476.1 1017.5 1476.1 1019.1 1476.5 1020.8 1476.5 1022.4 1476.6 1023.7 1476.7 1025.7 1476.8 1027.1 1476.9 1028.8 1477 1030.5 1477.1 1032.1 1477.1 1033.6 1477.2 1035.3 1477.2 1036.7 1477.5 1038.1 1477.6 1039.8 1477.6 1041.5 1477.7 1043.2 1478 1044.8 1478 1046.1 1478 1048 1478.1 1049.7 1478.3 1051 1478.4 1052.6 1478.4 1054.6 1478.6 1055.8 1478.5 1057.4 1478.8 1059.3 1478.9 1061.1 1478.9 1062.4 1479 1064.2 1479 1065.6 1479.2 1067.4 1479.4 1068.8 1479.5 1070.7 1479.7 1072 1479.6 1073.9 1479.9 1075.2 1479.9 1076.7 1479.9 1078.4 1480 1080 1480.1 1081.5 1480.3 1083.2 1480.4 1084.5 1480.4 1086.3 1480.5 1088 1480.7 1090.1 1480.7 1091.4 1480.8 1093.4 1481.1 1094.9 1481.3 1096.5 1481.3 1098.3 1481.3 1100 1481.6 1101.5 1481.5 1103.2 1481.8 1104.8 1481.7 1106.5 1482 1108.2 1482 1109.6 1482.2 1111.2 1482.4 1112.8 1482.5 1114.8 1482.5 1116.2 1482.8 1117.8 1482.9 1119.5 1483 1121.3 1483.2 1123 1483.2 1124.7 1483.4 1126.5 1483.5 1127.8 1483.7 1130 1483.9 1131.5 1483.9 1133.2 1484.2 1134.8 1484.4 1136.7 1484.4 1138.2 1484.6 1140.1 1484.8 1141.7 1484.9 1143.3 1485 1145.1 1485.3 1146.7 1485.5 1148.3 1485.6 1150.1 1485.7 1151.3 1485.8 1152.9 1486 1154.3 1486.2 1156.3 1486.5 1158.4 1486.6 1160.1 1486.8 1161.7 1487 1163.2 1487.3 1164.9 1487.5 1167.1 1487.7 1168.6 1487.9 1170.1 1488.2 1171.5 1488.5 1173.1 1488.6 1174.6 1488.8 1176.4 1489.2 1178 1489.4 1179.4 1489.6 1180.6 1489.7 1182.2 1490.3 1183.7 1490.7 1185.7 1491 1187.3 1491.5 1189.1 1491.9 1191 1492.3 1192.3 1492.8 1193.7 1493.1 1195.4 1493.6 1196.8 1494.4 1198 1494.9 1199.4 1495.6 1201 1496.3 1202.7 1497 1204.4 1497.9 1205.6 1498.6 1207.1 1499.6 1208.2 1500.4 1209.6 1501.4 1210.6 1502.4 1212.1 1503.6 1213.2 1504.9 1214.4 1506.2 1215 1507.8 1216.1 1509.2 1216.6 1510.7 1217.3 1512.4 1218 1513.9 1218.9 1515.6 1219.3 1517.3 1219.5 1519.2 1220 1520.9 1220.3 1522.4 1220.8 1523.7 1221 1524.7 1221.2" stroke="#000" stroke-width="1.4" fill="none" stroke-linejoin="round"/><path d="M1419.9 1222.9L1420.8 1223.3 1422.2 1222.9 1423.7 1222.4 1425.4 1222.2 1427.2 1222 1429.1 1221.5 1430.8 1220.9 1432.8 1220.5 1434.5 1220.4 1435.9 1220.1 1437.3 1219.7 1439.4 1218.4 1441 1218.1 1442.3 1217.3 1443.7 1216.7 1445.1 1215.6 1446.1 1213.6 1447.5 1212 1447.9 1211.1 1448.6 1209.4 1448.9 1208.5 1449.5 1207.1 1450 1205.5 1450.2 1203.8 1450.8 1202.7 1451.2 1201.1 1451.7 1199.5 1452.1 1197.2 1452.3 1195.1 1452.7 1193.8 1453.4 1191.7 1453.5 1189.6 1453.8 1188.4 1454.2 1187 1454.4 1185.3 1454.7 1184.3 1454.7 1182.5 1455.2 1181.2 1455.3 1179.5 1455.7 1177.8 1455.6 1176.6 1455.9 1175.2 1456.1 1173.6 1456.4 1171.9 1456.7 1170.1 1456.7 1168 1456.9 1166.3 1457.3 1164.4 1457.4 1163.1 1457.5 1161.1 1457.8 1159.6 1457.9 1158 1458.3 1155.9 1458.5 1153.9 1458.8 1152.3 1458.9 1150.2 1458.9 1149.5 1459.1 1147.7 1459.2 1146 1459.4 1145 1459.3 1143.3 1459.6 1141.7 1459.8 1140.6 1460 1138.6 1459.8 1137.5 1460.1 1136 1460.3 1134 1460.3 1132.4 1460.5 1131.2 1460.4 1129.4 1460.7 1127.6 1460.6 1126.2 1460.7 1124.5 1461.1 1123.2 1460.9 1121.5 1461.3 1119.7 1461.2 1118.1 1461.3 1116.4 1461.5 1114.3 1461.6 1113 1461.7 1111.3 1461.9 1109 1462.1 1107.5 1462 1105.9 1462.2 1103.5 1462.5 1102.3 1462.4 1100.4 1462.6 1099.3 1462.7 1097.7 1462.8 1096.4 1462.7 1094.4 1463 1093.4 1463.2 1091.9 1463.1 1090.3 1463.1 1088.5 1463.2 1087.2 1463.6 1085.5 1463.6 1083.7 1463.7 1081.9 1463.7 1080.5 1464 1078.7 1463.8 1077.1 1464.1 1075.6 1464.3 1074 1464.3 1072.3 1464.4 1071.2 1464.5 1069.4 1464.6 1067.9 1464.8 1065.7 1464.8 1064.5 1464.7 1062.4 1465 1060.9 1465 1059.6 1465.1 1057.5 1465.2 1056 1465.2 1054.5 1465.5 1052.5 1465.6 1051.3 1465.6 1049.2 1465.7 1047.6 1465.6 1046.5 1465.8 1044.2 1466.1 1043.3 1466 1041.2 1466.1 1039.9 1466 1038.2 1466.2 1036.8 1466.4 1035.2 1466.5 1033.4 1466.4 1031.4 1466.6 1029.9 1466.7 1028.3 1466.7 1026.8 1467.2 1025.3 1467.1 1023.8 1467.3 1021.9 1467.3 1019.8 1467.5 1018.8 1467.6 1017 1467.7 1015.5 1467.8 1013.7 1467.6 1012.2 1467.9 1010.2 1467.9 1008.4 1467.9 1007 1468.2 1005 1468.4 1004 1468.5 1002.1 1468.4 1000.4 1468.5 999.2 1468.8 997.5 1468.7 995.6 1468.9 993.9 1468.8 992.8 1468.9 990.7 1469.1 989 1469.2 987.5 1469.4 985.9 1469.5 984.5 1469.6 983.5 1469.7 981.5 1469.8 980 1469.7 978.4 1469.9 977 1470 975.9 1470.2 973.8 1470.1 972.3 1470.3 970.4 1470.3 968.1 1470.8 966.7 1470.6 964.6 1470.8 962.7 1470.9 960.8 1471.1 959.3 1471.1 957.6 1471.3 955.8 1471.5 953.8 1471.4 952.4 1471.6 950.7 1471.9 949.4 1472 947.7 1471.9 945.7 1472 944 1472.2 942.4 1472.3 941.4 1472.5 939.9 1472.7 938.2 1472.8 936.7 1473 935.2 1473 933.6 1473 932.4 1473.2 930.8 1473.5 929.5 1473.5 928.4 1473.6 927.7 1474 924.9 1474.2 922.9 1474.4 920.4 1474.7 918.7 1474.9 916.9 1475.2 915 1475.6 912.9 1475.8 912.1 1476.1 910.1 1476.4 909.3 1476.7 908 1477.1 907.1 1477.1 905.9 1477.4 904.8 1478.4 901.4 1479.2 900.9 1479.7 902.1 1480.5 903.3 1481.1 904.5 1481.6 907.1 1482.3 909.8 1482.5 910.9 1482.7 912.5 1482.9 913.7 1483.3 915.5 1483.7 916.7 1483.7 918.5 1484.2 920.1 1484.6 921.7 1484.7 923.5 1484.9 925.3 1485.1 927.2 1485.6 929 1485.7 930.8 1486.2 932.8 1486.4 933.6 1486.6 935.1 1486.9 936.6 1486.8 938.4 1487 940.4 1487.6 941.4 1487.8 943.1 1488 944.6 1488.2 946.4 1488.2 948.1 1488.3 949.4 1488.7 951.5 1489.1 953.1 1489.1 954.6 1489.2 956.8 1489.7 958 1489.9 960 1490.1 961.4 1490.4 963.4 1490.5 964.4 1490.6 966.4 1491 967.9 1491.1 969.2 1491.1 971 1491.6 972.6 1491.8 974.6 1491.8 976.2 1492.2 977.5 1492.4 979.8 1492.7 981.1 1492.8 983.2 1492.9 984.9 1493.2 986.7 1493.3 987.8 1493.6 990 1493.9 991.6 1494 993.3 1494.3 994.7 1494.2 995.9 1494.5 997.5 1494.6 1000 1494.8 1001.4 1495.2 1002.8 1495.3 1005 1495.5 1006.2 1495.8 1008.2 1495.7 1009.9 1496.1 1011.6 1496.3 1013.2 1496.3 1014.8 1496.7 1016.5 1496.6 1018.2 1497 1019.6 1497.1 1021 1497.4 1022.1 1497.6 1024.4 1497.7 1026.3 1498.1 1028.1 1498.3 1029.8 1498.6 1031.3 1498.6 1033.2 1499.1 1034.9 1499.3 1036.5 1499.4 1038.2 1499.7 1039.4 1499.9 1041.6 1500.5 1042.9 1500.7 1044.1 1500.9 1045.7 1500.9 1047.3 1501.2 1048.9 1501.6 1050.7 1502.2 1052.6 1502.3 1054 1502.5 1055.6 1503 1057.5 1503.3 1059.1 1503.5 1060.4 1503.9 1062.2 1504.4 1063.6 1504.9 1065 1505.6 1066.1 1506 1067.8 1507.1 1069.5 1507.7 1071.3 1508.5 1072.5 1509.6 1073.9 1510.4 1075.6 1511.1 1077.1 1511.9 1078.9 1512.6 1080.1 1513.4 1082 1514.1 1083.1 1515 1085.1 1515.8 1086.3 1516.7 1088.1 1517.4 1089.5 1518.1 1091.2 1518.6 1092.3 1519.3 1093.8 1520 1095.8 1520.3 1097.2 1521.1 1098.3 1521.7 1100.7 1522.2 1102.1 1522.7 1103.3 1523.1 1105.1 1523.8 1106.2 1523.9 1108.1 1524.4 1110 1524.9 1111 1525.4 1112.9 1525.9 1114.6 1526.3 1116.7 1526.6 1117.7 1527.4 1119.3 1527.6 1121.1 1528.2 1123 1528.7 1124.1 1529.2 1125.6 1529.6 1127.8 1529.8 1129 1530.3 1130.6 1531 1132.5 1531.4 1133.5 1531.7 1135.8 1532.3 1137.2 1532.6 1138.3 1533.1 1140.3 1533.4 1142.2 1534 1143.8 1534.6 1145 1534.8 1147 1535.3 1148.4 1535.9 1150.3 1536.3 1151.4 1536.9 1152.7 1537.2 1154.3 1537.8 1156.3 1538.3 1157.4 1538.8 1159.5 1539.6 1161 1540 1162 1540.6 1163.7 1541.4 1165.3 1542.1 1166.4 1542.6 1168.2 1543.6 1169.3 1544.2 1171 1545 1172.7 1545.9 1174.1 1546.7 1175.5 1547.8 1177.6 1548.4 1178.7 1549.5 1180.2 1550.3 1181.8 1551.2 1183 1552.3 1184.8 1553.2 1186.2 1554.4 1187.4 1555.6 1188.6 1556.9 1190 1558 1190.9 1559.7 1192.1 1560.8 1193.3 1562.3 1194.6 1563.4 1195.3 1564.8 1196.7 1566.1 1197.7 1567.2 1198.9 1568.8 1200.3 1570 1201.3 1571.6 1201.9 1573.1 1203.3 1574.8 1204.6 1575.9 1204.8 1577.2 1205.9 1578.5 1206.9 1580.2 1207.5 1581.3 1208.4 1582.9 1208.7 1584.3 1209.7 1585.8 1210.2 1587.6 1211.3 1588.9 1211.5 1590.5 1212.4 1592.3 1212.9 1593.8 1213.7 1595.2 1214.2 1596.7 1215 1598 1215 1599.3 1215.3 1600.8 1216 1602.4 1216.3 1604.2 1216.9 1606 1217.3 1607.6 1217 1609.9 1217.5 1612.1 1217.8 1613.4 1218.3 1614.8 1218.7 1616.4 1218.5 1618 1218.8 1619.6 1218.9 1621.3 1219.4 1623.1 1219.4 1625.1 1219.6 1627.1 1220.1 1628.9 1219.7 1630.7 1220.5 1632.7 1220.3 1634.5 1220.6 1636.4 1220.7 1638.2 1221.2 1640.1 1221.3 1641.8 1220.8 1643.3 1221.1 1644.7 1221.4 1646.1 1221.6 1647.4 1221.3 1648.7 1221.4 1649.7 1222.3 1653.8 1222.1 1654.5 1222.2 1654.5 1222.6" stroke="#16189c" stroke-width="1.4" fill="none" stroke-linejoin="round"/><text x="1651.2" y="910.8" text-anchor="end" font-family="'Liberation Sans', Arial, sans-serif" font-weight="bold" font-size="24.6">mOrange</text></g>
<text x="322.9" y="27.3" text-anchor="middle" font-family="'Liberation Sans', Arial, sans-serif" font-weight="bold" font-size="32.4">Transition wavelength, nm</text>
<text x="888.8" y="27.3" text-anchor="middle" font-family="'Liberation Sans', Arial, sans-serif" font-weight="bold" font-size="32.4">Transition wavelength, nm</text>
<text x="1444.6" y="26.3" text-anchor="middle" font-family="'Liberation Sans', Arial, sans-serif" font-weight="bold" font-size="32.4">Transition wavelength, nm</text>
<text x="319" y="1330.2" text-anchor="middle" font-family="'Liberation Sans', Arial, sans-serif" font-weight="bold" font-size="32.3">Laser wavelength, nm</text>
<text x="900.3" y="1321.3" text-anchor="middle" font-family="'Liberation Sans', Arial, sans-serif" font-weight="bold" font-size="32.3">Laser wavelength, nm</text>
<text x="1450.5" y="1333.4" text-anchor="middle" font-family="'Liberation Sans', Arial, sans-serif" font-weight="bold" font-size="32.3">Laser wavelength, nm</text>
<text transform="translate(30.2 290.5) rotate(-90)" text-anchor="end" font-family="'Liberation Sans', Arial, sans-serif" font-weight="bold" font-size="33.5"><tspan font-weight="normal" font-size="30">σ</tspan><tspan font-size="25" dy="12.5">2</tspan><tspan dy="-12.5">,</tspan></text>
<text transform="translate(30.2 279.3) rotate(-90) scale(1 1.08)" font-family="'Liberation Sans', Arial, sans-serif" font-weight="bold" font-size="33.5">GM</text>
<text transform="translate(30.3 687.2) rotate(-90)" text-anchor="end" font-family="'Liberation Sans', Arial, sans-serif" font-weight="bold" font-size="33.5"><tspan font-weight="normal" font-size="30">σ</tspan><tspan font-size="25" dy="12.5">2</tspan><tspan dy="-12.5">,</tspan></text>
<text transform="translate(30.3 676) rotate(-90) scale(1 1.08)" font-family="'Liberation Sans', Arial, sans-serif" font-weight="bold" font-size="33.5">GM</text>
<text transform="translate(28.4 1070.4) rotate(-90)" text-anchor="end" font-family="'Liberation Sans', Arial, sans-serif" font-weight="bold" font-size="33.5"><tspan font-weight="normal" font-size="30">σ</tspan><tspan font-size="25" dy="12.5">2</tspan><tspan dy="-12.5">,</tspan></text>
<text transform="translate(28.4 1059.2) rotate(-90) scale(1 1.08)" font-family="'Liberation Sans', Arial, sans-serif" font-weight="bold" font-size="33.5">GM</text>
<text transform="translate(1758 272) rotate(-90)" text-anchor="end" font-family="'Liberation Sans', Arial, sans-serif" font-weight="bold" font-size="33.5"><tspan font-weight="normal" font-size="30">σ</tspan><tspan font-size="25" dy="12.5">2</tspan><tspan dy="-12.5">x</tspan><tspan font-weight="normal" font-size="30">φ</tspan><tspan>,</tspan></text>
<text transform="translate(1758 261) rotate(-90) scale(1 1.08)" font-family="'Liberation Sans', Arial, sans-serif" font-weight="bold" font-size="33.5">GM</text>
<text transform="translate(1757.3 669.3) rotate(-90)" text-anchor="end" font-family="'Liberation Sans', Arial, sans-serif" font-weight="bold" font-size="33.5"><tspan font-weight="normal" font-size="30">σ</tspan><tspan font-size="25" dy="12.5">2</tspan><tspan dy="-12.5">x</tspan><tspan font-weight="normal" font-size="30">φ</tspan><tspan>,</tspan></text>
<text transform="translate(1757.3 658.3) rotate(-90) scale(1 1.08)" font-family="'Liberation Sans', Arial, sans-serif" font-weight="bold" font-size="33.5">GM</text>
<text transform="translate(1756 1065.3) rotate(-90)" text-anchor="end" font-family="'Liberation Sans', Arial, sans-serif" font-weight="bold" font-size="33.5"><tspan font-weight="normal" font-size="30">σ</tspan><tspan font-size="25" dy="12.5">2</tspan><tspan dy="-12.5">x</tspan><tspan font-weight="normal" font-size="30">φ</tspan><tspan>,</tspan></text>
<text transform="translate(1756 1054.3) rotate(-90) scale(1 1.08)" font-family="'Liberation Sans', Arial, sans-serif" font-weight="bold" font-size="33.5">GM</text>
</svg></body></html>
